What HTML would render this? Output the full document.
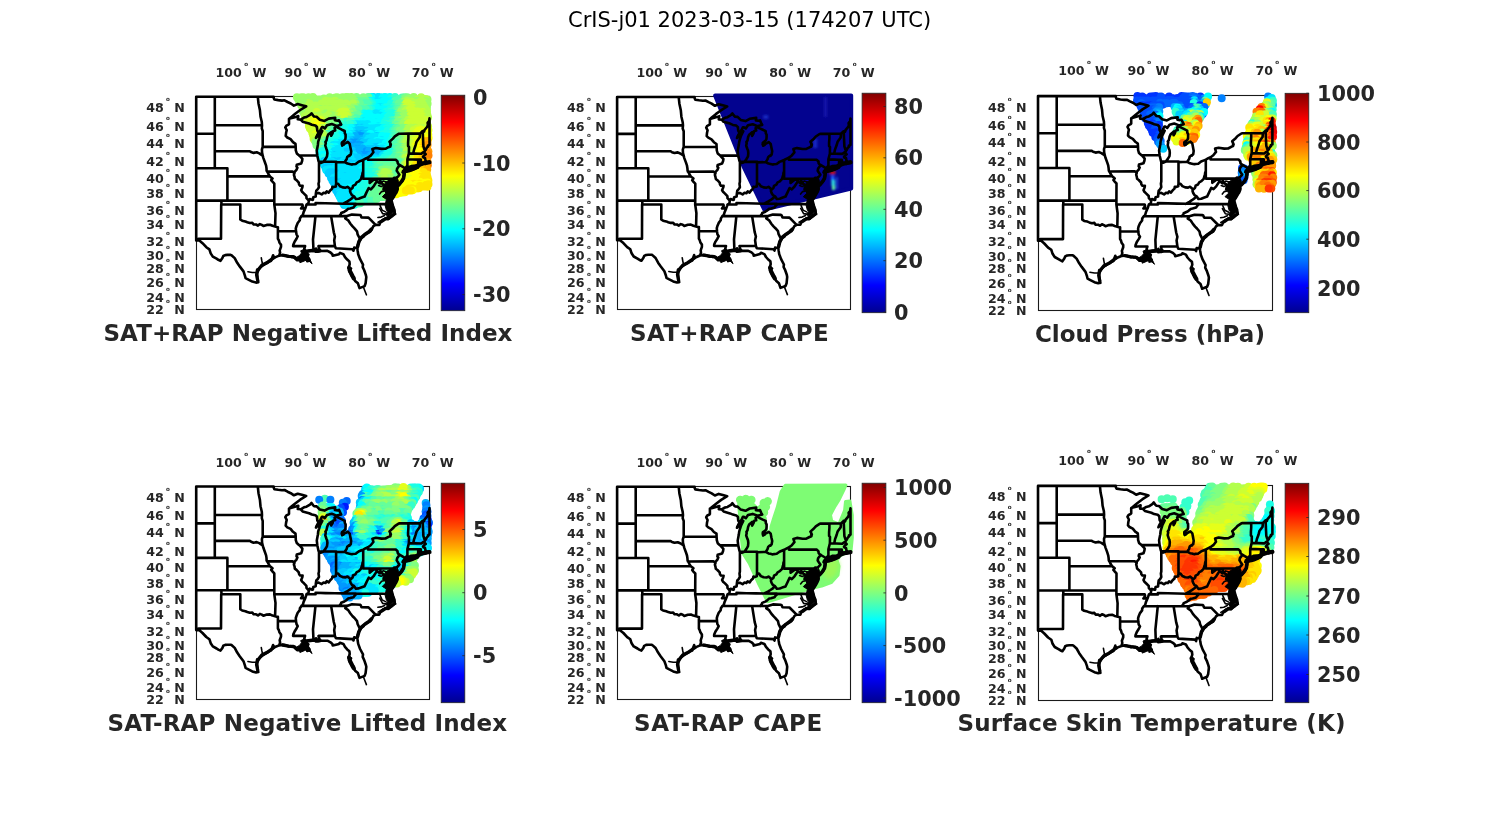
<!DOCTYPE html>
<html><head><meta charset="utf-8"><title>CrIS-j01 2023-03-15 (174207 UTC)</title>
<style>
html,body{margin:0;padding:0;background:#fff;}
svg{display:block;}
text{font-family:"DejaVu Sans","Liberation Sans",sans-serif;}
.b{font-weight:bold;fill:#262626;}
.st{fill:none;stroke:#000;stroke-width:2.6;stroke-linejoin:round;stroke-linecap:round;}
</style></head><body>
<svg width="1500" height="825" viewBox="0 0 1500 825">
<defs>
<linearGradient id="jet" x1="0" y1="1" x2="0" y2="0">
<stop offset="0" stop-color="rgb(0,0,143)"/><stop offset="0.125" stop-color="rgb(0,0,255)"/><stop offset="0.375" stop-color="rgb(0,255,255)"/><stop offset="0.625" stop-color="rgb(255,255,0)"/><stop offset="0.875" stop-color="rgb(255,0,0)"/><stop offset="1" stop-color="rgb(128,0,0)"/></linearGradient>
<filter id="bl2" x="-5%" y="-5%" width="110%" height="110%"><feGaussianBlur stdDeviation="2"/></filter>
<filter id="bl1" x="-5%" y="-5%" width="110%" height="110%"><feGaussianBlur stdDeviation="1"/></filter>
</defs>
<rect width="1500" height="825" fill="#fff"/>
<text x="749.6" y="27.3" text-anchor="middle" font-size="21" fill="#000">CrIS-j01 2023-03-15 (174207 UTC)</text>
<g id="panel1">
<rect x="196.5" y="96.5" width="233.0" height="213.0" fill="none" stroke="#1a1a1a" stroke-width="1.1"/>
<g fill="none" stroke-linecap="round" stroke-width="8.0"><path stroke="#00ccff" d="M373.1 97.0h0M374.9 98.9h0M377.2 99.0h0"/><path stroke="#00e5ff" d="M377.9 97.0h0M380.0 97.3h0M379.1 98.7h0"/><path stroke="#00ffff" d="M389.8 97.0h0M371.2 97.0h0M385.3 97.1h0M383.3 97.2h0M387.3 97.4h0M386.9 98.6h0M388.5 98.7h0M384.1 98.9h0M382.1 99.1h0M371.7 99.4h0"/><path stroke="#1affe5" d="M369.8 98.7h0M393.7 98.7h0M390.9 98.8h0"/><path stroke="#33ffcc" d="M395.0 97.1h0M401.3 98.9h0M395.9 99.3h0"/><path stroke="#4dffb2" d="M402.2 97.4h0M403.3 98.7h0M398.9 99.0h0M367.8 99.5h0"/><path stroke="#66ff99" d="M368.2 97.0h0M404.8 97.3h0M362.9 98.9h0M359.8 99.3h0"/><path stroke="#80ff80" d="M356.5 97.0h0M407.3 97.2h0M363.3 97.2h0M405.3 98.6h0M357.3 98.7h0M355.8 98.8h0M364.7 99.4h0"/><path stroke="#99ff66" d="M312.9 97.0h0M351.4 97.0h0M346.9 97.1h0M413.7 97.1h0M342.5 97.2h0M337.2 97.2h0M308.5 97.2h0M296.9 97.3h0M301.5 97.3h0M349.1 97.3h0M303.3 97.3h0M329.7 97.3h0M335.4 97.4h0M344.6 97.4h0M311.4 97.4h0M323.9 98.6h0M343.7 98.6h0M410.3 98.6h0M422.3 98.7h0M302.0 98.7h0M329.0 98.7h0M348.0 98.8h0M307.4 98.8h0M340.9 98.9h0M333.6 98.9h0M312.3 99.0h0M336.3 99.0h0M298.1 99.1h0M310.0 99.1h0M419.9 99.1h0M407.9 99.2h0M415.0 99.2h0M314.4 99.2h0M338.1 99.2h0M353.3 99.3h0M331.8 99.3h0M304.6 99.3h0M322.2 99.3h0M300.2 99.4h0M326.1 99.4h0M319.1 99.4h0M350.9 99.5h0M427.5 99.5h0M316.7 99.5h0M413.4 99.5h0M345.6 99.6h0"/><path stroke="#b3ff4c" d="M421.1 97.2h0M425.4 99.0h0M417.8 99.3h0"/><path stroke="#00e5ff" d="M380.7 101.4h0M378.3 101.5h0M373.3 101.5h0M376.0 101.5h0"/><path stroke="#00ffff" d="M371.1 100.7h0M385.4 100.8h0M392.4 101.2h0M387.4 101.2h0M389.7 101.3h0M383.3 101.6h0M379.1 102.8h0M384.4 102.9h0M376.6 102.9h0M389.0 103.0h0"/><path stroke="#33ffcc" d="M368.9 101.6h0M393.6 103.0h0"/><path stroke="#4dffb2" d="M395.2 100.7h0M397.6 101.3h0M400.1 101.6h0"/><path stroke="#66ff99" d="M356.6 100.9h0M365.9 101.1h0M363.5 101.2h0M359.0 101.2h0M361.3 101.3h0M402.4 101.5h0M362.6 102.9h0"/><path stroke="#99ff66" d="M419.2 100.7h0M349.4 100.7h0M305.9 100.7h0M308.1 100.7h0M316.0 100.7h0M351.4 100.8h0M313.7 100.8h0M409.3 100.8h0M303.8 100.9h0M337.5 100.9h0M416.1 101.0h0M320.9 101.0h0M344.4 101.0h0M354.5 101.1h0M404.7 101.1h0M425.9 101.2h0M301.2 101.2h0M413.7 101.3h0M346.5 101.3h0M332.8 101.3h0M317.8 101.4h0M310.7 101.4h0M340.2 101.5h0M423.8 101.5h0M342.2 101.5h0M299.3 101.6h0M322.9 101.6h0M312.6 102.9h0"/><path stroke="#b3ff4c" d="M421.3 100.7h0M325.7 100.8h0M334.9 100.8h0M327.3 101.0h0M407.4 101.0h0M330.4 101.6h0M411.4 101.6h0M326.2 102.7h0M424.6 102.8h0M420.1 102.8h0M417.5 102.8h0M307.6 102.9h0M410.6 102.9h0"/><path stroke="#00e5ff" d="M376.0 104.9h0M378.0 105.5h0"/><path stroke="#00ffff" d="M381.8 103.1h0M374.4 103.4h0M386.7 103.6h0M390.2 104.9h0M383.3 105.1h0M372.9 105.3h0M385.1 105.4h0M387.6 105.6h0M380.2 105.6h0M392.5 105.8h0"/><path stroke="#1affe5" d="M391.0 103.5h0M372.1 103.7h0"/><path stroke="#33ffcc" d="M369.6 103.4h0M395.3 105.5h0M370.8 105.5h0"/><path stroke="#4dffb2" d="M364.9 103.2h0M367.3 103.5h0M396.3 103.6h0M368.6 105.3h0M363.3 105.6h0M397.7 105.6h0M361.7 105.7h0M366.0 105.8h0"/><path stroke="#66ff99" d="M358.0 103.3h0M398.9 103.4h0M403.0 103.4h0M359.9 103.4h0M400.9 103.5h0M359.4 105.0h0M401.7 105.2h0M399.4 105.2h0M356.8 105.6h0"/><path stroke="#99ff66" d="M304.8 103.0h0M336.6 103.0h0M314.6 103.0h0M319.3 103.2h0M316.8 103.3h0M300.6 103.3h0M350.7 103.4h0M348.1 103.5h0M302.9 103.5h0M355.6 103.6h0M343.2 103.6h0M427.6 103.7h0M332.3 104.9h0M325.2 104.9h0M303.4 105.0h0M342.3 105.1h0M308.7 105.1h0M348.9 105.2h0M301.2 105.3h0M347.0 105.4h0M306.1 105.4h0M345.0 105.4h0M322.6 105.5h0M354.3 105.5h0M426.6 105.6h0M404.1 105.6h0M329.7 105.7h0M313.6 105.7h0M351.4 105.7h0M328.1 105.7h0M320.2 105.7h0M311.3 105.8h0"/><path stroke="#b3ff4c" d="M413.1 103.1h0M340.4 103.1h0M334.1 103.1h0M338.6 103.3h0M422.1 103.3h0M353.1 103.4h0M324.1 103.4h0M415.1 103.5h0M321.6 103.5h0M329.0 103.6h0M346.0 103.6h0M309.8 103.7h0M331.3 103.7h0M414.0 105.1h0M417.0 105.3h0M423.4 105.3h0M315.6 105.4h0M339.6 105.4h0M334.5 105.5h0M337.5 105.7h0M318.0 105.7h0M421.8 105.7h0M419.4 105.8h0"/><path stroke="#ccff33" d="M406.2 103.2h0M408.4 103.3h0M411.8 105.0h0M406.7 105.1h0M409.2 105.6h0"/><path stroke="#00e5ff" d="M381.6 107.3h0M379.2 107.3h0"/><path stroke="#00ffff" d="M383.8 107.2h0M374.4 107.4h0M376.8 107.6h0"/><path stroke="#1affe5" d="M386.6 107.2h0M391.5 107.3h0M388.7 107.4h0M372.5 107.8h0"/><path stroke="#33ffcc" d="M393.7 107.6h0M370.2 107.8h0"/><path stroke="#4dffb2" d="M367.4 107.3h0M396.6 107.6h0M362.6 107.9h0M363.7 109.0h0"/><path stroke="#66ff99" d="M400.5 107.1h0M359.9 107.4h0M357.6 107.5h0M398.2 107.9h0M365.1 107.9h0"/><path stroke="#99ff66" d="M302.6 107.1h0M403.8 107.3h0M353.0 107.4h0M345.5 107.6h0M355.4 107.7h0M426.9 107.7h0M350.8 107.9h0"/><path stroke="#b3ff4c" d="M309.3 107.0h0M311.9 107.0h0M415.5 107.0h0M334.2 107.1h0M347.7 107.2h0M422.1 107.3h0M338.5 107.3h0M307.0 107.3h0M343.7 107.4h0M417.5 107.4h0M424.7 107.4h0M314.7 107.4h0M329.1 107.4h0M305.1 107.5h0M341.2 107.5h0M331.6 107.6h0M336.4 107.7h0M420.5 107.7h0M321.6 107.7h0M316.5 107.7h0M319.0 107.8h0M323.9 107.8h0M326.9 107.8h0"/><path stroke="#ccff33" d="M406.1 107.0h0M408.6 107.4h0M412.5 107.4h0M410.4 107.8h0"/><path stroke="#00e5ff" d="M380.3 109.5h0"/><path stroke="#00ffff" d="M373.1 109.0h0M378.3 109.2h0M383.4 109.3h0M375.4 109.4h0M388.1 109.4h0M385.5 109.8h0M379.7 111.6h0M376.8 111.7h0M384.5 111.7h0M381.2 111.9h0M374.9 112.0h0"/><path stroke="#1affe5" d="M371.2 109.1h0M392.6 109.4h0M390.3 109.5h0M366.9 111.1h0M371.9 111.2h0M389.4 111.2h0M364.6 111.4h0M370.0 111.7h0M386.3 111.8h0"/><path stroke="#33ffcc" d="M368.7 109.0h0M395.1 109.5h0M391.3 111.5h0M394.2 111.8h0M362.6 112.0h0"/><path stroke="#4dffb2" d="M397.3 109.1h0M365.8 109.2h0M361.8 109.3h0M359.8 111.5h0M396.3 111.7h0"/><path stroke="#66ff99" d="M358.5 109.2h0M356.0 109.3h0M354.5 109.4h0M399.7 109.5h0M355.6 111.5h0M357.7 111.8h0M398.3 111.8h0"/><path stroke="#80ff80" d="M401.9 109.5h0"/><path stroke="#99ff66" d="M346.7 109.1h0M404.4 109.1h0M320.4 109.1h0M351.5 109.2h0M329.9 109.2h0M308.4 109.5h0M349.5 109.5h0M325.4 109.6h0M401.1 111.4h0M403.5 111.5h0M350.2 111.8h0M331.8 111.8h0"/><path stroke="#b3ff4c" d="M337.4 109.0h0M423.7 109.1h0M344.4 109.1h0M306.2 109.2h0M416.9 109.2h0M313.8 109.2h0M317.9 109.2h0M327.6 109.3h0M342.5 109.3h0M419.3 109.3h0M332.5 109.3h0M303.5 109.5h0M407.1 109.5h0M323.0 109.6h0M339.9 109.6h0M311.4 109.6h0M425.9 109.6h0M315.7 109.7h0M421.0 109.8h0M334.6 109.9h0M413.8 109.9h0M405.5 111.1h0M309.7 111.1h0M311.6 111.1h0M427.0 111.3h0M407.9 111.3h0M329.3 111.4h0M324.2 111.4h0M420.4 111.4h0M333.7 111.4h0M348.5 111.4h0M305.0 111.5h0M336.4 111.5h0M302.9 111.5h0M314.2 111.6h0M338.7 111.6h0M307.2 111.7h0M425.1 111.8h0M319.5 111.9h0M321.5 111.9h0M326.8 112.0h0"/><path stroke="#ccff33" d="M411.3 109.3h0M409.7 109.7h0M417.6 111.4h0M415.3 111.5h0M343.5 111.5h0M412.7 111.6h0M422.6 111.9h0M341.1 111.9h0"/><path stroke="#00e5ff" d="M375.9 113.2h0M380.2 113.6h0M373.8 114.0h0M378.1 114.1h0"/><path stroke="#00ffff" d="M382.6 113.5h0M364.0 113.5h0M368.6 113.6h0M385.8 113.9h0M370.6 114.0h0M365.7 114.0h0"/><path stroke="#1affe5" d="M392.3 113.2h0M389.8 113.3h0M388.1 113.6h0M395.4 114.0h0M361.3 114.0h0"/><path stroke="#4dffb2" d="M359.1 113.8h0"/><path stroke="#66ff99" d="M351.5 113.1h0M356.5 113.7h0M353.8 113.9h0M397.8 113.9h0"/><path stroke="#80ff80" d="M352.8 112.0h0"/><path stroke="#99ff66" d="M349.8 113.3h0M303.8 113.3h0M407.0 113.4h0M325.5 113.5h0M399.9 113.5h0M404.9 113.6h0M306.5 113.7h0M332.6 113.7h0M310.5 113.9h0M327.3 114.0h0M322.8 114.0h0M402.1 114.1h0"/><path stroke="#b3ff4c" d="M334.7 113.2h0M315.8 113.3h0M308.4 113.3h0M317.7 113.4h0M330.1 113.4h0M313.6 113.5h0M426.5 113.6h0M423.8 113.6h0M320.3 113.8h0M337.1 113.9h0M347.1 113.9h0M409.4 114.0h0"/><path stroke="#ccff33" d="M345.9 112.0h0M316.7 112.0h0M410.6 112.0h0M339.9 113.2h0M416.6 113.2h0M344.5 113.2h0M342.3 113.4h0M421.2 113.7h0M412.1 113.9h0M418.4 114.0h0M414.0 114.1h0"/><path stroke="#00e5ff" d="M374.1 115.3h0M379.5 115.5h0M372.1 115.7h0M381.7 115.9h0M377.1 116.2h0M371.3 117.4h0M382.6 117.6h0"/><path stroke="#00ffff" d="M367.5 115.4h0M362.6 115.4h0M369.9 115.5h0M364.9 115.6h0M386.6 115.7h0M384.6 116.0h0M377.7 117.5h0M385.3 117.5h0M373.1 117.6h0"/><path stroke="#1affe5" d="M391.3 115.7h0M393.9 115.7h0M389.1 115.8h0M361.2 117.3h0M387.5 117.5h0"/><path stroke="#33ffcc" d="M396.4 115.8h0M359.7 116.0h0M394.9 117.5h0M359.0 117.7h0"/><path stroke="#66ff99" d="M357.8 115.2h0M355.8 115.2h0M398.3 115.8h0M352.6 116.1h0M351.4 117.5h0M354.2 117.5h0"/><path stroke="#80ff80" d="M400.9 116.1h0M350.4 116.2h0M349.2 117.3h0M399.3 117.4h0"/><path stroke="#99ff66" d="M331.7 115.3h0M321.5 115.4h0M307.7 115.8h0M405.9 115.8h0M408.1 115.8h0M403.3 115.9h0M324.1 115.9h0M333.6 116.0h0M335.9 116.0h0M327.5 117.3h0M337.1 117.4h0M335.4 117.5h0M406.9 117.6h0M329.7 117.8h0M402.5 117.8h0"/><path stroke="#b3ff4c" d="M347.8 115.3h0M427.5 115.4h0M425.0 115.4h0M318.9 115.5h0M328.5 115.5h0M338.1 115.8h0M314.6 115.8h0M309.3 115.8h0M304.9 116.0h0M316.6 116.1h0M311.9 116.2h0M326.9 116.2h0M346.5 117.3h0M409.3 117.3h0M339.7 117.4h0M428.1 117.5h0M310.8 117.5h0M325.4 117.6h0M322.9 117.6h0M320.4 117.8h0M308.6 117.9h0M318.1 118.0h0"/><path stroke="#ccff33" d="M410.8 115.2h0M343.0 115.3h0M345.8 115.3h0M418.1 115.4h0M413.2 115.5h0M341.3 115.6h0M415.2 115.8h0M422.2 115.9h0M419.7 116.2h0M342.6 117.4h0M416.7 117.4h0M414.3 117.4h0M419.0 117.5h0M423.7 117.8h0M411.4 117.9h0M315.2 118.0h0"/><path stroke="#00e5ff" d="M374.9 119.6h0M376.9 120.3h0"/><path stroke="#00ffff" d="M363.9 118.0h0M375.7 118.1h0M368.8 118.2h0M365.8 118.2h0M380.1 118.2h0M379.5 119.4h0M367.2 119.4h0M382.2 119.6h0M371.8 119.7h0M384.3 119.9h0M365.3 119.9h0M369.9 120.2h0M362.6 120.4h0"/><path stroke="#1affe5" d="M392.6 118.1h0M390.1 118.2h0M359.7 119.7h0M388.8 119.8h0M357.6 119.9h0M386.6 120.0h0"/><path stroke="#33ffcc" d="M391.4 120.2h0"/><path stroke="#4dffb2" d="M356.2 118.2h0M355.3 119.4h0M395.9 120.1h0M393.7 120.2h0"/><path stroke="#66ff99" d="M397.7 118.2h0M353.4 119.4h0M350.6 120.2h0M345.9 120.2h0"/><path stroke="#80ff80" d="M398.8 119.4h0M348.3 119.6h0M336.0 119.8h0M338.2 120.1h0"/><path stroke="#99ff66" d="M332.9 118.0h0M405.0 118.0h0M340.6 119.5h0M342.9 119.7h0M331.4 119.8h0M333.8 119.8h0M329.3 119.9h0M405.2 119.9h0M403.6 119.9h0M401.0 120.1h0"/><path stroke="#b3ff4c" d="M426.5 118.1h0M305.8 118.2h0M408.4 119.5h0M326.3 119.7h0M324.0 120.3h0"/><path stroke="#ccff33" d="M344.1 118.0h0M313.8 118.0h0M421.0 118.1h0M415.1 119.5h0M321.2 119.5h0M417.6 119.5h0M423.0 119.5h0M424.4 119.6h0M426.9 120.0h0M307.5 120.0h0M412.9 120.1h0M410.1 120.1h0M309.4 120.3h0M420.5 120.3h0"/><path stroke="#e5ff1a" d="M314.2 119.6h0M316.8 119.8h0M311.9 120.0h0M318.9 120.3h0"/><path stroke="#00e5ff" d="M363.3 121.5h0M375.4 121.9h0M370.9 122.2h0M372.1 123.7h0M370.1 123.8h0M374.2 123.8h0M364.5 124.0h0"/><path stroke="#00ffff" d="M368.3 121.5h0M359.0 121.7h0M373.4 121.8h0M365.8 121.8h0M361.0 121.9h0M378.1 122.0h0M383.0 122.1h0M380.3 122.3h0M376.5 123.6h0M381.8 123.6h0M379.8 124.0h0"/><path stroke="#1affe5" d="M356.2 121.6h0M389.8 121.7h0M387.7 121.8h0M385.1 122.0h0M354.5 122.2h0M347.8 123.6h0M391.3 123.6h0M345.6 123.9h0M389.0 124.0h0"/><path stroke="#33ffcc" d="M346.5 121.5h0M392.6 121.7h0M344.9 121.9h0M341.7 122.4h0M343.2 123.9h0M394.1 123.9h0M386.6 123.9h0"/><path stroke="#4dffb2" d="M349.8 121.9h0M351.4 122.0h0M395.3 122.2h0"/><path stroke="#66ff99" d="M340.0 122.0h0M337.0 122.0h0M335.7 123.9h0"/><path stroke="#80ff80" d="M397.8 121.8h0M327.6 121.9h0M399.8 122.1h0M330.1 122.3h0M402.4 122.3h0M334.8 122.4h0M332.2 122.4h0M329.3 123.5h0M398.7 123.6h0M401.3 123.8h0"/><path stroke="#99ff66" d="M404.3 121.8h0M324.9 122.2h0"/><path stroke="#b3ff4c" d="M407.1 121.6h0M405.6 123.6h0M427.1 123.6h0M323.7 124.0h0"/><path stroke="#ccff33" d="M419.2 121.5h0M416.7 121.7h0M323.2 121.9h0M308.5 121.9h0M421.0 122.0h0M426.1 122.0h0M413.7 122.1h0M424.2 122.2h0M412.0 122.3h0M409.7 122.4h0M415.1 123.7h0M311.8 123.9h0M422.7 123.9h0M425.0 124.0h0M413.4 124.0h0"/><path stroke="#e5ff1a" d="M310.6 122.1h0M320.8 122.1h0M313.4 122.2h0"/><path stroke="#ffff00" d="M315.4 121.4h0M317.7 121.8h0M317.4 123.6h0M319.4 123.7h0"/><path stroke="#00e5ff" d="M367.4 124.1h0M360.5 124.2h0M362.9 124.3h0M357.7 124.3h0M355.6 124.3h0M361.6 125.8h0M365.8 125.9h0M369.0 126.1h0M378.4 126.3h0M356.5 126.4h0M363.6 126.5h0M358.8 126.5h0"/><path stroke="#00ffff" d="M372.8 125.9h0M353.7 126.2h0M380.1 126.4h0M371.1 126.5h0M375.9 126.6h0"/><path stroke="#1affe5" d="M353.0 124.1h0M384.3 124.5h0M347.4 125.6h0M383.3 125.7h0M352.0 125.8h0M349.1 126.1h0M387.7 126.1h0M389.9 126.2h0M344.3 126.5h0M385.5 126.5h0"/><path stroke="#33ffcc" d="M341.1 124.2h0M350.1 124.2h0M341.9 125.7h0M392.4 126.2h0M339.6 126.3h0"/><path stroke="#4dffb2" d="M338.7 124.5h0M337.0 126.5h0"/><path stroke="#66ff99" d="M395.7 124.4h0M395.3 126.0h0M334.7 126.4h0"/><path stroke="#80ff80" d="M326.9 124.2h0M334.0 124.3h0M330.9 124.3h0M332.1 125.6h0M400.2 125.7h0M330.3 125.8h0M327.8 126.1h0M401.9 126.2h0M397.3 126.4h0"/><path stroke="#99ff66" d="M403.4 124.1h0M404.2 125.9h0M325.5 126.5h0"/><path stroke="#b3ff4c" d="M406.7 126.4h0"/><path stroke="#ccff33" d="M417.7 124.1h0M407.9 124.1h0M420.1 124.2h0M310.0 124.2h0M410.3 124.5h0M421.8 125.6h0M409.6 125.8h0M308.9 126.0h0M416.8 126.1h0M311.3 126.1h0M323.1 126.2h0M413.7 126.3h0M423.4 126.4h0M418.7 126.4h0M428.1 126.4h0M426.1 126.4h0M412.0 126.5h0"/><path stroke="#e5ff1a" d="M314.3 124.0h0M321.4 124.4h0M313.8 126.1h0M320.7 126.2h0"/><path stroke="#ffff00" d="M315.9 125.7h0M317.6 125.9h0"/><path stroke="#00ccff" d="M362.1 127.8h0M357.6 128.0h0M355.4 128.6h0M371.7 128.7h0M363.9 129.8h0M368.4 129.9h0"/><path stroke="#00e5ff" d="M377.4 127.7h0M378.8 127.8h0M367.0 127.9h0M352.6 127.9h0M364.7 127.9h0M374.3 128.2h0M381.3 128.2h0M369.9 128.4h0M359.6 128.5h0M353.6 129.8h0M373.7 130.0h0"/><path stroke="#00ffff" d="M383.6 128.0h0M343.6 128.1h0M351.0 128.1h0M348.3 128.2h0"/><path stroke="#1affe5" d="M393.4 127.7h0M345.3 127.9h0M389.0 128.0h0M391.3 128.1h0M340.6 128.3h0M338.8 128.4h0M386.6 128.5h0"/><path stroke="#4dffb2" d="M335.8 127.7h0M395.9 127.9h0M330.5 129.9h0"/><path stroke="#66ff99" d="M328.7 127.9h0M333.9 128.0h0M398.9 128.4h0M401.3 128.6h0M331.4 128.6h0"/><path stroke="#80ff80" d="M403.5 127.8h0M326.2 127.9h0M405.6 127.9h0M401.9 129.8h0"/><path stroke="#99ff66" d="M324.1 128.5h0"/><path stroke="#b3ff4c" d="M410.9 127.7h0M415.0 127.8h0M321.6 128.0h0M412.6 128.2h0M422.1 128.3h0M407.8 128.4h0M424.6 128.5h0"/><path stroke="#ccff33" d="M312.5 127.8h0M309.8 128.3h0M419.6 128.5h0M417.3 128.5h0M427.6 128.6h0M416.8 129.8h0M313.5 129.9h0"/><path stroke="#e5ff1a" d="M314.9 127.9h0M317.4 128.3h0M319.1 128.7h0M421.4 129.9h0"/><path stroke="#00b2ff" d="M358.4 130.6h0M358.1 132.5h0M360.2 132.6h0M362.9 132.6h0"/><path stroke="#00ccff" d="M361.8 130.1h0M356.6 130.4h0M366.0 130.7h0M365.2 131.9h0M355.1 132.6h0"/><path stroke="#00e5ff" d="M371.0 130.4h0M351.8 130.7h0M375.9 130.7h0M372.6 131.9h0M350.8 132.1h0M347.7 132.2h0M376.8 132.2h0M374.8 132.4h0M367.3 132.5h0M352.5 132.5h0M369.7 132.6h0"/><path stroke="#00ffff" d="M380.4 130.3h0M378.5 130.4h0M341.8 130.5h0M385.7 130.5h0M346.9 130.6h0M349.5 130.6h0M382.8 130.7h0M346.2 132.1h0M343.4 132.1h0M340.7 132.6h0M384.2 132.6h0M379.8 132.6h0M381.8 132.7h0"/><path stroke="#1affe5" d="M390.1 130.3h0M339.3 130.4h0M344.4 130.4h0M387.7 130.6h0M338.2 131.8h0M391.2 132.0h0M387.0 132.1h0M389.2 132.2h0"/><path stroke="#33ffcc" d="M337.1 130.0h0M393.0 130.5h0M336.5 132.4h0M328.9 132.4h0M333.3 132.4h0M331.7 132.8h0M393.6 132.8h0"/><path stroke="#4dffb2" d="M334.9 130.1h0M394.8 130.5h0M332.7 130.5h0"/><path stroke="#66ff99" d="M397.4 130.0h0M327.5 130.3h0M326.4 132.0h0M396.5 132.5h0"/><path stroke="#80ff80" d="M404.3 130.6h0M399.8 130.6h0M325.3 130.6h0M400.8 132.2h0M398.7 132.4h0M403.6 132.6h0"/><path stroke="#99ff66" d="M324.3 131.9h0M405.9 132.1h0"/><path stroke="#b3ff4c" d="M411.4 130.1h0M407.4 130.6h0M408.8 130.6h0M320.8 130.7h0M323.2 130.7h0M407.9 131.8h0M321.4 132.2h0M410.7 132.6h0"/><path stroke="#ccff33" d="M413.7 130.3h0M311.4 130.3h0M318.0 130.3h0M315.8 130.6h0M414.9 131.9h0M319.6 132.1h0M413.4 132.3h0M312.3 132.7h0M317.0 132.7h0M314.2 132.8h0"/><path stroke="#e5ff1a" d="M428.4 130.2h0M418.9 130.5h0M425.7 130.6h0M424.1 130.7h0M417.3 131.9h0M419.7 132.2h0M422.1 132.7h0"/><path stroke="#ffff00" d="M427.0 132.4h0M425.4 132.4h0"/><path stroke="#00b2ff" d="M361.6 134.1h0M356.2 134.3h0M359.1 134.7h0M364.8 136.0h0"/><path stroke="#00ccff" d="M366.2 134.1h0M364.1 134.2h0M353.7 134.7h0"/><path stroke="#00e5ff" d="M376.1 134.0h0M342.3 134.0h0M352.0 134.1h0M344.3 134.4h0M373.6 134.6h0M346.6 134.7h0M369.0 134.8h0"/><path stroke="#00ffff" d="M370.4 133.9h0M378.3 134.3h0M339.4 134.6h0M388.2 134.7h0M349.2 134.8h0M380.2 134.9h0"/><path stroke="#1affe5" d="M390.0 134.0h0M330.3 134.2h0M382.8 134.2h0M385.2 134.5h0M337.1 134.8h0"/><path stroke="#33ffcc" d="M327.9 134.0h0M332.8 134.1h0M334.6 134.1h0M392.9 134.1h0"/><path stroke="#4dffb2" d="M394.8 134.2h0"/><path stroke="#66ff99" d="M400.0 134.7h0M397.4 134.9h0"/><path stroke="#80ff80" d="M404.1 134.1h0M402.5 134.3h0M325.7 134.9h0"/><path stroke="#b3ff4c" d="M409.3 134.3h0M407.3 134.4h0M323.1 134.7h0M318.6 134.7h0M412.2 134.8h0M320.1 134.9h0M316.6 136.0h0"/><path stroke="#ccff33" d="M413.8 134.2h0M312.9 134.8h0"/><path stroke="#e5ff1a" d="M416.1 134.2h0M315.5 134.2h0M421.0 134.2h0M418.7 134.6h0"/><path stroke="#ffff00" d="M423.5 134.2h0M426.2 134.4h0M428.3 134.7h0"/><path stroke="#0099ff" d="M359.9 136.0h0M362.3 136.2h0M358.0 136.7h0M361.6 138.6h0M353.8 138.8h0"/><path stroke="#00b2ff" d="M355.1 136.1h0M352.6 136.8h0M363.3 138.6h0M356.2 138.7h0"/><path stroke="#00ccff" d="M376.8 136.0h0M366.8 136.4h0M369.4 136.7h0M351.4 138.1h0M366.2 138.5h0"/><path stroke="#00e5ff" d="M340.9 136.2h0M379.2 136.6h0M350.1 136.6h0M372.4 136.7h0M374.6 136.7h0M345.9 136.8h0M342.9 136.8h0M348.6 137.0h0M378.6 138.1h0M371.0 138.2h0M339.3 138.4h0M373.6 138.4h0M375.8 138.5h0M349.0 138.5h0M383.1 138.5h0M368.6 138.6h0M341.8 138.8h0M346.6 138.8h0M344.3 138.9h0M381.0 138.9h0"/><path stroke="#00ffff" d="M382.1 136.0h0M339.0 136.3h0M384.0 136.4h0M386.1 136.4h0M389.3 136.7h0M391.4 136.8h0M385.0 138.3h0M387.5 138.3h0M336.8 138.4h0M389.9 138.9h0"/><path stroke="#1affe5" d="M331.0 136.0h0M336.0 136.4h0M334.2 136.7h0M328.6 136.8h0M392.3 138.5h0M330.6 138.6h0M332.5 138.7h0"/><path stroke="#33ffcc" d="M393.5 136.2h0M395.3 138.6h0M328.0 138.9h0"/><path stroke="#4dffb2" d="M395.8 136.6h0M326.8 136.8h0M399.5 138.3h0M397.0 138.8h0"/><path stroke="#66ff99" d="M403.0 136.2h0M398.8 136.5h0M401.3 136.5h0M402.4 138.4h0M324.9 138.4h0"/><path stroke="#80ff80" d="M404.1 138.6h0M322.8 138.8h0"/><path stroke="#99ff66" d="M321.8 136.0h0M405.4 136.6h0M318.5 138.1h0M320.1 138.3h0M315.8 138.8h0M407.4 139.0h0"/><path stroke="#b3ff4c" d="M324.1 136.2h0M408.0 136.2h0M319.2 136.4h0M410.4 136.8h0M413.1 136.9h0M409.3 138.6h0M411.7 139.0h0"/><path stroke="#ccff33" d="M415.7 136.4h0M314.1 136.6h0M313.6 138.8h0"/><path stroke="#e5ff1a" d="M427.7 136.0h0M422.6 136.1h0M417.8 136.3h0M420.5 136.5h0M424.7 136.8h0M424.1 138.2h0M419.1 138.3h0M416.0 138.7h0M420.9 138.9h0"/><path stroke="#ffff00" d="M428.5 138.1h0M425.9 138.6h0"/><path stroke="#00b2ff" d="M359.0 139.0h0M353.4 140.2h0M357.9 140.4h0M355.4 141.0h0M359.6 141.1h0"/><path stroke="#00ccff" d="M350.0 140.3h0M364.8 140.5h0M362.3 141.0h0M348.0 141.1h0"/><path stroke="#00e5ff" d="M369.5 140.2h0M381.4 140.3h0M346.2 140.4h0M367.1 140.7h0M372.4 140.9h0M338.4 141.0h0M374.2 141.1h0"/><path stroke="#00ffff" d="M336.0 140.2h0M388.6 140.2h0M343.1 140.3h0M379.7 140.7h0M340.5 140.9h0M333.6 141.0h0M386.2 141.0h0M376.8 141.1h0M384.3 141.1h0"/><path stroke="#1affe5" d="M334.5 139.0h0M391.1 140.2h0M331.2 141.1h0"/><path stroke="#33ffcc" d="M326.6 140.9h0M328.6 141.1h0"/><path stroke="#4dffb2" d="M394.1 140.2h0M324.2 140.6h0M396.3 140.9h0"/><path stroke="#66ff99" d="M400.9 140.4h0M398.2 140.6h0"/><path stroke="#80ff80" d="M403.8 140.2h0M321.3 140.7h0M319.8 140.9h0"/><path stroke="#99ff66" d="M316.6 140.3h0"/><path stroke="#b3ff4c" d="M314.8 140.4h0M406.1 140.6h0M407.7 141.1h0"/><path stroke="#ccff33" d="M414.1 139.0h0M410.8 140.4h0M413.2 140.9h0"/><path stroke="#e5ff1a" d="M417.4 140.4h0M415.1 141.0h0"/><path stroke="#ffff00" d="M420.5 140.5h0M422.2 140.9h0"/><path stroke="#ffcc00" d="M424.6 140.9h0"/><path stroke="#ffb300" d="M427.6 140.9h0"/><path stroke="#0099ff" d="M356.3 142.4h0M351.6 142.5h0M354.3 142.8h0M352.9 144.6h0"/><path stroke="#00b2ff" d="M360.9 142.2h0M359.4 142.9h0M349.0 142.9h0M347.7 144.4h0"/><path stroke="#00ccff" d="M368.6 142.3h0M363.5 142.6h0M344.5 142.7h0M347.2 143.1h0M365.7 143.1h0M377.0 144.3h0M367.8 144.3h0M372.4 144.3h0M365.2 144.5h0M363.0 144.7h0M374.9 144.7h0M346.0 144.8h0M343.5 145.0h0"/><path stroke="#00e5ff" d="M371.1 142.3h0M377.9 142.3h0M342.2 142.4h0M373.1 142.5h0M376.1 142.5h0M336.9 142.7h0M382.6 142.9h0M380.7 142.9h0M339.7 143.0h0M383.8 144.3h0M379.3 144.5h0M336.2 144.6h0M369.8 144.7h0M382.1 144.8h0M386.3 144.9h0M341.1 145.0h0"/><path stroke="#00ffff" d="M335.0 142.5h0M387.4 142.5h0M333.0 142.9h0M385.7 143.2h0M388.9 144.8h0"/><path stroke="#1affe5" d="M330.3 142.5h0M390.1 142.8h0M327.4 142.8h0M325.0 142.9h0M330.9 144.5h0M324.5 144.6h0M328.5 144.7h0"/><path stroke="#33ffcc" d="M392.2 142.7h0"/><path stroke="#4dffb2" d="M397.5 142.4h0M322.7 142.9h0M394.5 143.2h0M396.6 144.4h0M401.3 144.5h0M398.6 144.6h0"/><path stroke="#66ff99" d="M320.1 142.6h0M400.1 143.2h0M403.7 144.6h0"/><path stroke="#80ff80" d="M315.8 142.3h0M402.6 142.6h0M318.0 143.0h0"/><path stroke="#99ff66" d="M404.8 142.4h0M406.0 144.6h0"/><path stroke="#b3ff4c" d="M406.4 142.5h0M409.8 142.6h0M412.0 142.9h0M410.5 144.7h0M413.0 144.8h0M407.7 144.9h0"/><path stroke="#ccff33" d="M414.3 142.6h0"/><path stroke="#e5ff1a" d="M420.5 144.4h0M417.5 145.0h0"/><path stroke="#ffff00" d="M421.0 142.3h0M419.1 142.6h0M417.0 143.1h0"/><path stroke="#ffe500" d="M423.4 142.8h0M422.5 144.4h0"/><path stroke="#ffb300" d="M426.1 143.1h0M424.9 144.7h0"/><path stroke="#ff9900" d="M427.6 144.8h0"/><path stroke="#0099ff" d="M360.4 145.2h0M355.0 145.3h0M358.1 145.3h0M350.3 145.3h0M354.3 147.2h0"/><path stroke="#00b2ff" d="M359.1 146.4h0M356.1 146.5h0M360.9 146.6h0M351.6 147.2h0M349.0 147.4h0"/><path stroke="#00ccff" d="M346.6 146.4h0M377.7 146.7h0M364.2 147.0h0M375.6 147.0h0M372.9 147.3h0"/><path stroke="#00e5ff" d="M338.2 145.0h0M333.6 145.1h0M341.7 146.4h0M366.6 146.5h0M368.7 146.6h0M385.8 146.7h0M337.8 146.8h0M370.6 147.0h0M344.2 147.1h0M339.7 147.2h0"/><path stroke="#00ffff" d="M335.1 146.7h0M333.0 146.8h0M388.0 146.8h0M380.8 146.9h0M382.6 147.2h0M389.7 147.3h0"/><path stroke="#1affe5" d="M326.7 145.1h0M390.9 145.2h0M325.5 146.5h0M327.3 146.5h0M330.5 146.9h0"/><path stroke="#33ffcc" d="M393.0 146.4h0M322.5 147.2h0"/><path stroke="#4dffb2" d="M394.1 145.1h0M322.1 145.1h0M394.9 146.8h0"/><path stroke="#66ff99" d="M397.8 146.9h0M320.8 147.0h0M401.8 147.1h0M399.7 147.2h0"/><path stroke="#80ff80" d="M319.5 145.2h0M316.5 145.2h0M318.5 146.9h0"/><path stroke="#99ff66" d="M404.7 146.9h0"/><path stroke="#b3ff4c" d="M408.9 146.8h0M407.3 147.4h0"/><path stroke="#ccff33" d="M411.7 147.2h0"/><path stroke="#e5ff1a" d="M415.5 145.1h0M414.2 147.0h0"/><path stroke="#ffff00" d="M416.4 146.6h0M418.7 147.2h0"/><path stroke="#ffe500" d="M421.6 147.2h0"/><path stroke="#ffb300" d="M424.1 146.7h0"/><path stroke="#ff9900" d="M426.5 147.0h0"/><path stroke="#0099ff" d="M355.1 149.2h0M359.8 149.3h0M361.0 150.7h0M363.4 150.8h0M356.5 150.9h0"/><path stroke="#00b2ff" d="M362.3 148.6h0M352.5 148.6h0M350.4 148.7h0M364.9 149.4h0M367.7 149.4h0M357.5 149.4h0M375.6 150.6h0M353.8 150.6h0M371.1 151.0h0"/><path stroke="#00ccff" d="M374.9 148.5h0M348.5 148.7h0M376.5 148.7h0M378.9 149.0h0M372.1 149.1h0M369.3 149.3h0M373.3 150.6h0M342.4 150.7h0M344.9 150.7h0M352.1 150.8h0"/><path stroke="#00e5ff" d="M382.0 148.6h0M338.9 148.8h0M345.7 148.9h0M343.1 149.0h0M333.9 149.2h0M340.5 149.3h0M336.6 149.3h0M384.1 149.4h0M332.5 150.6h0M337.1 150.8h0"/><path stroke="#00ffff" d="M331.6 149.3h0M386.6 149.4h0M385.3 150.6h0M327.7 150.7h0M330.3 150.9h0"/><path stroke="#1affe5" d="M323.9 148.7h0M391.6 148.9h0M326.4 149.0h0M388.9 149.4h0M328.5 149.4h0"/><path stroke="#33ffcc" d="M322.2 149.1h0M393.5 149.4h0M320.4 150.6h0M392.1 150.7h0"/><path stroke="#4dffb2" d="M395.8 149.1h0M397.0 150.7h0M394.8 151.0h0"/><path stroke="#66ff99" d="M400.8 149.0h0M399.0 149.1h0M319.3 149.3h0M402.3 150.7h0"/><path stroke="#80ff80" d="M403.0 149.2h0M404.7 151.0h0"/><path stroke="#99ff66" d="M405.3 148.8h0"/><path stroke="#b3ff4c" d="M410.4 148.8h0M408.4 149.1h0"/><path stroke="#ccff33" d="M412.9 148.8h0"/><path stroke="#e5ff1a" d="M415.5 148.6h0"/><path stroke="#ffff00" d="M420.1 149.0h0M417.7 149.1h0M419.4 150.6h0"/><path stroke="#ffe500" d="M422.3 149.3h0M423.6 150.6h0"/><path stroke="#ffb300" d="M424.6 148.6h0M426.2 150.6h0"/><path stroke="#ff9900" d="M427.3 149.3h0"/><path stroke="#0080ff" d="M367.3 152.8h0M365.0 153.4h0"/><path stroke="#0099ff" d="M366.4 151.2h0M360.6 152.8h0M379.8 153.0h0M362.7 153.2h0M369.3 153.6h0"/><path stroke="#00b2ff" d="M369.0 151.1h0M378.0 151.3h0M359.3 151.4h0M380.4 151.4h0M377.4 153.3h0M355.3 153.4h0M357.9 153.4h0M374.3 153.4h0M372.4 153.4h0M381.2 153.4h0"/><path stroke="#00ccff" d="M346.5 151.4h0M382.7 151.4h0M349.1 151.5h0M350.3 152.6h0M341.4 152.7h0M345.7 153.0h0M343.3 153.0h0M352.6 153.1h0M347.7 153.1h0M333.4 153.1h0M338.9 153.4h0M331.6 153.4h0"/><path stroke="#00e5ff" d="M334.5 151.1h0M340.1 151.4h0M336.4 153.0h0M383.8 153.2h0"/><path stroke="#00ffff" d="M388.0 151.4h0M325.3 151.5h0M388.7 152.6h0M321.2 153.0h0M319.6 153.1h0M328.5 153.1h0M391.1 153.2h0M327.0 153.4h0M324.0 153.5h0M387.0 153.6h0"/><path stroke="#1affe5" d="M322.8 151.0h0M390.2 151.4h0"/><path stroke="#33ffcc" d="M394.2 153.3h0"/><path stroke="#4dffb2" d="M398.1 152.7h0M395.9 153.1h0"/><path stroke="#66ff99" d="M399.8 151.5h0M400.6 152.8h0M403.0 153.1h0"/><path stroke="#99ff66" d="M405.7 153.1h0"/><path stroke="#b3ff4c" d="M411.7 151.2h0M409.3 151.3h0M406.8 151.4h0M412.9 153.1h0M410.9 153.1h0M408.2 153.6h0"/><path stroke="#ccff33" d="M414.1 151.0h0"/><path stroke="#e5ff1a" d="M416.4 151.2h0M415.8 153.3h0"/><path stroke="#ffff00" d="M421.0 151.2h0M419.6 152.6h0M422.2 152.9h0M417.4 153.3h0"/><path stroke="#ffcc00" d="M424.5 152.9h0"/><path stroke="#ff9900" d="M428.4 151.4h0"/><path stroke="#ff8000" d="M427.3 153.3h0"/><path stroke="#0099ff" d="M366.5 154.8h0M361.2 154.9h0M368.4 155.1h0M363.6 155.1h0"/><path stroke="#00b2ff" d="M358.6 154.8h0M376.0 154.9h0M378.4 155.0h0M380.9 155.2h0M370.9 155.3h0M356.8 155.6h0M372.9 155.7h0M369.4 156.8h0"/><path stroke="#00ccff" d="M346.8 155.0h0M334.9 155.1h0M379.8 156.8h0M372.0 156.9h0"/><path stroke="#00e5ff" d="M351.6 154.7h0M339.6 154.9h0M329.8 154.9h0M341.8 155.0h0M337.5 155.1h0M353.8 155.2h0M344.2 155.3h0M383.1 155.6h0M349.0 155.6h0M332.6 155.7h0"/><path stroke="#00ffff" d="M327.4 154.8h0M323.2 154.8h0M325.2 155.2h0M320.3 155.6h0M328.9 156.8h0"/><path stroke="#1affe5" d="M387.4 155.0h0M390.3 155.1h0M385.8 155.4h0M392.1 155.6h0"/><path stroke="#4dffb2" d="M395.3 155.6h0"/><path stroke="#66ff99" d="M401.9 155.1h0M397.5 155.5h0"/><path stroke="#80ff80" d="M399.9 155.4h0"/><path stroke="#99ff66" d="M406.5 154.9h0M404.7 155.1h0"/><path stroke="#b3ff4c" d="M412.0 155.1h0M409.2 155.6h0"/><path stroke="#ccff33" d="M414.0 155.2h0"/><path stroke="#e5ff1a" d="M415.0 157.0h0"/><path stroke="#ffff00" d="M416.4 155.4h0M418.8 155.5h0"/><path stroke="#ffe500" d="M421.7 155.2h0M419.7 156.8h0"/><path stroke="#ffcc00" d="M424.2 154.8h0"/><path stroke="#ff9900" d="M426.6 155.1h0"/><path stroke="#ff8000" d="M428.5 155.4h0"/><path stroke="#0099ff" d="M365.0 157.7h0"/><path stroke="#00b2ff" d="M376.9 157.1h0M359.9 157.4h0M362.1 157.7h0M366.9 157.7h0M363.4 159.2h0M361.3 159.5h0"/><path stroke="#00ccff" d="M353.3 157.2h0M357.7 157.5h0M355.3 157.6h0M374.6 157.6h0M351.7 159.3h0M365.8 159.4h0M354.1 159.4h0M356.3 159.4h0M347.4 159.6h0M359.0 159.6h0"/><path stroke="#00e5ff" d="M382.0 157.0h0M338.9 157.1h0M345.7 157.1h0M335.9 157.2h0M348.4 157.3h0M343.2 157.5h0M333.8 157.6h0M350.4 157.6h0M331.6 157.7h0M341.4 157.7h0M380.3 159.0h0M340.0 159.1h0M337.2 159.1h0M349.7 159.2h0M376.0 159.2h0M378.5 159.3h0M371.2 159.5h0M332.5 159.5h0M373.5 159.5h0M344.8 159.6h0M328.2 159.6h0M342.6 159.7h0M368.7 159.7h0M330.5 159.8h0M334.6 159.8h0"/><path stroke="#00ffff" d="M327.0 157.2h0M321.3 157.4h0M323.2 159.1h0M325.0 159.2h0"/><path stroke="#1affe5" d="M384.3 157.4h0M324.0 157.4h0M386.3 157.6h0M391.4 157.6h0M388.8 157.7h0M385.3 159.1h0M382.5 159.5h0"/><path stroke="#33ffcc" d="M389.8 159.1h0M387.6 159.3h0"/><path stroke="#4dffb2" d="M394.1 157.3h0M395.9 157.5h0M392.2 159.2h0M395.3 159.4h0"/><path stroke="#66ff99" d="M398.5 157.1h0M400.6 157.3h0M399.9 159.2h0M397.4 159.4h0"/><path stroke="#80ff80" d="M403.5 157.4h0M401.9 159.2h0"/><path stroke="#99ff66" d="M404.1 159.6h0"/><path stroke="#b3ff4c" d="M405.5 157.2h0M407.1 159.5h0"/><path stroke="#ccff33" d="M408.6 157.4h0M413.4 157.4h0M410.4 157.7h0M409.2 159.0h0M411.7 159.3h0"/><path stroke="#e5ff1a" d="M414.0 159.7h0"/><path stroke="#ffff00" d="M416.2 159.2h0"/><path stroke="#ffe500" d="M417.6 157.2h0M418.9 158.9h0"/><path stroke="#ffcc00" d="M422.7 157.0h0M423.6 159.0h0M421.8 159.0h0"/><path stroke="#ffb300" d="M425.0 157.3h0"/><path stroke="#ff9900" d="M426.6 159.6h0"/><path stroke="#ff8000" d="M426.9 157.4h0"/><path stroke="#00ccff" d="M360.1 161.1h0M340.8 161.1h0M324.3 161.1h0M333.7 161.1h0M350.6 161.2h0M338.4 161.3h0M355.4 161.4h0M362.2 161.5h0M335.7 161.5h0M348.1 161.9h0M358.2 161.9h0"/><path stroke="#00e5ff" d="M343.7 161.1h0M352.5 161.2h0M367.5 161.2h0M328.6 161.2h0M345.7 161.3h0M369.6 161.4h0M331.6 161.6h0M365.3 161.6h0M326.3 161.8h0"/><path stroke="#00ffff" d="M374.2 161.0h0M372.5 161.9h0"/><path stroke="#1affe5" d="M377.3 161.5h0"/><path stroke="#33ffcc" d="M378.9 161.0h0M386.3 161.2h0M384.1 161.3h0M381.7 161.4h0"/><path stroke="#4dffb2" d="M393.9 161.1h0M391.6 161.7h0"/><path stroke="#66ff99" d="M398.1 161.1h0M395.9 161.5h0M388.9 161.6h0M401.2 161.8h0M402.8 161.9h0"/><path stroke="#99ff66" d="M405.7 161.2h0"/><path stroke="#ccff33" d="M408.3 161.4h0"/><path stroke="#e5ff1a" d="M412.5 161.8h0M410.4 161.8h0"/><path stroke="#ffff00" d="M415.1 161.4h0"/><path stroke="#ffe500" d="M417.8 161.0h0"/><path stroke="#ffcc00" d="M423.0 161.5h0M420.4 161.5h0"/><path stroke="#ffb300" d="M425.1 161.7h0"/><path stroke="#ff9900" d="M427.5 161.4h0"/><path stroke="#00ccff" d="M349.7 163.0h0M344.8 163.1h0M356.9 163.5h0M332.3 163.6h0M329.8 163.6h0M358.7 163.6h0M354.0 163.9h0M347.2 163.9h0M351.5 163.9h0M337.5 164.0h0M353.0 165.6h0M357.7 165.9h0M347.8 166.0h0"/><path stroke="#00e5ff" d="M335.1 163.2h0M323.2 163.3h0M363.8 163.4h0M327.9 163.5h0M361.8 163.6h0M339.9 163.6h0M325.5 163.9h0M342.3 164.0h0M324.2 165.1h0M335.7 165.3h0M338.6 165.3h0M360.2 165.4h0M333.2 165.4h0M355.4 165.5h0M341.4 165.6h0M331.3 165.7h0M329.3 165.7h0M345.3 166.0h0M350.3 166.0h0M343.7 166.0h0"/><path stroke="#00ffff" d="M373.2 163.1h0M365.9 163.4h0M368.4 163.9h0M370.9 163.9h0M362.9 165.9h0M364.5 166.0h0"/><path stroke="#1affe5" d="M374.3 165.6h0M372.6 165.7h0M370.0 165.8h0"/><path stroke="#33ffcc" d="M378.0 163.4h0M375.5 163.8h0"/><path stroke="#4dffb2" d="M385.1 163.0h0M380.8 163.1h0M396.9 163.1h0M382.5 163.2h0M389.8 163.2h0M399.7 163.2h0M402.2 163.5h0M392.3 163.6h0M395.0 163.7h0M387.5 164.0h0M377.1 165.3h0M384.0 165.5h0"/><path stroke="#66ff99" d="M396.3 165.1h0M381.6 165.2h0M379.6 165.4h0M388.8 165.7h0M403.6 165.7h0M401.2 165.8h0M391.4 165.8h0M398.4 165.9h0"/><path stroke="#99ff66" d="M404.9 163.7h0"/><path stroke="#b3ff4c" d="M405.4 165.5h0"/><path stroke="#ccff33" d="M407.1 163.6h0"/><path stroke="#e5ff1a" d="M413.9 163.2h0M411.3 163.3h0M409.4 163.9h0M408.3 165.4h0M412.5 165.7h0M410.7 165.9h0"/><path stroke="#ffe500" d="M421.5 163.5h0M416.8 163.8h0M419.1 163.8h0M422.4 165.3h0M415.4 165.3h0M417.7 165.6h0"/><path stroke="#ffcc00" d="M424.1 163.2h0M420.6 165.4h0"/><path stroke="#ffb300" d="M426.3 163.1h0M424.9 165.2h0"/><path stroke="#ff8000" d="M427.8 165.3h0"/><path stroke="#00ccff" d="M326.6 166.0h0M354.2 167.2h0M344.2 167.4h0M352.2 167.5h0M332.1 167.6h0M337.3 167.6h0M349.4 167.6h0M356.3 167.7h0M325.5 167.8h0M327.5 167.8h0M329.6 167.8h0"/><path stroke="#00e5ff" d="M339.3 167.4h0M342.1 167.6h0M361.2 167.9h0M359.2 167.9h0M335.2 168.1h0M346.7 168.1h0"/><path stroke="#00ffff" d="M371.3 167.3h0M368.4 167.4h0M364.0 167.9h0M365.9 168.0h0"/><path stroke="#1affe5" d="M367.3 166.0h0M373.1 167.8h0"/><path stroke="#33ffcc" d="M375.7 167.6h0"/><path stroke="#4dffb2" d="M383.4 167.2h0M380.9 167.6h0M377.9 167.7h0M400.1 167.8h0"/><path stroke="#66ff99" d="M386.6 166.1h0M394.1 166.1h0M390.3 167.4h0M397.6 167.7h0M385.4 167.7h0M392.2 167.7h0M401.7 168.0h0M388.0 168.0h0M394.7 168.1h0"/><path stroke="#99ff66" d="M404.7 167.8h0"/><path stroke="#e5ff1a" d="M407.2 167.3h0M411.8 167.5h0M408.9 167.5h0"/><path stroke="#ffff00" d="M414.1 168.1h0"/><path stroke="#ffe500" d="M421.1 167.3h0M419.1 167.7h0M416.2 167.7h0"/><path stroke="#ffcc00" d="M423.8 167.9h0"/><path stroke="#ffb300" d="M426.4 167.6h0"/><path stroke="#00ccff" d="M334.1 170.1h0M328.0 171.5h0M334.4 171.6h0M337.4 171.9h0M339.4 172.0h0"/><path stroke="#00e5ff" d="M336.2 169.3h0M329.1 169.3h0M360.2 169.4h0M352.5 169.5h0M331.0 169.5h0M355.0 169.5h0M358.1 169.6h0M340.6 169.6h0M350.5 169.7h0M346.0 169.9h0M343.2 169.9h0M326.2 169.9h0M348.1 170.0h0M338.0 170.2h0M351.5 171.3h0M344.6 171.5h0M356.6 171.7h0M363.3 171.8h0M361.0 171.8h0M348.9 171.9h0"/><path stroke="#00ffff" d="M362.1 169.7h0M365.2 169.7h0"/><path stroke="#1affe5" d="M366.9 169.4h0M369.9 169.7h0"/><path stroke="#33ffcc" d="M374.8 169.8h0M371.9 170.0h0"/><path stroke="#4dffb2" d="M376.7 169.8h0M379.4 170.0h0M394.6 171.5h0M377.9 171.9h0M397.6 172.0h0"/><path stroke="#66ff99" d="M396.4 169.9h0M393.7 169.9h0M398.6 170.1h0M392.1 171.7h0"/><path stroke="#80ff80" d="M386.5 169.4h0M384.4 169.8h0M391.3 169.8h0M381.8 169.8h0M388.9 169.9h0M401.2 169.9h0M390.3 171.4h0M380.7 171.6h0M399.8 171.9h0"/><path stroke="#99ff66" d="M383.2 172.0h0"/><path stroke="#b3ff4c" d="M403.6 169.7h0M402.5 172.0h0"/><path stroke="#ccff33" d="M405.8 170.0h0M407.4 171.6h0M404.7 171.9h0"/><path stroke="#e5ff1a" d="M410.1 169.3h0M408.1 169.6h0M409.2 171.5h0M411.7 171.7h0"/><path stroke="#ffff00" d="M413.2 169.7h0M414.9 170.2h0M414.5 171.7h0"/><path stroke="#ffe500" d="M420.6 170.0h0M417.6 170.2h0M421.4 171.4h0M426.1 171.5h0"/><path stroke="#ffcc00" d="M422.7 169.4h0M425.0 169.9h0"/><path stroke="#ffb300" d="M427.2 169.4h0"/><path stroke="#00ccff" d="M332.1 172.2h0M329.8 172.3h0M336.6 173.5h0M348.6 173.5h0M328.6 173.6h0M333.8 173.8h0M338.6 173.9h0M331.4 174.1h0M345.9 174.3h0"/><path stroke="#00e5ff" d="M342.3 172.1h0M354.3 172.2h0M358.6 172.2h0M346.6 172.3h0M363.0 173.5h0M353.3 173.5h0M360.2 173.5h0M343.4 173.6h0M354.9 173.7h0M358.1 173.9h0M350.1 174.0h0M341.2 174.1h0"/><path stroke="#00ffff" d="M365.8 172.3h0M364.9 173.5h0"/><path stroke="#1affe5" d="M370.8 172.0h0M368.8 172.1h0M373.7 172.1h0M367.8 173.6h0M374.8 173.9h0M369.7 174.0h0M372.1 174.2h0"/><path stroke="#33ffcc" d="M375.9 172.1h0M377.2 173.6h0"/><path stroke="#4dffb2" d="M393.4 174.0h0M396.0 174.2h0"/><path stroke="#66ff99" d="M379.1 173.4h0M391.3 173.7h0M398.8 174.2h0"/><path stroke="#99ff66" d="M388.1 172.0h0M381.7 174.1h0"/><path stroke="#b3ff4c" d="M384.9 172.1h0M401.1 173.5h0M388.6 173.6h0M384.5 173.7h0M386.9 173.9h0"/><path stroke="#ccff33" d="M403.5 173.8h0M408.4 173.8h0M405.3 174.1h0"/><path stroke="#e5ff1a" d="M411.0 173.5h0"/><path stroke="#ffff00" d="M418.5 172.0h0M416.5 172.0h0M422.1 173.8h0M417.5 173.9h0M419.9 173.9h0M413.3 174.2h0M415.7 174.4h0"/><path stroke="#ffe500" d="M423.4 172.1h0M424.9 173.7h0M426.9 174.4h0"/><path stroke="#00ccff" d="M330.6 175.5h0M335.1 175.6h0M332.5 175.7h0M344.3 176.2h0M331.0 177.8h0"/><path stroke="#00e5ff" d="M360.9 175.7h0M349.7 175.7h0M363.8 175.7h0M351.5 175.9h0M337.1 175.9h0M356.9 176.1h0M342.0 176.1h0M353.8 176.2h0M359.4 176.3h0M340.2 176.3h0M347.1 176.4h0M336.3 177.6h0M343.7 177.9h0M333.7 177.9h0"/><path stroke="#00ffff" d="M366.0 175.7h0M367.2 177.6h0"/><path stroke="#1affe5" d="M373.8 175.8h0M368.3 176.4h0M375.8 176.4h0M370.5 176.4h0M372.4 177.8h0"/><path stroke="#4dffb2" d="M397.3 175.5h0M377.7 175.9h0M395.3 176.1h0M377.3 177.9h0"/><path stroke="#66ff99" d="M392.3 176.1h0M393.3 178.0h0"/><path stroke="#80ff80" d="M399.2 176.4h0M398.5 177.6h0M390.9 177.7h0M379.6 178.0h0"/><path stroke="#99ff66" d="M389.9 175.9h0M380.6 176.0h0"/><path stroke="#b3ff4c" d="M385.2 175.6h0M387.9 175.6h0M382.9 175.8h0M402.1 176.1h0M386.7 177.7h0M400.5 178.0h0"/><path stroke="#ccff33" d="M404.4 175.8h0M406.6 176.3h0M403.3 177.7h0"/><path stroke="#e5ff1a" d="M416.7 175.6h0M409.6 176.3h0M410.6 177.6h0"/><path stroke="#ffff00" d="M419.2 175.6h0M413.7 175.6h0M412.2 176.0h0M412.8 177.6h0M415.3 177.9h0"/><path stroke="#ffe500" d="M424.2 175.7h0M426.2 175.9h0M421.4 176.5h0M427.6 177.6h0M420.4 177.7h0M424.8 178.0h0"/><path stroke="#00ccff" d="M336.9 179.8h0M340.2 179.8h0M342.0 179.8h0M344.4 180.2h0M332.4 180.5h0M346.8 180.6h0M334.5 180.6h0"/><path stroke="#00e5ff" d="M352.9 178.0h0M340.4 178.1h0M338.8 178.1h0M348.5 178.1h0M360.3 178.2h0M355.2 178.2h0M350.9 178.2h0M358.1 178.4h0M345.9 178.5h0M362.1 178.6h0M361.5 179.7h0M357.0 179.8h0M349.6 180.0h0M353.9 180.4h0M358.5 180.4h0M351.2 180.4h0"/><path stroke="#00ffff" d="M365.3 178.5h0M363.7 180.1h0M365.9 180.3h0"/><path stroke="#1affe5" d="M374.6 178.3h0M370.0 178.4h0M370.5 180.1h0M373.0 180.3h0M368.1 180.6h0"/><path stroke="#4dffb2" d="M375.4 179.7h0"/><path stroke="#66ff99" d="M396.1 178.5h0M380.4 179.8h0M378.6 180.0h0"/><path stroke="#80ff80" d="M392.7 180.0h0M394.5 180.2h0M383.1 180.3h0M390.6 180.5h0M385.3 180.5h0"/><path stroke="#99ff66" d="M389.0 178.3h0M382.1 178.5h0M397.6 179.9h0M388.1 180.4h0"/><path stroke="#b3ff4c" d="M384.4 178.5h0"/><path stroke="#ccff33" d="M405.3 178.3h0M399.9 180.5h0M402.0 180.5h0"/><path stroke="#e5ff1a" d="M408.6 178.2h0M409.3 179.7h0M406.7 180.5h0M404.4 180.5h0"/><path stroke="#ffff00" d="M418.1 178.0h0M413.7 179.8h0M416.7 180.1h0M421.4 180.1h0M412.0 180.3h0M419.0 180.5h0"/><path stroke="#ffe500" d="M422.8 178.4h0M426.3 180.3h0M428.4 180.4h0M423.8 180.5h0"/><path stroke="#00ccff" d="M336.3 182.0h0M340.9 182.2h0M333.7 182.5h0M338.3 182.5h0"/><path stroke="#00e5ff" d="M342.9 181.8h0M348.0 182.3h0M357.6 182.4h0M353.4 182.5h0M351.0 182.6h0M355.1 182.6h0M345.5 182.7h0M341.7 183.8h0M351.8 183.8h0M348.9 183.9h0"/><path stroke="#00ffff" d="M364.8 181.8h0M367.8 181.9h0M359.7 182.4h0M362.8 182.5h0"/><path stroke="#1affe5" d="M369.7 182.5h0M368.1 183.9h0"/><path stroke="#33ffcc" d="M372.1 182.3h0"/><path stroke="#4dffb2" d="M374.1 181.8h0M376.7 182.7h0"/><path stroke="#66ff99" d="M379.7 181.8h0M381.9 182.0h0M384.4 182.5h0M380.6 183.9h0"/><path stroke="#80ff80" d="M393.7 182.4h0M387.0 182.5h0M391.0 182.5h0M388.5 182.7h0"/><path stroke="#b3ff4c" d="M395.8 182.1h0"/><path stroke="#ccff33" d="M398.2 182.0h0"/><path stroke="#e5ff1a" d="M403.1 182.0h0M401.0 182.6h0M406.2 182.6h0"/><path stroke="#ffff00" d="M419.8 181.8h0M410.9 182.0h0M412.5 182.2h0M427.5 182.5h0M407.9 182.6h0M415.5 182.6h0M424.6 182.7h0M422.4 182.7h0M418.2 182.7h0M404.6 183.9h0"/><path stroke="#ffe500" d="M419.4 183.8h0M414.1 183.8h0M411.2 184.0h0"/><path stroke="#00ccff" d="M335.4 184.5h0M340.1 184.8h0M335.8 186.0h0M338.7 186.4h0"/><path stroke="#00e5ff" d="M347.2 184.1h0M356.6 184.1h0M337.8 184.5h0M344.0 184.5h0M354.0 184.8h0M345.8 186.0h0M350.2 186.2h0M347.9 186.3h0M343.8 186.5h0M353.3 186.6h0M341.0 186.7h0"/><path stroke="#00ffff" d="M361.5 184.1h0M358.5 184.3h0M366.1 184.5h0M362.9 186.0h0M365.1 186.4h0M367.5 186.4h0M355.2 186.7h0M357.9 186.8h0M360.4 186.8h0"/><path stroke="#1affe5" d="M364.2 184.0h0M370.0 186.4h0"/><path stroke="#33ffcc" d="M371.1 184.4h0"/><path stroke="#4dffb2" d="M372.4 186.7h0"/><path stroke="#66ff99" d="M378.3 184.0h0M373.7 184.2h0M375.7 184.4h0M383.4 184.5h0M379.5 186.0h0M376.7 186.0h0M384.1 186.3h0M382.1 186.4h0M374.9 186.6h0"/><path stroke="#80ff80" d="M388.0 184.1h0M389.8 184.1h0M392.3 184.5h0M386.5 186.2h0M388.9 186.7h0"/><path stroke="#99ff66" d="M385.3 184.2h0M394.7 184.6h0M391.5 186.7h0M393.5 186.9h0"/><path stroke="#ccff33" d="M396.6 186.6h0"/><path stroke="#e5ff1a" d="M397.8 184.0h0M402.2 184.2h0M399.6 184.2h0M398.8 186.0h0M400.6 186.2h0M403.6 186.8h0"/><path stroke="#ffff00" d="M408.9 184.1h0M406.7 184.3h0M416.7 184.4h0M423.7 184.5h0M421.3 184.6h0M418.0 185.9h0M408.3 185.9h0M406.2 186.1h0M410.9 186.2h0M415.3 186.6h0M413.0 186.6h0"/><path stroke="#ffe500" d="M428.5 184.2h0M426.4 184.7h0M419.8 185.9h0M425.1 186.6h0M422.3 186.6h0M427.5 186.8h0"/><path stroke="#00ccff" d="M335.1 188.0h0M339.4 188.2h0"/><path stroke="#00e5ff" d="M353.7 188.1h0M341.9 188.3h0M344.2 188.5h0M347.1 188.7h0M336.9 188.9h0"/><path stroke="#00ffff" d="M349.4 188.0h0M357.0 188.2h0M351.6 188.5h0"/><path stroke="#1affe5" d="M361.1 188.1h0M368.7 188.3h0M365.9 188.4h0M358.9 188.5h0M364.1 188.8h0"/><path stroke="#33ffcc" d="M370.6 188.3h0"/><path stroke="#4dffb2" d="M372.9 188.4h0"/><path stroke="#66ff99" d="M378.1 188.2h0M375.9 188.3h0M380.9 188.5h0"/><path stroke="#80ff80" d="M389.8 188.1h0M387.8 188.2h0M384.8 188.7h0M382.7 188.9h0"/><path stroke="#99ff66" d="M392.6 188.0h0"/><path stroke="#ccff33" d="M395.3 188.8h0"/><path stroke="#e5ff1a" d="M397.6 188.2h0"/><path stroke="#ffff00" d="M404.0 188.4h0M400.0 188.4h0M416.8 188.5h0M407.0 188.5h0M401.8 188.9h0"/><path stroke="#ffe500" d="M411.9 188.2h0M418.9 188.3h0M408.9 188.5h0M413.6 188.8h0"/><path stroke="#00ccff" d="M341.4 190.1h0M338.1 190.2h0M336.2 190.4h0M345.8 190.9h0M344.3 192.3h0M342.6 192.4h0M347.4 192.6h0M337.8 193.0h0"/><path stroke="#00e5ff" d="M348.6 190.1h0M343.4 190.2h0M353.2 190.6h0M350.0 190.8h0M349.0 192.3h0M353.7 192.4h0M339.8 192.7h0M351.3 192.9h0"/><path stroke="#00ffff" d="M355.1 190.4h0M358.1 190.6h0M362.6 190.9h0M358.5 192.7h0M363.7 192.7h0M361.2 193.0h0"/><path stroke="#1affe5" d="M364.5 191.0h0M360.2 191.0h0M367.3 191.0h0M366.6 192.6h0"/><path stroke="#33ffcc" d="M369.6 190.4h0M368.5 192.7h0"/><path stroke="#4dffb2" d="M379.3 190.3h0M374.2 190.7h0M372.5 190.9h0M373.7 192.2h0M371.1 192.6h0"/><path stroke="#66ff99" d="M381.3 190.4h0M376.6 190.5h0M377.8 192.1h0M375.8 192.6h0M380.6 192.7h0"/><path stroke="#80ff80" d="M384.1 190.4h0M388.5 190.8h0M391.2 190.8h0M386.5 190.9h0M389.9 192.3h0M388.0 192.6h0M382.8 193.0h0"/><path stroke="#b3ff4c" d="M393.9 190.2h0M392.8 192.5h0"/><path stroke="#ccff33" d="M395.3 192.3h0"/><path stroke="#e5ff1a" d="M400.8 190.2h0M398.6 190.4h0M396.0 190.7h0M402.4 192.5h0M396.9 192.6h0"/><path stroke="#ffff00" d="M412.6 190.2h0M403.0 190.6h0M404.9 192.3h0M399.5 193.0h0"/><path stroke="#ffe500" d="M410.9 190.4h0M407.9 190.6h0M405.8 190.6h0"/><path stroke="#00ccff" d="M338.9 194.8h0"/><path stroke="#00e5ff" d="M347.9 194.3h0M340.5 194.4h0M346.1 194.6h0M355.2 194.8h0M343.4 195.1h0M350.9 195.2h0M353.4 195.2h0"/><path stroke="#00ffff" d="M356.4 193.1h0"/><path stroke="#1affe5" d="M365.1 194.6h0M360.5 194.8h0M358.0 194.8h0M362.2 195.1h0"/><path stroke="#33ffcc" d="M367.8 194.5h0"/><path stroke="#4dffb2" d="M378.9 194.7h0M370.1 195.1h0"/><path stroke="#66ff99" d="M385.5 193.1h0M377.3 194.5h0M374.2 194.5h0M371.8 194.6h0"/><path stroke="#80ff80" d="M384.3 194.3h0M381.6 194.6h0M386.3 194.9h0M389.0 194.9h0M391.3 195.0h0"/><path stroke="#e5ff1a" d="M394.2 194.3h0"/><path stroke="#ffff00" d="M396.4 194.2h0"/><path stroke="#00e5ff" d="M346.8 196.4h0M354.5 196.4h0M349.6 196.6h0M342.1 196.6h0M339.7 196.7h0M344.1 197.1h0M351.7 197.2h0M350.9 198.7h0"/><path stroke="#00ffff" d="M355.5 198.3h0M357.4 198.9h0"/><path stroke="#1affe5" d="M356.8 196.3h0M363.4 197.0h0M366.2 197.1h0M361.2 197.1h0M359.1 197.2h0M360.4 198.5h0M362.1 198.7h0M365.2 198.9h0"/><path stroke="#33ffcc" d="M368.7 196.4h0M367.3 198.6h0"/><path stroke="#4dffb2" d="M370.0 198.7h0M372.3 198.9h0"/><path stroke="#66ff99" d="M378.4 196.4h0M373.4 196.4h0M375.5 196.6h0M371.4 196.7h0M380.4 197.0h0M383.4 197.1h0M374.8 199.0h0"/><path stroke="#80ff80" d="M385.5 196.3h0M387.6 196.3h0"/><path stroke="#00e5ff" d="M352.6 199.1h0M348.0 199.1h0M342.9 199.2h0M346.1 199.3h0M341.0 199.3h0M342.2 200.7h0M344.1 200.9h0M349.4 201.0h0M347.4 201.2h0M351.8 201.4h0"/><path stroke="#00ffff" d="M354.6 200.7h0"/><path stroke="#1affe5" d="M356.5 200.6h0"/><path stroke="#33ffcc" d="M365.8 200.5h0M361.3 200.6h0M359.3 200.8h0M368.2 200.9h0M363.9 201.2h0"/><path stroke="#4dffb2" d="M371.3 200.7h0"/><path stroke="#66ff99" d="M376.6 199.1h0"/><path stroke="#00ccff" d="M344.2 205.0h0"/><path stroke="#00e5ff" d="M345.4 202.7h0M343.0 203.0h0M353.3 203.4h0M351.5 204.8h0"/><path stroke="#00ffff" d="M350.8 202.7h0M355.5 202.7h0M348.0 203.0h0M354.4 204.8h0"/><path stroke="#33ffcc" d="M357.8 203.4h0"/><path stroke="#4dffb2" d="M360.1 203.3h0"/><path stroke="#00e5ff" d="M349.8 205.3h0M346.9 205.4h0"/></g>
<path class="st" d="M196.2 96.8L196.2 240.4M196.2 96.8L270.9 96.8L273.6 96.8M214.8 96.8L214.8 168.2M196.2 133.7L214.8 133.7M196.2 168.2L227.4 168.2M227.4 168.2L227.4 200.6M227.4 176.4L269.9 176.4M196.2 200.6L274.3 200.6M221.4 200.6L221.4 204.5L221.2 204.5L221.0 238.8L198.6 238.8L199.2 240.4L196.2 240.4M221.4 204.5L240.3 204.5L240.3 219.5M214.8 125.3L262.0 125.3M214.8 151.2L249.8 151.2L251.1 152.1L253.6 152.9L256.7 152.3L259.3 153.4L261.1 154.7L262.7 155.6M262.7 146.9L295.7 146.9M267.0 171.6L292.5 171.5L293.9 172.7L294.4 173.3M274.3 204.5L302.4 204.5L302.8 206.0L301.1 208.4L305.3 208.4M269.9 176.4L271.5 177.7L272.5 178.5L271.2 180.1L272.5 181.7L274.3 183.6L274.3 204.5L275.5 213.1L275.1 226.5M277.9 227.2L277.9 231.1L296.0 231.3M277.9 231.1L277.9 238.8L278.8 240.2L279.4 242.4L281.0 244.7L281.0 246.9L279.7 250.5L280.1 252.7L279.2 255.6M240.3 219.5L242.2 220.7L245.4 221.5L247.3 222.2L249.8 223.0L252.3 222.8L253.6 224.5L256.1 224.5L258.0 225.6L259.9 224.1L261.8 224.9L263.4 226.0L266.8 224.9L270.0 224.7L272.5 225.8L275.1 226.5L276.9 227.0L277.9 227.2M257.8 96.8L258.5 103.5L259.9 110.0L260.5 116.5L261.8 122.0L262.0 125.3L261.8 128.4L262.7 131.0L262.7 146.9L261.9 149.5L262.1 152.9L262.7 155.6M262.7 155.6L263.4 158.1L264.9 162.3L266.1 165.6L266.5 168.2L266.6 170.7L267.5 171.9L268.4 174.0L269.9 176.4M273.6 96.8L273.8 98.2L274.4 99.5L278.2 100.1L282.0 100.6L284.5 100.3L287.6 102.0L290.8 103.5L293.9 105.6L297.7 104.0L302.8 105.4L306.2 106.3L300.2 110.0L295.2 113.8L290.2 117.9M290.7 118.3L289.0 118.7L289.0 124.0L288.6 124.6L286.4 125.7L285.3 127.5L286.7 130.2L286.1 132.8L285.7 135.9L287.3 137.5L290.6 139.2L293.0 142.1L295.5 143.9L295.7 146.9L295.8 150.4L296.8 153.4L299.2 155.5L300.9 157.2L302.4 158.9L302.1 161.0L301.2 163.6L296.8 164.8L296.5 166.5L297.4 167.7L296.5 169.8L294.6 171.9L294.4 173.3L293.9 174.8L294.6 177.0L294.8 178.9L296.5 180.1L298.8 182.6L299.0 184.2L299.9 185.6L302.6 185.8L302.3 187.6L301.2 190.2L302.1 191.8L304.0 193.6L306.4 196.0L306.5 198.2L308.9 200.7L308.4 203.3L306.5 204.5L306.2 205.7L305.3 208.4L303.7 211.9L302.8 215.1L301.5 216.1L299.9 218.4L299.8 220.3L297.7 223.0L296.5 226.0L295.8 228.3L296.0 231.3L296.5 234.3L297.7 236.3L296.5 238.8L294.6 241.7L293.3 244.7L293.1 246.1L305.1 246.1L304.3 248.7L305.6 251.2L306.4 252.1M299.4 155.5L317.3 155.5M319.0 161.8L336.2 161.8L336.2 162.3L344.7 162.0M319.0 161.8L319.0 181.7L318.5 183.8L319.0 187.2L317.6 189.4L316.3 190.6L316.0 192.6L315.8 194.2M336.1 162.3L336.1 183.8M363.2 171.1L362.5 173.1L362.3 175.2L361.9 175.9L361.1 178.9L358.9 181.3L356.7 182.4L355.4 184.6L353.0 185.8L352.6 187.8L351.0 189.3L350.1 189.3L349.9 188.8L347.5 186.8L345.6 187.7L342.7 187.4L340.0 186.2L338.1 183.8L336.1 183.8L335.9 185.0L335.9 186.4L333.7 187.0L332.4 186.8L332.1 188.6L330.2 190.5L328.6 192.6L326.7 191.4L325.5 193.3L323.6 192.8L321.7 194.4L318.7 192.9L316.3 193.4L315.8 194.2L315.7 196.6L313.2 197.2L312.9 199.8L312.2 199.9L309.7 199.0L308.9 200.7M307.0 204.5L315.6 204.5L315.6 203.1L325.5 203.3L334.9 203.5L343.2 203.7L355.9 203.8M355.9 203.8L355.9 204.1L392.5 204.1M343.2 203.7L346.9 201.7L349.4 200.2L351.9 198.4L354.0 196.3L351.9 195.2L350.7 193.0L350.1 191.4L350.1 189.3M354.0 196.3L355.9 199.0L358.7 198.7L361.1 197.8L364.6 196.6L366.4 192.6L368.7 188.0L370.9 189.3L373.6 186.4L376.8 181.3L380.1 183.5L380.8 182.0M301.5 216.1L331.1 216.1L339.2 216.1L346.9 216.1M314.7 216.1L315.4 216.9L313.0 239.5L313.5 250.7M331.1 216.1L333.8 232.3L334.9 236.5L334.2 240.2L334.9 246.1M319.2 251.4L319.5 250.2L318.5 246.1L334.9 246.1L335.8 248.3L352.6 249.3L353.5 250.7L354.2 247.6L357.3 248.3M346.9 216.1L345.3 218.4L348.2 220.3L350.4 223.7L352.6 226.4L354.5 228.3L357.0 231.3L357.6 234.3L359.5 238.0L360.9 238.5M346.9 216.1L351.9 214.6L359.9 215.0L360.6 215.3L361.5 217.5L368.5 217.6L375.6 224.8M339.2 216.1L340.9 214.0L341.2 213.0L344.4 211.7L346.0 210.7L348.2 208.8L350.1 208.4L353.5 207.4L354.5 206.0L355.7 204.9L355.9 203.8M363.2 178.7L393.0 178.7M363.2 159.9L363.2 178.7M368.0 157.5L368.0 159.8L395.8 159.8L397.5 161.4L397.7 163.1L398.6 164.4L399.9 165.1M399.9 165.1L398.6 166.5L397.2 168.4L396.7 170.7L397.5 171.9L398.3 173.1L399.4 174.8L398.6 175.8L397.2 177.3L395.3 178.1L394.5 179.3L394.5 180.5M399.9 165.1L404.9 168.2M395.3 178.1L394.2 177.7L393.0 178.7L393.0 188.9L397.7 189.0M389.6 192.3L386.3 190.6L385.4 190.2L385.0 189.0L383.5 189.4L383.8 187.8L385.2 185.8L383.8 184.6L382.2 183.8L380.8 182.0L380.0 179.7L377.9 178.9L376.2 180.1L374.2 179.3L372.4 180.8L369.7 182.9L369.7 178.7M290.2 117.9L290.7 118.3L295.8 116.9L298.3 116.1L297.8 119.3L300.7 119.6L304.0 117.6L306.5 117.0L310.0 114.9L311.5 113.3L313.2 115.6L314.1 116.5L316.6 116.7L319.8 119.7L324.5 120.9L328.7 118.6L335.2 117.7L334.9 120.2L337.4 120.7L339.0 120.2L340.3 122.9L341.2 124.7L336.7 125.9L331.8 124.0L327.0 125.2L324.8 128.4L322.9 127.0L322.0 127.0L320.4 130.2L318.5 132.8M300.7 119.6L302.6 121.7L309.1 123.5L311.9 124.7L315.4 125.5L316.9 127.0L317.3 130.6L318.5 132.8L316.3 136.8L316.0 137.9L322.3 131.0L320.1 135.5L319.2 138.6L318.2 141.7L317.9 144.7L316.8 150.8L317.3 155.5L318.5 161.0L319.0 162.3L320.7 163.0L322.9 162.1L323.4 161.8L325.6 158.9L327.0 156.4L327.4 153.1L327.0 150.4L326.5 149.2L325.3 145.6L325.8 143.0L325.4 142.0L326.5 140.4L327.2 137.0L328.2 134.6L331.5 131.9L331.1 135.8L332.5 133.3L333.3 130.9L335.2 130.4L334.6 127.9L336.6 126.7L338.3 127.9L341.9 129.7L344.7 131.0L344.8 133.2L345.6 134.6L345.6 136.8L345.4 139.0L344.7 140.4L341.9 142.5L342.2 145.6L345.0 143.4L345.8 143.1L347.8 141.9L349.7 143.9L350.4 147.5L351.2 151.2L350.7 154.7L348.5 155.9L347.2 157.0L346.6 159.3L344.7 162.0L347.5 163.6L349.4 164.0L351.9 164.6L352.7 164.2L355.7 164.0L358.6 161.8L361.4 160.6L363.2 159.9L365.8 158.5L368.0 157.5L370.7 155.6L373.4 152.3L372.4 149.0L375.9 148.0L381.6 148.9L385.4 148.8L388.5 147.2L390.4 146.5L390.4 143.4L389.5 141.7L392.9 138.6L394.8 136.4L398.6 133.9L399.7 133.7L408.4 133.6L420.0 133.6L422.7 131.0L424.1 131.5L424.5 130.0L427.0 127.0L427.9 125.2L427.6 122.9L429.2 120.9L429.5 118.4L429.5 144.7M420.0 133.6L419.7 137.3L416.6 141.7L415.6 145.2L414.1 149.5L413.4 152.5L414.0 153.5M408.4 133.6L408.4 138.2L408.1 142.5L408.1 146.0L409.0 146.9L408.9 153.4L407.4 159.3L407.4 165.6L406.0 167.3L406.4 168.2M408.9 153.4L421.3 153.8L423.2 152.3L424.3 152.3M407.4 159.3L418.2 159.6L420.8 159.6L420.8 160.6L421.1 161.6L421.9 162.5L422.4 164.0M418.2 159.6L418.2 165.5M422.7 131.0L423.0 138.2L423.4 146.3L424.3 149.1L424.9 150.6M429.5 144.7L427.9 145.6L428.2 146.4L427.1 147.3L426.5 148.2L425.7 149.9L424.9 150.6L424.5 152.1L424.3 152.8L425.7 154.2L424.0 155.5L423.0 156.8L423.5 157.6L425.0 158.1L425.4 160.2L426.2 161.6L427.6 162.1L429.5 161.6L429.5 162.5L427.6 162.9L425.7 163.6L425.3 163.8L425.6 162.0L425.0 161.9L423.7 163.1L422.4 164.0L421.9 164.2L421.1 164.2L420.7 161.4L420.2 165.1L417.8 165.5L416.3 165.6L411.2 166.1L409.3 166.9L407.1 167.9L406.4 168.2L405.7 169.2L404.9 168.2L404.0 170.7L402.6 172.3L404.3 172.6L404.3 174.8L403.8 176.8L403.6 178.5L402.7 180.5L401.6 181.7L399.9 183.8L398.4 185.2L398.3 183.1L396.7 182.3L395.5 181.3L394.5 180.5M404.1 171.5L405.9 171.6L408.7 171.2L411.2 170.5L414.1 169.4L417.8 167.6L415.0 168.2L415.4 166.8L413.1 168.3L410.1 168.4L407.4 168.7L405.9 169.4L405.5 169.9L404.1 171.5M394.5 179.7L394.8 181.7L395.5 183.8L396.1 185.4L397.3 186.2L397.5 187.0L397.7 189.0L397.5 190.0L396.5 192.4L395.8 193.4L394.2 196.2L392.9 198.2L391.9 199.6L391.5 198.2L392.0 196.2L393.2 194.2L394.0 192.7L392.6 192.8L392.3 191.0L391.0 190.2L389.8 187.8L389.5 185.4L390.4 183.0L392.0 180.5L391.2 180.1L389.5 181.7L388.5 182.6L388.7 184.8L388.3 187.0L389.1 189.4L389.6 192.3M389.6 192.3L390.2 193.5L389.8 195.8L389.5 197.6L389.1 198.8L389.8 200.6L389.8 200.9L391.7 201.1L392.5 204.1L393.2 206.8L394.5 209.9L394.6 214.2L391.7 215.6L388.3 219.2L385.4 218.6L382.8 219.9L380.6 221.8L379.3 224.9L375.6 224.8L373.4 226.2L371.5 229.8L370.5 231.3L367.1 233.2L363.9 235.0L363.6 236.5L362.0 237.6L360.9 238.5L359.5 241.0L358.2 243.9L357.6 245.4L357.3 248.3L357.6 250.5L358.2 254.2L360.1 259.2L363.0 264.6L362.7 267.1L364.2 270.3L365.8 274.9L366.3 277.0L365.6 283.3L364.6 286.1L359.5 288.1L357.9 283.3L355.1 280.9L353.8 278.4L352.3 276.7L350.4 272.8L349.1 270.7L351.0 268.5L348.6 267.8L349.7 264.2L349.4 261.4L347.2 259.6L345.0 257.1L343.4 254.2L340.0 252.9L339.0 254.2L332.7 255.8L332.4 254.2L330.5 252.5L327.4 250.9L321.0 251.0L319.2 251.4L317.9 251.6L315.8 251.8L316.0 248.5L315.2 250.9L313.5 250.7L312.5 250.9L310.3 250.5L309.1 250.7L307.5 251.2L306.4 252.1L305.3 253.1L307.2 253.8L308.4 254.5L307.2 257.1L308.1 258.1L309.4 259.2L308.9 260.7L307.2 261.2L306.9 258.9L305.0 258.5L303.4 258.9L302.1 260.1L299.3 260.3L297.1 260.3L295.2 258.5L294.9 257.1L291.7 257.1L290.2 256.3L288.9 256.8L284.5 255.2L282.3 255.2L279.2 255.6L275.6 257.1L273.4 258.5L273.1 255.2L271.2 260.7L270.0 261.2L265.9 263.5L263.0 265.3L260.2 267.5L258.9 269.2L257.0 273.1L257.4 277.7L258.0 281.2L258.3 282.2M258.3 282.2L256.1 282.6L252.3 281.6L247.9 279.3L245.6 278.1L244.9 275.6L243.5 271.4L239.7 266.4L237.2 262.8L234.7 258.1L231.5 255.2L230.6 254.9L227.4 254.9L225.2 255.1L223.3 256.0L222.4 258.1L220.5 260.8L218.3 259.8L216.6 258.7L212.8 256.6L210.7 253.4L209.4 249.4L206.3 247.2L202.5 243.2L199.4 240.5"/>
<path class="st" style="stroke-width:3.3" d="M394.5 213.8L391.7 216.1L388.5 218.4L385.4 218.8L381.6 221.5"/>
<path class="st" style="stroke-width:1.6" d="M363.6 287.5L365.2 291.7L366.4 294.8"/>
<path class="st" style="stroke-width:1.6" d="M262.4 263.5L261.8 260.7L261.3 257.8"/>
<path class="st" style="stroke-width:1.5" d="M256.1 272.4L252.3 272.4L247.9 271.7"/>
<path class="st" style="stroke-width:3.3" d="M257.4 270.0L256.6 274.9L257.7 280.5"/>
<path class="st" style="stroke-width:4.6" d="M404.0 171.3L409.3 169.4L414.4 167.7L417.5 166.5"/>
<path class="st" style="stroke-width:4.2" d="M417.5 165.6L421.3 164.0L424.5 163.1L429.5 162.3"/>
<path class="st" style="stroke-width:3.6" d="M404.3 172.7L403.6 178.1L401.4 181.7L398.6 185.0"/>
<path class="st" style="stroke-width:3.3" d="M258.0 270.0L261.8 265.3L266.8 262.8L271.9 259.2L273.8 257.1"/>
<path class="st" style="stroke-width:3.3" d="M282.6 255.2L288.9 256.3L293.3 256.7L297.1 258.9L301.5 259.2"/>
<path class="st" style="stroke-width:4.2" d="M349.1 267.8L350.1 271.4L352.6 276.3L353.8 278.4"/>
<path class="st" style="stroke-width:3.5" d="M357.6 246.9L358.9 241.7L361.4 237.3L365.2 234.3L369.0 231.7L371.5 229.0"/>
<path class="st" style="stroke-width:3.6" d="M306.5 251.2L312.2 250.5L316.0 250.2L319.8 250.5"/>
<circle cx="342.8" cy="144.1" r="2.2" fill="#000"/><circle cx="331.5" cy="133.9" r="1.7" fill="#000"/><circle cx="317.6" cy="135.1" r="1.3" fill="#000"/><circle cx="390.7" cy="144.7" r="1.4" fill="#000"/><circle cx="349.4" cy="155.9" r="1.3" fill="#000"/><polyline points="385.1,185.1 381.1,186.6 378.6,185.6" fill="none" stroke="#000" stroke-width="1.6" stroke-linejoin="round" stroke-linecap="round"/>
<polyline points="385.6,190.6 381.6,191.6 379.6,194.1" fill="none" stroke="#000" stroke-width="1.6" stroke-linejoin="round" stroke-linecap="round"/>
<polyline points="386.1,182.1 383.1,181.1 381.6,182.6" fill="none" stroke="#000" stroke-width="1.6" stroke-linejoin="round" stroke-linecap="round"/>
<polyline points="388.6,216.1 383.1,219.4 378.1,222.3" fill="none" stroke="#000" stroke-width="1.6" stroke-linejoin="round" stroke-linecap="round"/>
<polyline points="385.6,214.1 382.6,213.6 379.7,208.4" fill="none" stroke="#000" stroke-width="1.6" stroke-linejoin="round" stroke-linecap="round"/>
<polyline points="384.6,215.6 381.1,217.1 377.9,217.5" fill="none" stroke="#000" stroke-width="1.6" stroke-linejoin="round" stroke-linecap="round"/>
<polyline points="386.1,212.1 382.1,210.1 380.1,205.6" fill="none" stroke="#000" stroke-width="1.6" stroke-linejoin="round" stroke-linecap="round"/>
<polygon points="384.3,187.6 385.6,182.3 389.1,180.1 392.7,178.9 395.8,179.8 397.4,178.3 398.4,181.1 397.7,185.1 398.1,188.9 397.1,191.3 393.6,198.1 391.8,201.1 393.6,206.6 396.1,214.5 393.3,211.9 391.2,214.5 388.3,216.6 385.6,214.6 387.6,211.6 386.4,210.3 385.1,205.4 386.4,199.3 382.3,196.7 385.7,193.3" fill="#000" stroke="#000" stroke-width="1" stroke-linejoin="round"/>
<polygon points="300.7,250.8 304.3,249.2 307.3,251.4 308.7,256.8 312.1,263.8 307.3,259.7 304.3,261.0 299.9,262.7 299.5,259.2 297.1,257.0 299.5,255.6 301.5,253.0" fill="#000" stroke="#000" stroke-width="1" stroke-linejoin="round"/>
<text class="b" x="215.6" y="76.9" font-size="12.6" text-anchor="start">100<tspan dy="-11.1" dx="2.3" font-size="5.6">o</tspan><tspan dy="11.1" dx="4.35">W</tspan></text>
<text class="b" x="284.4" y="76.9" font-size="12.6" text-anchor="start">90<tspan dy="-11.1" dx="2.3" font-size="5.6">o</tspan><tspan dy="11.1" dx="4.35">W</tspan></text>
<text class="b" x="348.3" y="76.9" font-size="12.6" text-anchor="start">80<tspan dy="-11.1" dx="2.3" font-size="5.6">o</tspan><tspan dy="11.1" dx="4.35">W</tspan></text>
<text class="b" x="411.8" y="76.9" font-size="12.6" text-anchor="start">70<tspan dy="-11.1" dx="2.3" font-size="5.6">o</tspan><tspan dy="11.1" dx="4.35">W</tspan></text>
<text class="b" x="146.2" y="112.2" font-size="12.6" text-anchor="start">48<tspan dy="-11.1" dx="2.3" font-size="5.6">o</tspan><tspan dy="11.1" dx="4.35">N</tspan></text>
<text class="b" x="146.2" y="130.6" font-size="12.6" text-anchor="start">46<tspan dy="-11.1" dx="2.3" font-size="5.6">o</tspan><tspan dy="11.1" dx="4.35">N</tspan></text>
<text class="b" x="146.2" y="147.6" font-size="12.6" text-anchor="start">44<tspan dy="-11.1" dx="2.3" font-size="5.6">o</tspan><tspan dy="11.1" dx="4.35">N</tspan></text>
<text class="b" x="146.2" y="166.2" font-size="12.6" text-anchor="start">42<tspan dy="-11.1" dx="2.3" font-size="5.6">o</tspan><tspan dy="11.1" dx="4.35">N</tspan></text>
<text class="b" x="146.2" y="182.6" font-size="12.6" text-anchor="start">40<tspan dy="-11.1" dx="2.3" font-size="5.6">o</tspan><tspan dy="11.1" dx="4.35">N</tspan></text>
<text class="b" x="146.2" y="198.0" font-size="12.6" text-anchor="start">38<tspan dy="-11.1" dx="2.3" font-size="5.6">o</tspan><tspan dy="11.1" dx="4.35">N</tspan></text>
<text class="b" x="146.2" y="214.6" font-size="12.6" text-anchor="start">36<tspan dy="-11.1" dx="2.3" font-size="5.6">o</tspan><tspan dy="11.1" dx="4.35">N</tspan></text>
<text class="b" x="146.2" y="228.8" font-size="12.6" text-anchor="start">34<tspan dy="-11.1" dx="2.3" font-size="5.6">o</tspan><tspan dy="11.1" dx="4.35">N</tspan></text>
<text class="b" x="146.2" y="245.8" font-size="12.6" text-anchor="start">32<tspan dy="-11.1" dx="2.3" font-size="5.6">o</tspan><tspan dy="11.1" dx="4.35">N</tspan></text>
<text class="b" x="146.2" y="260.0" font-size="12.6" text-anchor="start">30<tspan dy="-11.1" dx="2.3" font-size="5.6">o</tspan><tspan dy="11.1" dx="4.35">N</tspan></text>
<text class="b" x="146.2" y="272.6" font-size="12.6" text-anchor="start">28<tspan dy="-11.1" dx="2.3" font-size="5.6">o</tspan><tspan dy="11.1" dx="4.35">N</tspan></text>
<text class="b" x="146.2" y="287.3" font-size="12.6" text-anchor="start">26<tspan dy="-11.1" dx="2.3" font-size="5.6">o</tspan><tspan dy="11.1" dx="4.35">N</tspan></text>
<text class="b" x="146.2" y="301.9" font-size="12.6" text-anchor="start">24<tspan dy="-11.1" dx="2.3" font-size="5.6">o</tspan><tspan dy="11.1" dx="4.35">N</tspan></text>
<text class="b" x="146.2" y="314.0" font-size="12.6" text-anchor="start">22<tspan dy="-11.1" dx="2.3" font-size="5.6">o</tspan><tspan dy="11.1" dx="4.35">N</tspan></text>
<text class="b" x="103.5" y="341.2" font-size="23" textLength="408.9" lengthAdjust="spacing">SAT+RAP Negative Lifted Index</text>
<rect x="441.2" y="95.2" width="23.6" height="215.5" fill="url(#jet)" stroke="#262626" stroke-width="0.8"/>
<line x1="462.3" x2="464.8" y1="97.0" y2="97.0" stroke="#262626" stroke-width="0.8"/><text class="b" x="473.0" y="104.6" font-size="20.8">0</text>
<line x1="462.3" x2="464.8" y1="163.0" y2="163.0" stroke="#262626" stroke-width="0.8"/><text class="b" x="473.0" y="170.6" font-size="20.8">-10</text>
<line x1="462.3" x2="464.8" y1="228.8" y2="228.8" stroke="#262626" stroke-width="0.8"/><text class="b" x="473.0" y="236.4" font-size="20.8">-20</text>
<line x1="462.3" x2="464.8" y1="294.6" y2="294.6" stroke="#262626" stroke-width="0.8"/><text class="b" x="473.0" y="302.2" font-size="20.8">-30</text>
</g>
<g id="panel2">
<rect x="617.5" y="96.5" width="233.0" height="213.0" fill="none" stroke="#1a1a1a" stroke-width="1.1"/>
<polygon points="715.1,95.6 726.6,124.2 726.6,124.2 743.9,167.4 764.3,209.6 851.2,188.5 851.2,95.6 715.1,95.6" fill="#03038f" stroke="#03038f" stroke-width="4" stroke-linejoin="round"/>
<g filter="url(#bl1)"><rect x="829.5" y="171.0" width="6" height="3.2" fill="#d01010"/><rect x="831.0" y="175.5" width="3.4" height="5" fill="#2060ff"/><rect x="831.5" y="180.0" width="3.4" height="6" fill="#30e0e0"/><rect x="832.0" y="185.5" width="3" height="4.5" fill="#60f0a0"/><rect x="836.0" y="177.0" width="1.6" height="12" fill="#2050e0"/><rect x="824.2" y="97.0" width="2.5" height="20" fill="#1818b0"/><rect x="813.2" y="139.0" width="4" height="9" fill="#1828c0"/><rect x="763.2" y="115.0" width="5" height="4" fill="#1828c0"/></g>
<path class="st" d="M617.1 97.0L617.1 240.3M617.1 97.0L691.9 97.0L694.6 97.0M635.7 97.0L635.7 168.2M617.1 133.9L635.7 133.9M617.1 168.2L648.3 168.2M648.3 168.2L648.3 200.6M648.3 176.5L690.8 176.5M617.1 200.6L695.2 200.6M642.3 200.6L642.3 204.5L642.1 204.5L642.0 238.7L619.5 238.7L620.1 240.3L617.1 240.3M642.3 204.5L661.3 204.5L661.3 219.5M635.7 125.4L683.0 125.4M635.7 151.3L670.7 151.3L672.0 152.2L674.5 153.0L677.7 152.4L680.2 153.5L682.1 154.7L683.7 155.7M683.7 147.0L716.6 147.0M687.9 171.7L713.4 171.5L714.9 172.8L715.4 173.4M695.2 204.5L723.4 204.5L723.7 206.0L722.0 208.4L726.2 208.4M690.8 176.5L692.5 177.7L693.4 178.5L692.2 180.2L693.4 181.8L695.3 183.6L695.2 204.5L696.4 213.1L696.1 226.4M698.9 227.1L698.9 231.1L717.0 231.2M698.9 231.1L698.9 238.7L699.7 240.2L700.4 242.4L701.9 244.6L701.9 246.8L700.7 250.4L701.0 252.6L700.1 255.5M661.3 219.5L663.1 220.7L666.3 221.4L668.2 222.2L670.7 222.9L673.2 222.7L674.5 224.5L677.0 224.5L678.9 225.6L680.8 224.1L682.7 224.8L684.3 226.0L687.8 224.8L690.9 224.6L693.4 225.7L696.1 226.4L697.8 227.0L698.9 227.1M678.7 97.0L679.4 103.7L680.8 110.2L681.4 116.7L682.7 122.2L683.0 125.4L682.7 128.5L683.7 131.2L683.7 147.0L682.8 149.6L683.0 153.0L683.7 155.7M683.7 155.7L684.3 158.1L685.9 162.4L687.0 165.7L687.4 168.2L687.6 170.7L688.4 172.0L689.3 174.0L690.8 176.5M694.6 97.0L694.7 98.4L695.3 99.7L699.1 100.3L702.9 100.8L705.4 100.5L708.6 102.2L711.7 103.7L714.9 105.8L718.7 104.2L723.7 105.5L727.2 106.5L721.2 110.2L716.1 113.9L711.1 118.1M711.6 118.4L709.9 118.9L709.9 124.2L709.5 124.7L707.3 125.8L706.2 127.6L707.6 130.3L707.0 133.0L706.7 136.1L708.3 137.7L711.5 139.3L713.9 142.2L716.5 144.0L716.6 147.0L716.8 150.5L717.7 153.5L720.2 155.6L721.8 157.3L723.4 159.0L723.1 161.1L722.1 163.6L717.7 164.9L717.4 166.6L718.3 167.8L717.4 169.9L715.5 172.0L715.4 173.4L714.9 174.8L715.5 177.1L715.8 178.9L717.4 180.2L719.7 182.6L719.9 184.2L720.9 185.7L723.6 185.8L723.2 187.6L722.1 190.2L723.1 191.8L725.0 193.6L727.4 196.1L727.5 198.2L729.8 200.7L729.4 203.3L727.5 204.5L727.2 205.6L726.2 208.4L724.7 211.9L723.7 215.1L722.4 216.1L720.9 218.4L720.7 220.3L718.7 222.9L717.4 226.0L716.8 228.2L717.0 231.2L717.4 234.2L718.7 236.2L717.4 238.7L715.5 241.6L714.2 244.6L714.1 246.0L726.0 246.0L725.3 248.6L726.5 251.2L727.4 252.0M720.3 155.6L738.2 155.6M740.0 161.9L757.1 161.9L757.1 162.4L765.7 162.1M739.9 161.9L739.9 181.8L739.5 183.8L739.9 187.2L738.5 189.4L737.3 190.6L737.0 192.6L736.8 194.2M757.0 162.4L757.0 183.8M784.1 171.2L783.4 173.2L783.3 175.2L782.9 175.9L782.1 178.9L779.8 181.4L777.6 182.4L776.4 184.6L774.0 185.8L773.5 187.8L772.0 189.3L771.0 189.3L770.8 188.8L768.5 186.8L766.6 187.7L763.6 187.4L760.9 186.2L759.0 183.8L757.0 183.8L756.8 185.0L756.8 186.4L754.6 187.0L753.4 186.8L753.0 188.6L751.1 190.5L749.6 192.6L747.7 191.4L746.4 193.3L744.5 192.8L742.6 194.4L739.7 192.9L737.3 193.4L736.8 194.2L736.6 196.6L734.1 197.2L733.8 199.8L733.2 199.9L730.6 199.0L729.8 200.7M728.0 204.5L736.5 204.5L736.5 203.1L746.4 203.3L755.9 203.5L764.2 203.7L776.8 203.8M776.8 203.8L776.8 204.1L813.5 204.1M764.2 203.7L767.9 201.7L770.4 200.2L772.9 198.4L775.0 196.3L772.9 195.2L771.6 193.0L771.0 191.4L771.0 189.3M775.0 196.3L776.8 199.0L779.7 198.7L782.1 197.8L785.5 196.6L787.4 192.6L789.6 188.0L791.8 189.3L794.5 186.5L797.8 181.4L801.1 183.6L801.8 182.0M722.4 216.1L752.1 216.1L760.2 216.1L767.9 216.1M735.7 216.1L736.3 216.9L734.0 239.4L734.4 250.6M752.1 216.1L754.7 232.2L755.9 236.5L755.1 240.2L755.9 246.0M740.1 251.3L740.4 250.1L739.5 246.0L755.9 246.0L756.8 248.2L773.5 249.2L774.5 250.6L775.1 247.5L778.3 248.2M767.9 216.1L766.3 218.4L769.1 220.3L771.3 223.7L773.5 226.4L775.4 228.2L778.0 231.2L778.6 234.2L780.5 237.9L781.9 238.5M767.9 216.1L772.9 214.6L780.9 214.9L781.6 215.3L782.5 217.5L789.5 217.6L796.6 224.8M760.2 216.1L761.9 214.0L762.2 213.0L765.3 211.7L766.9 210.7L769.1 208.8L771.0 208.4L774.5 207.4L775.4 206.0L776.7 204.9L776.8 203.8M784.1 178.8L814.0 178.8M784.1 160.0L784.1 178.8M788.9 157.6L788.9 159.8L816.8 159.8L818.5 161.5L818.6 163.2L819.6 164.5L820.9 165.2M820.9 165.2L819.6 166.6L818.1 168.5L817.7 170.7L818.5 172.0L819.3 173.2L820.4 174.8L819.6 175.8L818.1 177.3L816.3 178.1L815.5 179.3L815.5 180.6M820.9 165.2L825.9 168.2M816.3 178.1L815.2 177.8L814.0 178.8L814.0 189.0L818.6 189.0M810.6 192.3L807.3 190.6L806.3 190.2L806.0 189.0L804.5 189.4L804.8 187.8L806.2 185.8L804.8 184.6L803.2 183.8L801.7 182.0L801.0 179.8L798.9 178.9L797.2 180.2L795.2 179.3L793.4 180.8L790.6 182.9L790.6 178.8M711.1 118.1L711.6 118.4L716.8 117.1L719.3 116.2L718.8 119.4L721.7 119.7L725.0 117.8L727.5 117.2L731.0 115.0L732.4 113.5L734.1 115.8L735.1 116.7L737.6 116.9L740.7 119.9L745.5 121.1L749.7 118.8L756.2 117.9L755.9 120.4L758.4 120.8L760.0 120.4L761.2 123.1L762.2 124.9L757.6 126.1L752.7 124.2L748.0 125.3L745.8 128.5L743.9 127.2L742.9 127.2L741.4 130.3L739.5 133.0M721.7 119.7L723.6 121.8L730.0 123.6L732.9 124.9L736.3 125.6L737.9 127.2L738.2 130.7L739.5 133.0L737.3 137.0L737.0 138.0L743.3 131.2L741.1 135.6L740.1 138.7L739.2 141.8L738.8 144.8L737.7 150.9L738.2 155.6L739.5 161.1L740.0 162.4L741.7 163.0L743.9 162.2L744.4 161.9L746.5 159.0L748.0 156.4L748.3 153.2L748.0 150.5L747.5 149.3L746.2 145.7L746.7 143.1L746.4 142.1L747.5 140.5L748.1 137.1L749.1 134.7L752.4 132.1L752.1 135.9L753.5 133.4L754.3 131.0L756.2 130.6L755.6 128.1L757.6 126.9L759.2 128.1L762.8 129.8L765.7 131.2L765.8 133.3L766.6 134.7L766.6 137.0L766.4 139.2L765.7 140.5L762.8 142.7L763.1 145.7L766.0 143.5L766.8 143.2L768.8 142.1L770.7 144.0L771.4 147.6L772.2 151.3L771.6 154.7L769.4 156.0L768.2 157.1L767.5 159.4L765.7 162.1L768.5 163.6L770.4 164.0L772.9 164.6L773.7 164.3L776.7 164.0L779.5 161.9L782.4 160.7L784.1 160.0L786.8 158.6L788.9 157.6L791.6 155.7L794.4 152.3L793.4 149.1L796.9 148.1L802.6 149.0L806.3 148.9L809.5 147.3L811.4 146.6L811.4 143.5L810.4 141.8L813.9 138.7L815.8 136.5L819.6 134.0L820.7 133.9L829.4 133.8L841.0 133.8L843.7 131.2L845.1 131.6L845.5 130.1L848.0 127.2L848.9 125.3L848.6 123.1L850.2 121.1L850.5 118.5L850.5 144.8M841.0 133.8L840.7 137.4L837.6 141.8L836.6 145.3L835.0 149.6L834.4 152.6L835.0 153.6M829.4 133.8L829.4 138.3L829.1 142.7L829.1 146.1L830.0 147.0L829.9 153.5L828.4 159.4L828.4 165.7L827.0 167.4L827.4 168.3M829.9 153.5L842.3 153.9L844.2 152.4L845.3 152.4M828.4 159.4L839.1 159.7L841.8 159.7L841.8 160.7L842.1 161.7L842.9 162.6L843.4 164.0M839.1 159.7L839.1 165.6M843.7 131.2L844.0 138.3L844.4 146.4L845.3 149.2L845.9 150.7M850.5 144.8L848.9 145.7L849.2 146.5L848.1 147.4L847.5 148.3L846.7 150.0L845.9 150.7L845.5 152.2L845.3 152.9L846.7 154.3L844.9 155.6L844.0 156.9L844.5 157.7L846.0 158.1L846.4 160.3L847.2 161.7L848.6 162.2L850.5 161.7L850.5 162.6L848.6 163.0L846.7 163.6L846.3 163.9L846.6 162.0L846.0 161.9L844.7 163.2L843.4 164.0L842.9 164.3L842.1 164.3L841.7 161.5L841.2 165.2L838.8 165.6L837.3 165.7L832.2 166.1L830.3 167.0L828.1 168.0L827.4 168.3L826.7 169.2L825.9 168.2L825.0 170.7L823.6 172.4L825.3 172.6L825.3 174.8L824.8 176.9L824.6 178.5L823.7 180.6L822.6 181.7L820.9 183.8L819.4 185.2L819.3 183.2L817.7 182.4L816.4 181.4L815.5 180.6M825.1 171.5L826.8 171.6L829.7 171.3L832.2 170.5L835.0 169.5L838.8 167.6L836.0 168.2L836.4 166.9L834.1 168.4L831.1 168.5L828.4 168.8L826.8 169.5L826.5 170.0L825.1 171.5M815.5 179.8L815.8 181.8L816.4 183.8L817.1 185.4L818.3 186.2L818.5 187.0L818.6 189.0L818.5 190.0L817.4 192.4L816.8 193.4L815.2 196.2L813.9 198.2L812.8 199.6L812.5 198.2L813.0 196.2L814.2 194.2L815.0 192.7L813.6 192.8L813.3 191.0L812.0 190.2L810.8 187.8L810.4 185.4L811.4 183.0L813.0 180.6L812.1 180.2L810.4 181.8L809.5 182.6L809.7 184.9L809.3 187.0L810.1 189.4L810.6 192.3M810.6 192.3L811.1 193.5L810.8 195.8L810.4 197.6L810.1 198.8L810.8 200.6L810.8 201.0L812.7 201.1L813.5 204.1L814.2 206.8L815.5 209.9L815.6 214.2L812.7 215.5L809.3 219.1L806.3 218.6L803.8 219.9L801.6 221.8L800.3 224.8L796.6 224.8L794.4 226.1L792.5 229.7L791.5 231.2L788.0 233.1L784.9 235.0L784.6 236.5L783.0 237.6L781.9 238.5L780.5 240.9L779.2 243.8L778.6 245.3L778.3 248.2L778.6 250.4L779.2 254.1L781.1 259.1L783.9 264.5L783.6 267.0L785.2 270.2L786.8 274.8L787.2 276.9L786.6 283.2L785.5 286.0L780.5 287.9L778.9 283.2L776.1 280.7L774.8 278.3L773.2 276.5L771.3 272.7L770.1 270.5L772.0 268.4L769.6 267.7L770.7 264.1L770.4 261.3L768.2 259.5L766.0 257.0L764.4 254.1L760.9 252.8L760.0 254.1L753.7 255.7L753.4 254.1L751.5 252.4L748.3 250.8L742.0 250.9L740.1 251.3L738.8 251.5L736.8 251.7L737.0 248.4L736.1 250.8L734.4 250.6L733.5 250.8L731.3 250.4L730.0 250.6L728.4 251.2L727.4 252.0L726.2 253.0L728.1 253.7L729.4 254.4L728.1 257.0L729.1 258.0L730.3 259.1L729.8 260.6L728.1 261.1L727.8 258.8L725.9 258.4L724.3 258.8L723.1 260.0L720.2 260.2L718.0 260.2L716.1 258.4L715.8 257.0L712.7 257.0L711.1 256.2L709.8 256.7L705.4 255.1L703.2 255.1L700.1 255.5L696.6 257.0L694.4 258.4L694.1 255.1L692.2 260.6L690.9 261.1L686.8 263.4L684.0 265.2L681.1 267.3L679.9 269.1L678.0 273.0L678.3 277.6L678.9 281.1L679.2 282.1M679.2 282.1L677.0 282.5L673.2 281.4L668.8 279.2L666.5 277.9L665.9 275.5L664.4 271.2L660.6 266.3L658.1 262.7L655.6 258.0L652.4 255.1L651.5 254.8L648.3 254.8L646.1 255.0L644.2 255.9L643.3 258.0L641.4 260.7L639.2 259.7L637.5 258.6L633.7 256.5L631.6 253.3L630.3 249.3L627.2 247.1L623.4 243.1L620.3 240.5"/>
<path class="st" style="stroke-width:3.3" d="M815.5 213.8L812.7 216.1L809.5 218.4L806.3 218.8L802.6 221.4"/>
<path class="st" style="stroke-width:1.6" d="M784.6 287.4L786.2 291.5L787.4 294.6"/>
<path class="st" style="stroke-width:1.6" d="M683.3 263.4L682.7 260.6L682.2 257.7"/>
<path class="st" style="stroke-width:1.5" d="M677.0 272.3L673.2 272.3L668.8 271.6"/>
<path class="st" style="stroke-width:3.3" d="M678.3 269.8L677.5 274.8L678.6 280.4"/>
<path class="st" style="stroke-width:4.6" d="M825.0 171.4L830.3 169.5L835.4 167.8L838.5 166.6"/>
<path class="st" style="stroke-width:4.2" d="M838.5 165.7L842.3 164.0L845.5 163.2L850.5 162.4"/>
<path class="st" style="stroke-width:3.6" d="M825.3 172.8L824.6 178.1L822.4 181.8L819.6 185.0"/>
<path class="st" style="stroke-width:3.3" d="M678.9 269.8L682.7 265.2L687.8 262.7L692.8 259.1L694.7 257.0"/>
<path class="st" style="stroke-width:3.3" d="M703.5 255.1L709.8 256.2L714.2 256.6L718.0 258.8L722.4 259.1"/>
<path class="st" style="stroke-width:4.2" d="M770.1 267.7L771.0 271.2L773.5 276.2L774.8 278.3"/>
<path class="st" style="stroke-width:3.5" d="M778.6 246.8L779.8 241.6L782.4 237.2L786.2 234.2L789.9 231.6L792.5 229.0"/>
<path class="st" style="stroke-width:3.6" d="M727.5 251.2L733.2 250.4L737.0 250.1L740.7 250.4"/>
<circle cx="763.8" cy="144.2" r="2.2" fill="#000"/><circle cx="752.4" cy="134.0" r="1.7" fill="#000"/><circle cx="738.5" cy="135.2" r="1.3" fill="#000"/><circle cx="811.7" cy="144.8" r="1.4" fill="#000"/><circle cx="770.4" cy="156.0" r="1.3" fill="#000"/><polyline points="806.1,185.1 802.1,186.6 799.6,185.6" fill="none" stroke="#000" stroke-width="1.6" stroke-linejoin="round" stroke-linecap="round"/>
<polyline points="806.6,190.6 802.6,191.6 800.6,194.1" fill="none" stroke="#000" stroke-width="1.6" stroke-linejoin="round" stroke-linecap="round"/>
<polyline points="807.1,182.1 804.1,181.1 802.6,182.6" fill="none" stroke="#000" stroke-width="1.6" stroke-linejoin="round" stroke-linecap="round"/>
<polyline points="809.6,216.1 804.1,219.4 799.1,222.3" fill="none" stroke="#000" stroke-width="1.6" stroke-linejoin="round" stroke-linecap="round"/>
<polyline points="806.6,214.1 803.6,213.6 800.7,208.4" fill="none" stroke="#000" stroke-width="1.6" stroke-linejoin="round" stroke-linecap="round"/>
<polyline points="805.6,215.6 802.1,217.1 798.9,217.5" fill="none" stroke="#000" stroke-width="1.6" stroke-linejoin="round" stroke-linecap="round"/>
<polyline points="807.1,212.1 803.1,210.1 801.1,205.6" fill="none" stroke="#000" stroke-width="1.6" stroke-linejoin="round" stroke-linecap="round"/>
<polygon points="805.3,187.6 806.6,182.3 810.1,180.1 813.7,178.9 816.8,179.8 818.4,178.3 819.4,181.1 818.7,185.1 819.1,188.9 818.1,191.3 814.6,198.1 812.8,201.1 814.6,206.6 817.1,214.5 814.3,211.9 812.2,214.5 809.3,216.6 806.6,214.6 808.6,211.6 807.4,210.3 806.1,205.4 807.4,199.3 803.3,196.7 806.7,193.3" fill="#000" stroke="#000" stroke-width="1" stroke-linejoin="round"/>
<polygon points="721.6,250.7 725.2,249.1 728.3,251.3 729.6,256.7 733.1,263.7 728.3,259.6 725.2,260.9 720.8,262.6 720.4,259.1 718.0,256.9 720.4,255.5 722.4,252.9" fill="#000" stroke="#000" stroke-width="1" stroke-linejoin="round"/>
<text class="b" x="636.5" y="77.1" font-size="12.6" text-anchor="start">100<tspan dy="-11.1" dx="2.3" font-size="5.6">o</tspan><tspan dy="11.1" dx="4.35">W</tspan></text>
<text class="b" x="705.3" y="77.1" font-size="12.6" text-anchor="start">90<tspan dy="-11.1" dx="2.3" font-size="5.6">o</tspan><tspan dy="11.1" dx="4.35">W</tspan></text>
<text class="b" x="769.3" y="77.1" font-size="12.6" text-anchor="start">80<tspan dy="-11.1" dx="2.3" font-size="5.6">o</tspan><tspan dy="11.1" dx="4.35">W</tspan></text>
<text class="b" x="832.8" y="77.1" font-size="12.6" text-anchor="start">70<tspan dy="-11.1" dx="2.3" font-size="5.6">o</tspan><tspan dy="11.1" dx="4.35">W</tspan></text>
<text class="b" x="567.1" y="112.4" font-size="12.6" text-anchor="start">48<tspan dy="-11.1" dx="2.3" font-size="5.6">o</tspan><tspan dy="11.1" dx="4.35">N</tspan></text>
<text class="b" x="567.1" y="130.7" font-size="12.6" text-anchor="start">46<tspan dy="-11.1" dx="2.3" font-size="5.6">o</tspan><tspan dy="11.1" dx="4.35">N</tspan></text>
<text class="b" x="567.1" y="147.7" font-size="12.6" text-anchor="start">44<tspan dy="-11.1" dx="2.3" font-size="5.6">o</tspan><tspan dy="11.1" dx="4.35">N</tspan></text>
<text class="b" x="567.1" y="166.3" font-size="12.6" text-anchor="start">42<tspan dy="-11.1" dx="2.3" font-size="5.6">o</tspan><tspan dy="11.1" dx="4.35">N</tspan></text>
<text class="b" x="567.1" y="182.6" font-size="12.6" text-anchor="start">40<tspan dy="-11.1" dx="2.3" font-size="5.6">o</tspan><tspan dy="11.1" dx="4.35">N</tspan></text>
<text class="b" x="567.1" y="198.0" font-size="12.6" text-anchor="start">38<tspan dy="-11.1" dx="2.3" font-size="5.6">o</tspan><tspan dy="11.1" dx="4.35">N</tspan></text>
<text class="b" x="567.1" y="214.6" font-size="12.6" text-anchor="start">36<tspan dy="-11.1" dx="2.3" font-size="5.6">o</tspan><tspan dy="11.1" dx="4.35">N</tspan></text>
<text class="b" x="567.1" y="228.8" font-size="12.6" text-anchor="start">34<tspan dy="-11.1" dx="2.3" font-size="5.6">o</tspan><tspan dy="11.1" dx="4.35">N</tspan></text>
<text class="b" x="567.1" y="245.7" font-size="12.6" text-anchor="start">32<tspan dy="-11.1" dx="2.3" font-size="5.6">o</tspan><tspan dy="11.1" dx="4.35">N</tspan></text>
<text class="b" x="567.1" y="259.9" font-size="12.6" text-anchor="start">30<tspan dy="-11.1" dx="2.3" font-size="5.6">o</tspan><tspan dy="11.1" dx="4.35">N</tspan></text>
<text class="b" x="567.1" y="272.5" font-size="12.6" text-anchor="start">28<tspan dy="-11.1" dx="2.3" font-size="5.6">o</tspan><tspan dy="11.1" dx="4.35">N</tspan></text>
<text class="b" x="567.1" y="287.1" font-size="12.6" text-anchor="start">26<tspan dy="-11.1" dx="2.3" font-size="5.6">o</tspan><tspan dy="11.1" dx="4.35">N</tspan></text>
<text class="b" x="567.1" y="301.7" font-size="12.6" text-anchor="start">24<tspan dy="-11.1" dx="2.3" font-size="5.6">o</tspan><tspan dy="11.1" dx="4.35">N</tspan></text>
<text class="b" x="567.1" y="313.8" font-size="12.6" text-anchor="start">22<tspan dy="-11.1" dx="2.3" font-size="5.6">o</tspan><tspan dy="11.1" dx="4.35">N</tspan></text>
<text class="b" x="630.0" y="341.0" font-size="23" textLength="198.6" lengthAdjust="spacing">SAT+RAP CAPE</text>
<rect x="862.1" y="93.2" width="23.8" height="219.5" fill="url(#jet)" stroke="#262626" stroke-width="0.8"/>
<line x1="883.4" x2="885.9" y1="106.5" y2="106.5" stroke="#262626" stroke-width="0.8"/><text class="b" x="894.1" y="114.1" font-size="20.8">80</text>
<line x1="883.4" x2="885.9" y1="157.8" y2="157.8" stroke="#262626" stroke-width="0.8"/><text class="b" x="894.1" y="165.4" font-size="20.8">60</text>
<line x1="883.4" x2="885.9" y1="209.3" y2="209.3" stroke="#262626" stroke-width="0.8"/><text class="b" x="894.1" y="216.9" font-size="20.8">40</text>
<line x1="883.4" x2="885.9" y1="260.7" y2="260.7" stroke="#262626" stroke-width="0.8"/><text class="b" x="894.1" y="268.3" font-size="20.8">20</text>
<line x1="883.4" x2="885.9" y1="312.0" y2="312.0" stroke="#262626" stroke-width="0.8"/><text class="b" x="894.1" y="319.6" font-size="20.8">0</text>
</g>
<g id="panel3">
<rect x="1038.5" y="95.5" width="234.0" height="215.0" fill="none" stroke="#1a1a1a" stroke-width="1.1"/>
<g fill="none" stroke-linecap="round" stroke-width="8.0"><path stroke="#0033ff" d="M1181.6 96.1h0M1155.8 96.1h0M1137.4 96.1h0M1153.2 96.2h0M1139.4 96.4h0M1157.7 96.4h0M1150.5 96.4h0M1169.1 96.4h0M1200.3 96.5h0M1142.2 96.5h0M1157.1 97.9h0M1167.1 97.9h0M1162.5 97.9h0M1154.0 98.0h0M1151.5 98.0h0M1139.1 98.0h0M1172.2 98.1h0M1177.4 98.1h0M1141.3 98.1h0M1180.2 98.1h0M1143.6 98.1h0M1146.2 98.2h0M1148.6 98.3h0M1175.3 98.6h0M1169.6 98.6h0M1201.1 98.6h0M1159.3 98.6h0M1164.9 98.7h0M1188.6 98.8h0"/><path stroke="#004dff" d="M1184.7 96.2h0M1189.2 96.4h0M1161.0 96.4h0M1187.3 96.5h0M1185.3 97.8h0M1198.4 97.8h0M1182.9 98.2h0M1191.3 98.7h0"/><path stroke="#0066ff" d="M1192.6 96.1h0M1194.5 96.4h0M1196.1 98.1h0"/><path stroke="#0080ff" d="M1268.1 96.4h0M1269.3 98.1h0M1221.7 98.3h0M1193.7 98.6h0"/><path stroke="#0099ff" d="M1204.3 98.5h0"/><path stroke="#00e5ff" d="M1271.7 97.9h0"/><path stroke="#00ffff" d="M1208.1 96.4h0M1206.9 98.7h0"/><path stroke="#0033ff" d="M1150.4 100.7h0"/><path stroke="#004dff" d="M1168.7 100.0h0M1171.5 100.1h0M1190.0 100.1h0M1187.1 100.1h0M1158.5 100.3h0M1199.9 100.4h0M1137.0 100.4h0M1156.0 100.4h0M1140.2 100.4h0M1197.6 100.4h0M1152.9 100.5h0M1142.6 100.5h0M1147.9 100.5h0M1166.3 100.6h0M1182.2 100.6h0M1179.4 100.7h0M1145.1 100.7h0M1183.8 100.8h0M1163.8 100.8h0M1160.4 100.9h0M1176.0 100.9h0M1173.5 100.9h0"/><path stroke="#0066ff" d="M1202.2 100.5h0M1192.2 100.9h0"/><path stroke="#00e5ff" d="M1194.4 100.3h0"/><path stroke="#00ffff" d="M1268.3 100.4h0M1271.0 100.5h0"/><path stroke="#33ffcc" d="M1272.9 100.8h0"/><path stroke="#66ff99" d="M1205.1 100.8h0"/><path stroke="#0033ff" d="M1184.0 104.6h0M1187.2 104.7h0M1192.1 104.7h0M1189.2 104.8h0M1145.0 104.8h0M1202.5 105.0h0M1176.7 105.0h0"/><path stroke="#004dff" d="M1198.4 102.4h0M1191.3 102.4h0M1156.9 102.5h0M1138.3 102.6h0M1161.7 102.6h0M1153.8 102.6h0M1180.4 102.7h0M1178.0 102.8h0M1183.2 102.9h0M1151.5 102.9h0M1185.8 102.9h0M1188.6 103.0h0M1146.4 103.0h0M1170.2 103.1h0M1148.6 103.1h0M1143.6 103.2h0M1163.0 104.6h0M1174.0 104.9h0M1181.6 105.1h0"/><path stroke="#0066ff" d="M1160.0 102.7h0M1201.5 102.8h0M1172.7 103.0h0M1174.9 103.1h0M1141.4 103.2h0M1164.3 103.2h0M1166.9 103.2h0"/><path stroke="#0080ff" d="M1196.9 104.6h0"/><path stroke="#0099ff" d="M1196.2 102.8h0M1194.4 104.7h0"/><path stroke="#00b2ff" d="M1203.8 102.6h0"/><path stroke="#00ccff" d="M1205.7 104.8h0M1273.0 105.0h0"/><path stroke="#1affe5" d="M1193.7 102.9h0M1270.9 105.1h0"/><path stroke="#4dffb2" d="M1271.8 102.5h0"/><path stroke="#66ff99" d="M1269.4 102.8h0"/><path stroke="#e5ff1a" d="M1266.8 102.3h0"/><path stroke="#ffcc00" d="M1206.9 102.3h0"/><path stroke="#0033ff" d="M1142.8 105.2h0M1150.7 105.3h0M1199.9 105.3h0M1140.4 105.5h0M1147.8 105.5h0"/><path stroke="#004dff" d="M1153.3 105.2h0M1155.8 105.3h0M1160.7 105.3h0M1158.5 105.5h0M1191.2 106.9h0M1149.2 106.9h0M1143.8 107.0h0M1183.0 107.0h0M1146.0 107.3h0M1141.3 107.5h0M1185.2 107.7h0M1187.8 107.8h0"/><path stroke="#0066ff" d="M1179.5 105.3h0M1204.2 107.0h0M1157.1 107.2h0M1154.6 107.3h0M1152.0 107.5h0M1193.2 107.7h0M1200.9 107.7h0"/><path stroke="#0080ff" d="M1159.1 107.2h0"/><path stroke="#0099ff" d="M1180.7 107.4h0"/><path stroke="#00b2ff" d="M1174.7 107.1h0"/><path stroke="#00ffff" d="M1177.5 107.4h0"/><path stroke="#1affe5" d="M1198.5 107.4h0"/><path stroke="#4dffb2" d="M1196.2 107.6h0"/><path stroke="#66ff99" d="M1271.4 107.0h0"/><path stroke="#80ff80" d="M1267.6 105.3h0M1268.8 107.1h0"/><path stroke="#99ff66" d="M1266.8 107.6h0"/><path stroke="#b3ff4c" d="M1265.1 105.2h0"/><path stroke="#ffff00" d="M1263.8 107.3h0"/><path stroke="#ff8000" d="M1261.5 106.9h0"/><path stroke="#004dff" d="M1152.5 109.2h0M1150.1 109.3h0M1184.6 109.3h0M1142.5 109.6h0M1189.9 109.6h0M1187.2 109.9h0M1145.0 109.9h0M1147.7 110.0h0"/><path stroke="#0066ff" d="M1191.8 109.1h0M1155.6 109.3h0M1202.3 109.3h0"/><path stroke="#0080ff" d="M1181.8 109.8h0M1157.9 109.9h0"/><path stroke="#00ccff" d="M1200.1 109.5h0"/><path stroke="#00e5ff" d="M1178.8 109.1h0M1195.2 110.0h0"/><path stroke="#00ffff" d="M1176.2 109.9h0"/><path stroke="#33ffcc" d="M1272.7 109.4h0"/><path stroke="#4dffb2" d="M1197.5 110.0h0"/><path stroke="#99ff66" d="M1270.0 109.4h0"/><path stroke="#b3ff4c" d="M1268.2 109.7h0"/><path stroke="#e5ff1a" d="M1264.9 109.6h0"/><path stroke="#ff6600" d="M1262.3 109.3h0"/><path stroke="#ff0000" d="M1259.7 109.3h0"/><path stroke="#0033ff" d="M1146.6 111.5h0"/><path stroke="#004dff" d="M1149.3 111.5h0M1152.0 112.2h0M1143.5 112.3h0M1148.2 114.1h0"/><path stroke="#0066ff" d="M1154.7 111.9h0M1202.8 114.1h0"/><path stroke="#0099ff" d="M1159.3 111.5h0M1156.5 111.7h0M1183.0 111.9h0M1185.7 112.2h0"/><path stroke="#00b2ff" d="M1188.3 112.3h0"/><path stroke="#00ccff" d="M1177.6 111.4h0M1180.6 112.1h0M1157.8 113.6h0"/><path stroke="#00e5ff" d="M1199.1 111.5h0M1201.7 112.1h0M1189.2 114.0h0M1181.2 114.1h0"/><path stroke="#00ffff" d="M1271.5 111.6h0M1193.1 111.6h0M1204.1 111.9h0"/><path stroke="#1affe5" d="M1190.5 112.3h0M1195.6 112.3h0M1176.7 113.7h0"/><path stroke="#33ffcc" d="M1175.6 111.8h0"/><path stroke="#4dffb2" d="M1269.4 112.2h0"/><path stroke="#66ff99" d="M1266.6 111.8h0M1270.9 114.1h0"/><path stroke="#99ff66" d="M1267.8 113.7h0"/><path stroke="#b3ff4c" d="M1264.2 111.7h0M1200.0 113.9h0M1197.1 114.1h0"/><path stroke="#ccff33" d="M1192.3 113.6h0"/><path stroke="#ffcc00" d="M1257.5 113.9h0"/><path stroke="#ff9900" d="M1258.6 111.6h0"/><path stroke="#ff8000" d="M1256.5 111.7h0"/><path stroke="#ff6600" d="M1261.8 111.8h0"/><path stroke="#0033ff" d="M1146.7 116.5h0"/><path stroke="#004dff" d="M1145.4 114.4h0M1149.1 116.7h0M1151.7 116.7h0"/><path stroke="#0066ff" d="M1155.3 114.4h0M1150.0 114.5h0M1152.9 114.5h0M1154.3 116.5h0"/><path stroke="#0080ff" d="M1156.6 116.0h0"/><path stroke="#00b2ff" d="M1184.7 114.4h0M1185.8 116.0h0"/><path stroke="#00ccff" d="M1179.3 114.6h0M1182.6 116.4h0"/><path stroke="#00e5ff" d="M1186.8 114.2h0M1200.9 116.2h0"/><path stroke="#00ffff" d="M1159.5 116.2h0M1187.9 116.3h0"/><path stroke="#1affe5" d="M1272.1 116.0h0M1267.0 116.1h0"/><path stroke="#33ffcc" d="M1269.7 116.6h0"/><path stroke="#4dffb2" d="M1272.9 114.5h0M1190.4 115.9h0M1199.0 116.4h0"/><path stroke="#66ff99" d="M1194.8 114.2h0M1193.2 116.4h0"/><path stroke="#80ff80" d="M1261.7 116.6h0"/><path stroke="#b3ff4c" d="M1195.7 116.4h0M1263.5 116.4h0M1255.8 116.5h0"/><path stroke="#ccff33" d="M1265.3 114.2h0M1262.4 114.4h0"/><path stroke="#ffff00" d="M1259.0 116.4h0"/><path stroke="#ffe500" d="M1259.8 114.3h0"/><path stroke="#004dff" d="M1150.6 118.1h0M1153.2 118.3h0M1145.4 118.5h0M1148.2 118.8h0"/><path stroke="#0066ff" d="M1155.6 118.5h0"/><path stroke="#0080ff" d="M1157.8 118.9h0"/><path stroke="#66ff99" d="M1199.9 118.3h0M1184.2 118.3h0"/><path stroke="#99ff66" d="M1270.5 118.3h0M1192.1 118.4h0"/><path stroke="#b3ff4c" d="M1195.1 118.6h0M1189.7 118.9h0M1255.0 119.1h0"/><path stroke="#ccff33" d="M1272.7 118.4h0M1265.3 118.4h0M1260.0 118.7h0M1262.5 118.9h0M1186.7 118.9h0"/><path stroke="#e5ff1a" d="M1257.7 118.7h0"/><path stroke="#ffff00" d="M1268.1 118.9h0"/><path stroke="#ff9900" d="M1197.8 118.7h0"/><path stroke="#0033ff" d="M1150.3 123.1h0M1147.8 123.1h0"/><path stroke="#004dff" d="M1154.0 120.6h0M1151.5 121.1h0M1148.6 121.1h0M1157.9 122.7h0M1155.9 122.8h0"/><path stroke="#0066ff" d="M1157.0 121.0h0"/><path stroke="#0080ff" d="M1159.1 121.2h0"/><path stroke="#80ff80" d="M1255.0 123.2h0"/><path stroke="#99ff66" d="M1253.9 120.8h0M1188.6 120.8h0M1256.3 121.0h0M1187.1 122.7h0M1192.6 122.9h0"/><path stroke="#b3ff4c" d="M1258.4 121.0h0M1197.6 122.7h0M1189.8 122.7h0M1262.3 123.1h0"/><path stroke="#ccff33" d="M1261.7 120.7h0M1190.6 121.2h0"/><path stroke="#e5ff1a" d="M1263.8 120.5h0M1186.1 120.7h0M1193.3 120.8h0M1265.5 122.9h0M1260.4 123.0h0"/><path stroke="#ffe500" d="M1266.6 120.8h0"/><path stroke="#ffcc00" d="M1270.0 122.8h0"/><path stroke="#ffb300" d="M1195.8 120.4h0M1269.0 120.9h0"/><path stroke="#ff6600" d="M1198.5 120.8h0"/><path stroke="#ff1a00" d="M1271.8 121.2h0"/><path stroke="#0033ff" d="M1152.6 123.6h0M1159.0 125.0h0M1156.7 125.5h0M1148.8 125.6h0M1151.7 125.8h0"/><path stroke="#004dff" d="M1154.1 125.0h0"/><path stroke="#33ffcc" d="M1252.2 123.3h0M1183.9 123.5h0M1193.3 125.0h0"/><path stroke="#80ff80" d="M1257.4 123.5h0M1191.0 125.9h0"/><path stroke="#99ff66" d="M1251.1 125.1h0M1253.6 125.8h0"/><path stroke="#b3ff4c" d="M1195.0 123.3h0"/><path stroke="#ccff33" d="M1261.5 125.4h0M1264.5 125.8h0"/><path stroke="#e5ff1a" d="M1258.6 125.5h0M1256.0 125.8h0"/><path stroke="#ffff00" d="M1267.5 123.2h0M1196.4 125.0h0"/><path stroke="#ffe500" d="M1266.4 125.1h0"/><path stroke="#ffb300" d="M1185.8 125.0h0M1198.6 125.8h0"/><path stroke="#ff6600" d="M1269.5 125.6h0M1188.6 125.9h0"/><path stroke="#ff1a00" d="M1272.0 125.5h0"/><path stroke="#0033ff" d="M1153.1 127.3h0M1150.5 127.8h0M1158.2 127.9h0"/><path stroke="#004dff" d="M1155.3 128.1h0"/><path stroke="#99ff66" d="M1192.2 127.5h0M1264.9 128.2h0"/><path stroke="#b3ff4c" d="M1184.2 127.3h0M1262.3 127.4h0"/><path stroke="#ccff33" d="M1260.1 127.6h0"/><path stroke="#e5ff1a" d="M1251.8 127.3h0M1195.1 127.8h0"/><path stroke="#ffff00" d="M1255.2 128.0h0"/><path stroke="#ffe500" d="M1249.2 127.4h0M1257.5 128.1h0"/><path stroke="#ffcc00" d="M1197.2 127.6h0"/><path stroke="#ffb300" d="M1268.1 128.1h0"/><path stroke="#ff9900" d="M1186.5 127.4h0M1189.2 127.7h0"/><path stroke="#ff0000" d="M1270.9 128.1h0"/><path stroke="#cc0000" d="M1272.8 128.0h0"/><path stroke="#0033ff" d="M1159.1 130.4h0M1152.0 130.4h0"/><path stroke="#004dff" d="M1154.5 129.7h0M1156.5 130.3h0M1158.3 131.7h0"/><path stroke="#33ffcc" d="M1177.4 130.0h0"/><path stroke="#4dffb2" d="M1176.3 132.2h0"/><path stroke="#80ff80" d="M1264.3 129.6h0M1183.1 130.1h0"/><path stroke="#99ff66" d="M1180.6 129.8h0M1185.4 130.1h0"/><path stroke="#ccff33" d="M1260.2 132.1h0M1192.1 132.1h0"/><path stroke="#e5ff1a" d="M1255.7 130.0h0M1188.4 130.4h0"/><path stroke="#ffff00" d="M1253.6 129.7h0M1267.1 129.9h0"/><path stroke="#ffe500" d="M1251.1 129.7h0M1258.3 129.9h0M1189.4 131.8h0"/><path stroke="#ffcc00" d="M1261.5 129.8h0M1191.3 130.1h0M1193.5 130.2h0"/><path stroke="#ffb300" d="M1265.7 132.0h0"/><path stroke="#ff9900" d="M1195.8 130.0h0"/><path stroke="#ff8000" d="M1267.6 132.2h0"/><path stroke="#ff4c00" d="M1268.9 130.2h0M1270.2 132.2h0"/><path stroke="#ff0000" d="M1271.7 130.1h0"/><path stroke="#e50000" d="M1273.2 131.9h0"/><path stroke="#0033ff" d="M1155.9 132.3h0M1152.7 132.7h0M1154.6 134.1h0M1157.0 134.1h0"/><path stroke="#004dff" d="M1159.1 134.6h0"/><path stroke="#1affe5" d="M1177.5 134.1h0"/><path stroke="#33ffcc" d="M1179.0 132.7h0"/><path stroke="#66ff99" d="M1181.7 132.6h0"/><path stroke="#80ff80" d="M1184.0 132.6h0M1185.9 134.2h0M1263.6 134.6h0M1180.1 134.9h0M1174.9 134.9h0"/><path stroke="#b3ff4c" d="M1187.3 132.5h0M1262.5 132.5h0M1250.9 134.5h0M1261.1 134.5h0M1248.3 134.6h0"/><path stroke="#ccff33" d="M1188.2 134.2h0"/><path stroke="#e5ff1a" d="M1252.2 132.3h0M1253.3 134.8h0M1182.9 134.9h0"/><path stroke="#ffff00" d="M1249.3 132.4h0M1190.6 134.2h0M1196.2 134.7h0"/><path stroke="#ffe500" d="M1193.6 134.4h0"/><path stroke="#ffcc00" d="M1194.5 132.6h0M1254.5 132.6h0M1258.7 134.3h0"/><path stroke="#ffb300" d="M1255.8 134.3h0M1267.1 134.9h0"/><path stroke="#ff9900" d="M1257.1 132.7h0"/><path stroke="#ff8000" d="M1269.4 134.3h0"/><path stroke="#e50000" d="M1272.2 134.9h0"/><path stroke="#0033ff" d="M1155.3 137.0h0"/><path stroke="#004dff" d="M1158.6 136.9h0"/><path stroke="#99ff66" d="M1179.4 136.4h0"/><path stroke="#ccff33" d="M1176.4 136.3h0M1249.7 136.5h0"/><path stroke="#e5ff1a" d="M1184.4 137.0h0M1262.2 137.1h0"/><path stroke="#ffff00" d="M1246.8 136.2h0M1251.8 136.6h0M1182.0 136.6h0M1189.3 136.9h0"/><path stroke="#ffe500" d="M1254.9 137.2h0"/><path stroke="#ffcc00" d="M1187.2 136.2h0M1260.2 136.9h0"/><path stroke="#ff9900" d="M1265.4 136.6h0"/><path stroke="#ff8000" d="M1257.2 136.3h0M1267.7 136.5h0M1192.4 136.6h0"/><path stroke="#ff6600" d="M1194.6 137.1h0"/><path stroke="#ff4c00" d="M1270.7 136.7h0"/><path stroke="#ff0000" d="M1273.0 136.8h0"/><path stroke="#004dff" d="M1157.4 138.7h0M1159.8 139.2h0"/><path stroke="#0066ff" d="M1160.7 140.9h0"/><path stroke="#80ff80" d="M1248.0 139.2h0"/><path stroke="#b3ff4c" d="M1178.0 138.5h0M1178.9 140.9h0"/><path stroke="#ccff33" d="M1251.1 139.3h0M1260.3 141.0h0"/><path stroke="#ffff00" d="M1174.9 138.5h0M1180.2 138.7h0M1182.7 139.1h0M1188.2 139.2h0M1185.5 139.4h0M1258.9 139.4h0M1186.6 141.2h0M1262.9 141.2h0"/><path stroke="#ffe500" d="M1261.0 138.8h0M1184.0 141.3h0"/><path stroke="#ffcc00" d="M1190.5 139.5h0M1181.8 141.2h0"/><path stroke="#ffb300" d="M1263.8 139.0h0M1268.0 140.9h0"/><path stroke="#ff9900" d="M1253.1 139.2h0M1270.1 141.3h0"/><path stroke="#ff8000" d="M1269.2 138.6h0M1193.5 139.0h0M1266.8 139.3h0M1256.4 139.4h0"/><path stroke="#ff1a00" d="M1271.5 139.0h0"/><path stroke="#0066ff" d="M1158.1 141.7h0"/><path stroke="#0099ff" d="M1159.7 143.8h0"/><path stroke="#33ffcc" d="M1246.8 141.4h0"/><path stroke="#4dffb2" d="M1249.6 141.3h0"/><path stroke="#b3ff4c" d="M1252.5 141.6h0"/><path stroke="#ccff33" d="M1250.8 143.4h0M1248.6 143.4h0"/><path stroke="#e5ff1a" d="M1176.5 141.4h0M1246.1 143.8h0"/><path stroke="#ffe500" d="M1257.5 141.3h0M1255.1 141.5h0M1261.6 143.1h0"/><path stroke="#ffcc00" d="M1265.1 141.3h0M1253.7 143.3h0"/><path stroke="#ffb300" d="M1269.5 143.3h0M1258.7 143.6h0M1256.2 143.8h0"/><path stroke="#ff9900" d="M1271.9 143.3h0"/><path stroke="#ff6600" d="M1182.7 143.1h0M1263.5 143.4h0"/><path stroke="#ff4c00" d="M1266.7 143.7h0"/><path stroke="#0099ff" d="M1161.0 145.5h0"/><path stroke="#00ffff" d="M1246.9 145.3h0"/><path stroke="#33ffcc" d="M1249.5 146.2h0"/><path stroke="#80ff80" d="M1270.9 145.9h0"/><path stroke="#99ff66" d="M1272.8 145.8h0"/><path stroke="#b3ff4c" d="M1252.6 145.5h0"/><path stroke="#e5ff1a" d="M1254.6 145.6h0M1268.0 145.8h0"/><path stroke="#ffff00" d="M1257.3 145.6h0M1263.0 145.7h0M1260.0 146.2h0"/><path stroke="#ffb300" d="M1265.2 146.3h0"/><path stroke="#0080ff" d="M1162.3 148.1h0"/><path stroke="#00ccff" d="M1163.2 148.8h0"/><path stroke="#33ffcc" d="M1245.6 148.0h0"/><path stroke="#66ff99" d="M1248.6 147.8h0"/><path stroke="#80ff80" d="M1270.6 149.9h0M1244.8 150.2h0"/><path stroke="#99ff66" d="M1251.1 147.8h0M1249.7 150.1h0M1252.0 150.2h0"/><path stroke="#b3ff4c" d="M1253.5 147.7h0M1269.2 147.9h0M1271.3 148.4h0"/><path stroke="#e5ff1a" d="M1256.1 147.8h0M1268.3 150.1h0"/><path stroke="#ffff00" d="M1259.0 148.3h0M1260.9 148.3h0M1265.1 149.9h0"/><path stroke="#ffb300" d="M1266.4 148.1h0M1263.6 148.3h0M1262.6 150.2h0"/><path stroke="#1affe5" d="M1271.7 152.9h0"/><path stroke="#99ff66" d="M1248.1 152.9h0"/><path stroke="#b3ff4c" d="M1246.9 150.6h0"/><path stroke="#ccff33" d="M1250.9 152.6h0"/><path stroke="#e5ff1a" d="M1257.2 150.4h0"/><path stroke="#ffe500" d="M1253.8 152.7h0"/><path stroke="#ffcc00" d="M1269.3 152.7h0M1266.6 152.7h0"/><path stroke="#ffb300" d="M1260.4 150.4h0M1254.4 150.7h0"/><path stroke="#ff9900" d="M1256.2 152.2h0M1258.4 152.4h0M1263.8 152.5h0"/><path stroke="#ff8000" d="M1261.2 153.0h0"/><path stroke="#99ff66" d="M1273.3 155.2h0"/><path stroke="#b3ff4c" d="M1247.1 154.7h0"/><path stroke="#e5ff1a" d="M1270.0 154.9h0"/><path stroke="#ffff00" d="M1267.7 154.7h0"/><path stroke="#ffe500" d="M1257.1 154.5h0M1260.4 154.7h0M1249.3 155.0h0"/><path stroke="#ffcc00" d="M1251.9 155.1h0"/><path stroke="#ffb300" d="M1254.6 154.5h0M1262.5 154.9h0M1264.9 155.2h0"/><path stroke="#e5ff1a" d="M1248.1 156.8h0"/><path stroke="#ffe500" d="M1271.5 157.1h0M1269.4 157.2h0M1267.0 157.4h0"/><path stroke="#ffb300" d="M1261.7 156.6h0M1255.7 156.6h0M1259.2 156.7h0M1253.9 157.0h0M1251.9 158.9h0M1268.0 159.2h0"/><path stroke="#ff9900" d="M1250.7 156.8h0M1263.7 157.4h0"/><path stroke="#ff8000" d="M1255.3 159.0h0M1265.6 159.3h0"/><path stroke="#ff6600" d="M1259.6 159.2h0"/><path stroke="#ffe500" d="M1262.8 159.7h0M1269.3 161.1h0"/><path stroke="#ffcc00" d="M1273.3 159.5h0"/><path stroke="#ffb300" d="M1253.8 161.5h0M1256.2 161.9h0M1272.2 161.9h0"/><path stroke="#ff9900" d="M1270.0 159.8h0M1261.4 161.8h0M1259.1 162.0h0M1264.5 162.1h0"/><path stroke="#ff8000" d="M1257.6 159.7h0M1266.8 161.2h0"/><path stroke="#ffcc00" d="M1254.6 163.4h0M1259.8 164.1h0M1257.2 164.2h0"/><path stroke="#ffb300" d="M1271.0 163.4h0M1263.0 163.9h0M1265.5 164.4h0"/><path stroke="#ff8000" d="M1268.0 163.9h0"/><path stroke="#004dff" d="M1242.0 168.0h0"/><path stroke="#ffe500" d="M1255.3 168.0h0M1257.2 168.1h0M1262.9 168.2h0"/><path stroke="#ffcc00" d="M1256.0 166.3h0M1267.6 168.2h0M1265.2 168.2h0"/><path stroke="#ffb300" d="M1264.5 165.8h0"/><path stroke="#ff9900" d="M1272.2 165.7h0M1269.2 166.1h0M1266.6 166.4h0M1270.1 168.2h0"/><path stroke="#ff8000" d="M1259.1 165.7h0M1261.8 166.2h0"/><path stroke="#004dff" d="M1244.3 168.6h0"/><path stroke="#0080ff" d="M1242.7 170.3h0"/><path stroke="#ffcc00" d="M1256.5 170.2h0"/><path stroke="#ffb300" d="M1260.0 168.9h0"/><path stroke="#ff9900" d="M1263.6 170.6h0"/><path stroke="#ff8000" d="M1258.3 170.9h0"/><path stroke="#ff6600" d="M1266.9 170.5h0M1261.6 171.0h0M1269.6 171.2h0"/><path stroke="#ff4c00" d="M1271.7 171.0h0"/><path stroke="#0080ff" d="M1241.7 172.7h0"/><path stroke="#0099ff" d="M1244.8 173.4h0"/><path stroke="#80ff80" d="M1255.1 173.2h0"/><path stroke="#ccff33" d="M1259.8 172.6h0"/><path stroke="#ffff00" d="M1257.3 173.2h0"/><path stroke="#ffe500" d="M1272.9 172.4h0M1268.4 172.5h0M1262.4 172.6h0"/><path stroke="#ffcc00" d="M1265.0 172.7h0"/><path stroke="#ff9900" d="M1270.9 172.8h0"/><path stroke="#0080ff" d="M1241.6 177.2h0M1244.4 177.2h0"/><path stroke="#00b2ff" d="M1243.0 174.8h0"/><path stroke="#b3ff4c" d="M1256.3 175.6h0"/><path stroke="#e5ff1a" d="M1257.6 177.4h0"/><path stroke="#ffe500" d="M1258.3 175.0h0M1261.0 175.6h0M1260.5 177.2h0"/><path stroke="#ff6600" d="M1269.0 174.8h0M1266.9 174.8h0M1263.8 174.9h0M1270.3 177.0h0"/><path stroke="#ff4c00" d="M1267.8 177.4h0"/><path stroke="#ff1a00" d="M1272.0 175.3h0"/><path stroke="#0066ff" d="M1243.6 180.2h0"/><path stroke="#b3ff4c" d="M1256.4 179.3h0"/><path stroke="#ccff33" d="M1258.6 179.4h0"/><path stroke="#ffe500" d="M1261.5 179.5h0"/><path stroke="#ffb300" d="M1264.0 180.1h0"/><path stroke="#ff8000" d="M1262.2 177.5h0M1273.2 177.6h0M1265.2 177.7h0M1271.4 179.7h0"/><path stroke="#ff6600" d="M1269.6 179.4h0M1266.7 179.9h0"/><path stroke="#ffff00" d="M1257.3 181.8h0"/><path stroke="#ff9900" d="M1262.6 181.5h0"/><path stroke="#ff8000" d="M1259.8 181.8h0"/><path stroke="#ff4c00" d="M1270.8 182.0h0M1272.8 182.2h0"/><path stroke="#ff3300" d="M1268.3 181.9h0M1264.8 182.0h0"/><path stroke="#b3ff4c" d="M1256.5 184.3h0"/><path stroke="#e5ff1a" d="M1258.0 186.1h0"/><path stroke="#ffcc00" d="M1258.5 183.9h0"/><path stroke="#ffb300" d="M1261.7 183.9h0"/><path stroke="#ff9900" d="M1272.3 183.8h0M1269.2 184.1h0M1259.8 186.0h0M1262.3 186.0h0"/><path stroke="#ff8000" d="M1263.6 183.8h0M1266.7 184.2h0M1265.1 186.1h0M1270.3 186.4h0"/><path stroke="#ff6600" d="M1267.6 186.1h0"/><path stroke="#ffb300" d="M1259.0 188.5h0M1264.0 188.8h0"/><path stroke="#ff4c00" d="M1271.3 188.4h0"/><path stroke="#ff3300" d="M1268.7 188.5h0"/></g>
<path class="st" d="M1038.0 96.1L1038.0 240.7M1038.0 96.1L1113.1 96.1L1115.8 96.1M1056.7 96.1L1056.7 168.0M1038.0 133.3L1056.7 133.3M1038.0 168.0L1069.4 168.0M1069.4 168.0L1069.4 200.6M1069.4 176.3L1112.1 176.3M1038.0 200.6L1116.4 200.6M1063.3 200.6L1063.3 204.5L1063.1 204.5L1063.0 239.1L1040.4 239.1L1041.0 240.7L1038.0 240.7M1063.3 204.5L1082.3 204.5L1082.3 219.6M1056.7 124.8L1104.1 124.8M1056.7 150.9L1091.8 150.9L1093.1 151.8L1095.6 152.6L1098.8 152.0L1101.4 153.1L1103.3 154.4L1104.8 155.3M1104.8 146.6L1138.0 146.6M1109.1 171.5L1134.7 171.3L1136.2 172.6L1136.7 173.1M1116.4 204.5L1144.7 204.5L1145.1 206.1L1143.4 208.5L1147.6 208.5M1112.1 176.3L1113.7 177.5L1114.7 178.4L1113.4 180.0L1114.7 181.6L1116.5 183.5L1116.4 204.5L1117.6 213.2L1117.3 226.7M1120.1 227.4L1120.1 231.4L1138.3 231.5M1120.1 231.4L1120.1 239.1L1121.0 240.5L1121.6 242.8L1123.2 245.0L1123.2 247.2L1121.9 250.9L1122.3 253.1L1121.4 256.0M1082.3 219.6L1084.2 220.9L1087.4 221.6L1089.3 222.4L1091.8 223.2L1094.4 222.9L1095.6 224.7L1098.2 224.7L1100.1 225.8L1102.0 224.3L1103.9 225.1L1105.5 226.2L1109.0 225.1L1112.1 224.9L1114.7 226.0L1117.3 226.7L1119.1 227.2L1120.1 227.4M1099.9 96.1L1100.6 102.8L1102.0 109.4L1102.6 116.0L1103.9 121.5L1104.1 124.8L1103.9 127.9L1104.8 130.6L1104.8 146.6L1104.0 149.2L1104.2 152.6L1104.8 155.3M1104.8 155.3L1105.5 157.8L1107.1 162.1L1108.2 165.4L1108.6 168.0L1108.8 170.5L1109.6 171.7L1110.5 173.8L1112.1 176.3M1115.8 96.1L1115.9 97.5L1116.6 98.8L1120.4 99.5L1124.2 99.9L1126.7 99.7L1129.9 101.4L1133.0 102.8L1136.2 105.0L1140.0 103.4L1145.1 104.7L1148.5 105.7L1142.5 109.4L1137.5 113.2L1132.4 117.4M1132.9 117.7L1131.2 118.2L1131.2 123.5L1130.8 124.1L1128.6 125.2L1127.5 127.0L1128.9 129.7L1128.3 132.4L1128.0 135.5L1129.5 137.1L1132.8 138.8L1135.2 141.7L1137.8 143.5L1138.0 146.6L1138.1 150.0L1139.0 153.1L1141.5 155.2L1143.2 156.9L1144.7 158.6L1144.4 160.8L1143.5 163.3L1139.0 164.6L1138.7 166.3L1139.7 167.5L1138.7 169.6L1136.8 171.7L1136.7 173.1L1136.2 174.6L1136.8 176.9L1137.1 178.8L1138.7 180.0L1141.1 182.5L1141.3 184.1L1142.2 185.6L1144.9 185.7L1144.6 187.5L1143.5 190.2L1144.4 191.8L1146.3 193.6L1148.7 196.0L1148.9 198.2L1151.2 200.7L1150.8 203.4L1148.9 204.5L1148.5 205.7L1147.6 208.5L1146.0 212.0L1145.1 215.2L1143.8 216.3L1142.2 218.6L1142.1 220.5L1140.0 223.2L1138.7 226.2L1138.1 228.5L1138.3 231.5L1138.7 234.6L1140.0 236.6L1138.7 239.1L1136.8 242.0L1135.6 245.0L1135.4 246.5L1147.4 246.5L1146.6 249.1L1147.9 251.6L1148.7 252.5M1141.6 155.2L1159.6 155.2M1161.4 161.5L1178.6 161.5L1178.6 162.1L1187.2 161.8M1161.3 161.5L1161.3 181.6L1160.9 183.7L1161.3 187.1L1160.0 189.4L1158.7 190.6L1158.4 192.6L1158.2 194.2M1178.5 162.1L1178.5 183.7M1205.8 171.0L1205.1 173.0L1204.9 175.1L1204.5 175.7L1203.7 178.8L1201.4 181.2L1199.2 182.3L1198.0 184.5L1195.6 185.7L1195.1 187.8L1193.5 189.2L1192.6 189.2L1192.4 188.7L1190.0 186.7L1188.1 187.6L1185.2 187.4L1182.4 186.1L1180.5 183.7L1178.5 183.7L1178.3 184.9L1178.3 186.3L1176.1 186.9L1174.8 186.7L1174.5 188.6L1172.6 190.4L1171.0 192.6L1169.1 191.4L1167.9 193.2L1166.0 192.8L1164.1 194.4L1161.1 192.8L1158.7 193.4L1158.2 194.2L1158.1 196.6L1155.5 197.2L1155.2 199.8L1154.6 200.0L1152.0 199.0L1151.2 200.7M1149.4 204.5L1157.9 204.5L1157.9 203.1L1167.9 203.4L1177.4 203.6L1185.7 203.8L1198.4 203.8M1198.4 203.8L1198.4 204.1L1235.2 204.1M1185.7 203.8L1189.4 201.8L1191.9 200.2L1194.5 198.4L1196.6 196.3L1194.5 195.2L1193.2 193.0L1192.6 191.4L1192.6 189.2M1196.6 196.3L1198.4 199.0L1201.3 198.7L1203.7 197.8L1207.1 196.6L1209.0 192.6L1211.3 187.9L1213.5 189.2L1216.2 186.4L1219.5 181.2L1222.8 183.4L1223.5 181.9M1143.8 216.3L1173.6 216.3L1181.7 216.3L1189.4 216.3M1157.1 216.3L1157.7 217.0L1155.4 239.8L1155.8 251.1M1173.6 216.3L1176.2 232.5L1177.4 236.8L1176.6 240.5L1177.4 246.5M1161.5 251.8L1161.9 250.5L1160.9 246.5L1177.4 246.5L1178.3 248.7L1195.1 249.7L1196.1 251.1L1196.7 248.0L1199.9 248.6M1189.4 216.3L1187.8 218.6L1190.7 220.5L1192.9 223.9L1195.1 226.6L1197.0 228.5L1199.5 231.5L1200.2 234.6L1202.1 238.3L1203.5 238.8M1189.4 216.3L1194.5 214.7L1202.5 215.1L1203.2 215.5L1204.1 217.6L1211.1 217.8L1218.2 225.0M1181.7 216.3L1183.4 214.2L1183.7 213.2L1186.9 211.8L1188.5 210.8L1190.7 208.9L1192.6 208.5L1196.1 207.5L1197.0 206.1L1198.3 204.9L1198.4 203.8M1205.8 178.6L1235.7 178.6M1205.8 159.7L1205.8 178.6M1210.6 157.2L1210.6 159.5L1238.5 159.5L1240.3 161.2L1240.4 162.9L1241.4 164.2L1242.6 164.9M1242.6 164.9L1241.4 166.3L1239.9 168.2L1239.5 170.5L1240.3 171.7L1241.0 173.0L1242.2 174.6L1241.4 175.6L1239.9 177.1L1238.1 177.9L1237.2 179.2L1237.2 180.4M1242.6 164.9L1247.7 168.0M1238.1 177.9L1236.9 177.6L1235.7 178.6L1235.7 188.9L1240.4 189.0M1232.4 192.3L1229.0 190.6L1228.1 190.2L1227.7 189.0L1226.2 189.4L1226.5 187.8L1227.9 185.7L1226.5 184.5L1224.9 183.7L1223.4 181.9L1222.7 179.6L1220.6 178.8L1218.9 180.0L1216.8 179.2L1215.1 180.7L1212.3 182.8L1212.3 178.6M1132.4 117.4L1132.9 117.7L1138.1 116.3L1140.6 115.5L1140.1 118.7L1143.0 119.0L1146.3 117.1L1148.9 116.4L1152.3 114.3L1153.8 112.7L1155.5 115.0L1156.5 116.0L1159.0 116.2L1162.2 119.2L1166.9 120.4L1171.2 118.1L1177.7 117.2L1177.4 119.7L1179.9 120.1L1181.5 119.7L1182.8 122.4L1183.7 124.2L1179.1 125.4L1174.2 123.5L1169.5 124.7L1167.2 127.9L1165.3 126.5L1164.4 126.5L1162.8 129.7L1160.9 132.4M1143.0 119.0L1144.9 121.1L1151.4 123.0L1154.2 124.2L1157.7 125.0L1159.3 126.5L1159.6 130.1L1160.9 132.4L1158.7 136.4L1158.4 137.5L1164.7 130.6L1162.5 135.1L1161.5 138.2L1160.6 141.3L1160.3 144.4L1159.1 150.5L1159.6 155.2L1160.9 160.8L1161.4 162.1L1163.1 162.7L1165.3 161.9L1165.8 161.5L1168.0 158.6L1169.5 156.1L1169.8 152.8L1169.5 150.0L1168.9 148.9L1167.7 145.2L1168.2 142.6L1167.8 141.6L1168.9 140.0L1169.6 136.6L1170.6 134.2L1173.9 131.5L1173.6 135.3L1175.0 132.8L1175.8 130.4L1177.7 130.0L1177.1 127.4L1179.1 126.2L1180.7 127.4L1184.3 129.2L1187.2 130.6L1187.3 132.7L1188.1 134.2L1188.1 136.4L1188.0 138.6L1187.2 140.0L1184.3 142.2L1184.7 145.2L1187.5 143.1L1188.3 142.7L1190.4 141.6L1192.3 143.5L1193.0 147.2L1193.7 150.9L1193.2 154.4L1191.0 155.6L1189.7 156.8L1189.1 159.1L1187.2 161.8L1190.0 163.3L1191.9 163.7L1194.5 164.3L1195.2 164.0L1198.3 163.7L1201.1 161.5L1204.0 160.4L1205.8 159.7L1208.4 158.2L1210.6 157.2L1213.3 155.3L1216.0 151.9L1215.1 148.6L1218.6 147.7L1224.3 148.6L1228.1 148.5L1231.2 146.8L1233.1 146.1L1233.1 143.1L1232.2 141.3L1235.7 138.2L1237.6 136.0L1241.4 133.5L1242.5 133.3L1251.2 133.2L1262.9 133.2L1265.6 130.6L1267.0 131.0L1267.3 129.5L1269.9 126.5L1270.8 124.7L1270.5 122.4L1272.1 120.4L1272.4 117.8L1272.4 144.4M1262.9 133.2L1262.6 136.9L1259.4 141.3L1258.5 144.8L1256.9 149.2L1256.2 152.2L1256.8 153.2M1251.2 133.2L1251.2 137.7L1250.9 142.2L1250.9 145.7L1251.8 146.6L1251.7 153.1L1250.2 159.1L1250.2 165.4L1248.8 167.1L1249.2 168.0M1251.7 153.1L1264.2 153.5L1266.1 152.0L1267.2 152.0M1250.2 159.1L1261.0 159.3L1263.7 159.3L1263.7 160.4L1264.0 161.4L1264.8 162.3L1265.3 163.7M1261.0 159.3L1261.0 165.3M1265.6 130.6L1265.9 137.7L1266.3 145.9L1267.2 148.7L1267.8 150.3M1272.4 144.4L1270.8 145.2L1271.1 146.0L1270.0 147.0L1269.4 147.9L1268.6 149.6L1267.8 150.3L1267.3 151.8L1267.2 152.5L1268.6 153.9L1266.8 155.2L1265.9 156.5L1266.4 157.4L1267.8 157.8L1268.3 159.9L1269.0 161.4L1270.5 161.9L1272.4 161.4L1272.4 162.3L1270.5 162.6L1268.6 163.3L1268.2 163.6L1268.5 161.7L1267.8 161.6L1266.6 162.9L1265.3 163.7L1264.8 164.0L1264.0 164.0L1263.5 161.2L1263.0 164.9L1260.7 165.3L1259.1 165.4L1254.0 165.9L1252.1 166.7L1249.9 167.7L1249.2 168.0L1248.5 169.0L1247.7 168.0L1246.7 170.5L1245.3 172.1L1247.1 172.4L1247.1 174.6L1246.6 176.7L1246.4 178.4L1245.5 180.4L1244.4 181.6L1242.6 183.7L1241.2 185.1L1241.0 183.0L1239.5 182.2L1238.2 181.2L1237.2 180.4M1246.9 171.3L1248.6 171.4L1251.5 171.1L1254.0 170.3L1256.9 169.2L1260.6 167.4L1257.8 168.0L1258.3 166.6L1255.9 168.1L1253.0 168.2L1250.2 168.5L1248.6 169.2L1248.3 169.7L1246.9 171.3M1237.2 179.6L1237.6 181.6L1238.2 183.7L1238.8 185.3L1240.1 186.1L1240.2 186.9L1240.4 189.0L1240.2 189.9L1239.2 192.4L1238.5 193.4L1236.9 196.2L1235.7 198.2L1234.6 199.6L1234.3 198.2L1234.7 196.2L1236.0 194.2L1236.7 192.7L1235.3 192.8L1235.0 191.0L1233.8 190.2L1232.5 187.8L1232.2 185.3L1233.1 182.9L1234.7 180.4L1233.9 180.0L1232.2 181.6L1231.2 182.5L1231.4 184.7L1231.0 186.9L1231.9 189.4L1232.4 192.3M1232.4 192.3L1232.9 193.5L1232.5 195.8L1232.2 197.6L1231.9 198.8L1232.5 200.6L1232.5 201.0L1234.4 201.1L1235.2 204.1L1236.0 206.9L1237.2 210.0L1237.4 214.3L1234.4 215.7L1231.0 219.3L1228.1 218.8L1225.5 220.1L1223.3 222.0L1222.0 225.1L1218.2 225.0L1216.0 226.4L1214.1 230.0L1213.2 231.5L1209.7 233.4L1206.5 235.3L1206.2 236.8L1204.6 237.9L1203.5 238.8L1202.1 241.3L1200.8 244.3L1200.2 245.7L1199.9 248.6L1200.2 250.9L1200.8 254.6L1202.7 259.7L1205.6 265.1L1205.2 267.6L1206.8 270.8L1208.4 275.5L1208.9 277.6L1208.2 284.0L1207.1 286.8L1202.1 288.7L1200.5 284.0L1197.6 281.5L1196.4 279.0L1194.8 277.2L1192.9 273.3L1191.6 271.2L1193.5 269.0L1191.1 268.3L1192.3 264.7L1191.9 261.8L1189.7 260.0L1187.5 257.5L1185.9 254.6L1182.4 253.3L1181.5 254.6L1175.2 256.2L1174.8 254.6L1172.9 252.9L1169.8 251.3L1163.4 251.4L1161.5 251.8L1160.3 252.0L1158.2 252.2L1158.4 248.8L1157.5 251.3L1155.8 251.1L1154.9 251.3L1152.7 250.9L1151.4 251.1L1149.8 251.6L1148.7 252.5L1147.6 253.5L1149.5 254.2L1150.8 254.9L1149.5 257.5L1150.4 258.6L1151.7 259.7L1151.2 261.2L1149.5 261.6L1149.2 259.3L1147.3 258.9L1145.7 259.3L1144.4 260.5L1141.6 260.8L1139.4 260.8L1137.5 258.9L1137.1 257.5L1134.0 257.5L1132.4 256.8L1131.1 257.3L1126.7 255.7L1124.5 255.6L1121.4 256.0L1117.8 257.5L1115.6 258.9L1115.3 255.7L1113.4 261.1L1112.1 261.6L1108.0 264.0L1105.2 265.8L1102.3 268.0L1101.0 269.8L1099.1 273.7L1099.5 278.3L1100.1 281.8L1100.4 282.8M1100.4 282.8L1098.2 283.3L1094.4 282.2L1089.9 279.9L1087.6 278.7L1087.0 276.2L1085.5 271.9L1081.7 266.9L1079.2 263.3L1076.6 258.6L1073.5 255.7L1072.5 255.3L1069.4 255.3L1067.1 255.5L1065.2 256.4L1064.3 258.6L1062.4 261.3L1060.2 260.2L1058.5 259.2L1054.7 257.0L1052.6 253.8L1051.3 249.8L1048.1 247.6L1044.3 243.5L1041.2 240.8"/>
<path class="st" style="stroke-width:3.3" d="M1237.2 213.9L1234.4 216.3L1231.2 218.6L1228.1 219.0L1224.3 221.6"/>
<path class="st" style="stroke-width:1.6" d="M1206.2 288.2L1207.8 292.4L1209.0 295.5"/>
<path class="st" style="stroke-width:1.6" d="M1104.5 264.0L1103.9 261.1L1103.4 258.2"/>
<path class="st" style="stroke-width:1.5" d="M1098.2 273.0L1094.4 273.0L1089.9 272.3"/>
<path class="st" style="stroke-width:3.3" d="M1099.5 270.5L1098.7 275.5L1099.8 281.1"/>
<path class="st" style="stroke-width:4.6" d="M1246.7 171.1L1252.1 169.2L1257.2 167.5L1260.4 166.3"/>
<path class="st" style="stroke-width:4.2" d="M1260.4 165.4L1264.2 163.7L1267.3 162.9L1272.4 162.1"/>
<path class="st" style="stroke-width:3.6" d="M1247.1 172.6L1246.4 177.9L1244.2 181.6L1241.4 184.9"/>
<path class="st" style="stroke-width:3.3" d="M1100.1 270.5L1103.9 265.8L1109.0 263.3L1114.0 259.7L1115.9 257.5"/>
<path class="st" style="stroke-width:3.3" d="M1124.8 255.7L1131.1 256.8L1135.6 257.1L1139.4 259.3L1143.8 259.7"/>
<path class="st" style="stroke-width:4.2" d="M1191.6 268.3L1192.6 271.9L1195.1 276.9L1196.4 279.0"/>
<path class="st" style="stroke-width:3.5" d="M1200.2 247.2L1201.4 242.0L1204.0 237.6L1207.8 234.6L1211.6 231.9L1214.1 229.3"/>
<path class="st" style="stroke-width:3.6" d="M1148.9 251.6L1154.6 250.9L1158.4 250.5L1162.2 250.9"/>
<circle cx="1185.3" cy="143.8" r="2.2" fill="#000"/><circle cx="1173.9" cy="133.5" r="1.7" fill="#000"/><circle cx="1160.0" cy="134.6" r="1.3" fill="#000"/><circle cx="1233.4" cy="144.4" r="1.4" fill="#000"/><circle cx="1191.9" cy="155.6" r="1.3" fill="#000"/><polyline points="1227.8,185.0 1223.8,186.5 1221.3,185.5" fill="none" stroke="#000" stroke-width="1.6" stroke-linejoin="round" stroke-linecap="round"/>
<polyline points="1228.3,190.6 1224.3,191.6 1222.3,194.1" fill="none" stroke="#000" stroke-width="1.6" stroke-linejoin="round" stroke-linecap="round"/>
<polyline points="1228.8,182.0 1225.8,181.0 1224.3,182.5" fill="none" stroke="#000" stroke-width="1.6" stroke-linejoin="round" stroke-linecap="round"/>
<polyline points="1231.3,216.2 1225.8,219.6 1220.8,222.5" fill="none" stroke="#000" stroke-width="1.6" stroke-linejoin="round" stroke-linecap="round"/>
<polyline points="1228.3,214.2 1225.3,213.7 1222.4,208.5" fill="none" stroke="#000" stroke-width="1.6" stroke-linejoin="round" stroke-linecap="round"/>
<polyline points="1227.3,215.7 1223.8,217.2 1220.6,217.7" fill="none" stroke="#000" stroke-width="1.6" stroke-linejoin="round" stroke-linecap="round"/>
<polyline points="1228.8,212.2 1224.8,210.2 1222.8,205.7" fill="none" stroke="#000" stroke-width="1.6" stroke-linejoin="round" stroke-linecap="round"/>
<polygon points="1227.0,187.5 1228.3,182.2 1231.8,180.0 1235.4,178.8 1238.5,179.7 1240.1,178.2 1241.2,181.0 1240.5,185.0 1240.9,188.8 1239.8,191.3 1236.3,198.1 1234.5,201.1 1236.3,206.7 1238.8,214.6 1236.0,212.0 1233.9,214.6 1231.0,216.7 1228.3,214.7 1230.3,211.7 1229.1,210.4 1227.8,205.5 1229.1,199.3 1225.0,196.7 1228.4,193.3" fill="#000" stroke="#000" stroke-width="1" stroke-linejoin="round"/>
<polygon points="1143.0,251.2 1146.6,249.6 1149.7,251.7 1151.0,257.2 1154.5,264.3 1149.7,260.1 1146.6,261.4 1142.2,263.2 1141.8,259.6 1139.4,257.4 1141.8,256.0 1143.8,253.4" fill="#000" stroke="#000" stroke-width="1" stroke-linejoin="round"/>
<text class="b" x="1058.3" y="74.7" font-size="12.6" text-anchor="start">100<tspan dy="-11.1" dx="2.3" font-size="5.6">o</tspan><tspan dy="11.1" dx="4.35">W</tspan></text>
<text class="b" x="1127.4" y="74.7" font-size="12.6" text-anchor="start">90<tspan dy="-11.1" dx="2.3" font-size="5.6">o</tspan><tspan dy="11.1" dx="4.35">W</tspan></text>
<text class="b" x="1191.6" y="74.7" font-size="12.6" text-anchor="start">80<tspan dy="-11.1" dx="2.3" font-size="5.6">o</tspan><tspan dy="11.1" dx="4.35">W</tspan></text>
<text class="b" x="1255.4" y="74.7" font-size="12.6" text-anchor="start">70<tspan dy="-11.1" dx="2.3" font-size="5.6">o</tspan><tspan dy="11.1" dx="4.35">W</tspan></text>
<text class="b" x="988.0" y="111.6" font-size="12.6" text-anchor="start">48<tspan dy="-11.1" dx="2.3" font-size="5.6">o</tspan><tspan dy="11.1" dx="4.35">N</tspan></text>
<text class="b" x="988.0" y="130.1" font-size="12.6" text-anchor="start">46<tspan dy="-11.1" dx="2.3" font-size="5.6">o</tspan><tspan dy="11.1" dx="4.35">N</tspan></text>
<text class="b" x="988.0" y="147.3" font-size="12.6" text-anchor="start">44<tspan dy="-11.1" dx="2.3" font-size="5.6">o</tspan><tspan dy="11.1" dx="4.35">N</tspan></text>
<text class="b" x="988.0" y="166.0" font-size="12.6" text-anchor="start">42<tspan dy="-11.1" dx="2.3" font-size="5.6">o</tspan><tspan dy="11.1" dx="4.35">N</tspan></text>
<text class="b" x="988.0" y="182.5" font-size="12.6" text-anchor="start">40<tspan dy="-11.1" dx="2.3" font-size="5.6">o</tspan><tspan dy="11.1" dx="4.35">N</tspan></text>
<text class="b" x="988.0" y="198.0" font-size="12.6" text-anchor="start">38<tspan dy="-11.1" dx="2.3" font-size="5.6">o</tspan><tspan dy="11.1" dx="4.35">N</tspan></text>
<text class="b" x="988.0" y="214.7" font-size="12.6" text-anchor="start">36<tspan dy="-11.1" dx="2.3" font-size="5.6">o</tspan><tspan dy="11.1" dx="4.35">N</tspan></text>
<text class="b" x="988.0" y="229.0" font-size="12.6" text-anchor="start">34<tspan dy="-11.1" dx="2.3" font-size="5.6">o</tspan><tspan dy="11.1" dx="4.35">N</tspan></text>
<text class="b" x="988.0" y="246.2" font-size="12.6" text-anchor="start">32<tspan dy="-11.1" dx="2.3" font-size="5.6">o</tspan><tspan dy="11.1" dx="4.35">N</tspan></text>
<text class="b" x="988.0" y="260.5" font-size="12.6" text-anchor="start">30<tspan dy="-11.1" dx="2.3" font-size="5.6">o</tspan><tspan dy="11.1" dx="4.35">N</tspan></text>
<text class="b" x="988.0" y="273.1" font-size="12.6" text-anchor="start">28<tspan dy="-11.1" dx="2.3" font-size="5.6">o</tspan><tspan dy="11.1" dx="4.35">N</tspan></text>
<text class="b" x="988.0" y="287.9" font-size="12.6" text-anchor="start">26<tspan dy="-11.1" dx="2.3" font-size="5.6">o</tspan><tspan dy="11.1" dx="4.35">N</tspan></text>
<text class="b" x="988.0" y="302.6" font-size="12.6" text-anchor="start">24<tspan dy="-11.1" dx="2.3" font-size="5.6">o</tspan><tspan dy="11.1" dx="4.35">N</tspan></text>
<text class="b" x="988.0" y="314.8" font-size="12.6" text-anchor="start">22<tspan dy="-11.1" dx="2.3" font-size="5.6">o</tspan><tspan dy="11.1" dx="4.35">N</tspan></text>
<text class="b" x="1034.9" y="341.9" font-size="23" textLength="230.0" lengthAdjust="spacing">Cloud Press (hPa)</text>
<rect x="1285.1" y="93.3" width="23.7" height="219.4" fill="url(#jet)" stroke="#262626" stroke-width="0.8"/>
<line x1="1306.3" x2="1308.8" y1="93.2" y2="93.2" stroke="#262626" stroke-width="0.8"/><text class="b" x="1317.0" y="100.8" font-size="20.8">1000</text>
<line x1="1306.3" x2="1308.8" y1="142.0" y2="142.0" stroke="#262626" stroke-width="0.8"/><text class="b" x="1317.0" y="149.6" font-size="20.8">800</text>
<line x1="1306.3" x2="1308.8" y1="190.6" y2="190.6" stroke="#262626" stroke-width="0.8"/><text class="b" x="1317.0" y="198.2" font-size="20.8">600</text>
<line x1="1306.3" x2="1308.8" y1="239.2" y2="239.2" stroke="#262626" stroke-width="0.8"/><text class="b" x="1317.0" y="246.8" font-size="20.8">400</text>
<line x1="1306.3" x2="1308.8" y1="288.0" y2="288.0" stroke="#262626" stroke-width="0.8"/><text class="b" x="1317.0" y="295.6" font-size="20.8">200</text>
</g>
<g id="panel4">
<rect x="196.5" y="486.5" width="233.0" height="213.0" fill="none" stroke="#1a1a1a" stroke-width="1.1"/>
<g fill="none" stroke-linecap="round" stroke-width="8.0"><path stroke="#00ccff" d="M420.1 488.8h0M368.4 488.9h0M365.2 489.0h0"/><path stroke="#00e5ff" d="M413.8 487.5h0M417.8 489.5h0"/><path stroke="#00ffff" d="M366.8 487.4h0M418.7 487.5h0M414.5 489.4h0"/><path stroke="#1affe5" d="M411.1 487.4h0M415.9 487.5h0M412.6 489.3h0M376.1 489.5h0M373.1 489.7h0"/><path stroke="#33ffcc" d="M371.1 489.3h0M409.3 489.6h0"/><path stroke="#4dffb2" d="M378.0 489.0h0"/><path stroke="#66ff99" d="M394.5 489.4h0M381.4 489.7h0"/><path stroke="#80ff80" d="M395.2 487.3h0M398.0 487.4h0M386.6 489.3h0M383.8 489.6h0"/><path stroke="#99ff66" d="M407.5 488.8h0M399.4 488.8h0M391.9 488.8h0M397.0 488.9h0M389.0 489.0h0"/><path stroke="#b3ff4c" d="M404.9 489.0h0"/><path stroke="#e5ff1a" d="M403.4 487.1h0M402.0 489.3h0"/><path stroke="#00e5ff" d="M364.5 491.7h0"/><path stroke="#00ffff" d="M369.6 491.5h0"/><path stroke="#1affe5" d="M366.6 491.6h0"/><path stroke="#33ffcc" d="M416.6 491.1h0M418.9 491.8h0M371.7 491.9h0"/><path stroke="#4dffb2" d="M410.6 491.6h0M413.6 492.0h0"/><path stroke="#66ff99" d="M377.3 491.6h0M374.8 492.0h0"/><path stroke="#80ff80" d="M385.1 491.5h0"/><path stroke="#99ff66" d="M389.8 491.1h0M380.2 491.5h0M395.2 491.6h0M408.6 491.8h0"/><path stroke="#b3ff4c" d="M398.1 491.1h0M393.1 491.2h0M387.8 491.4h0M382.1 491.9h0"/><path stroke="#ccff33" d="M403.0 491.3h0"/><path stroke="#e5ff1a" d="M401.0 491.2h0M405.3 492.0h0"/><path stroke="#0099ff" d="M362.6 494.2h0"/><path stroke="#00e5ff" d="M370.3 493.4h0"/><path stroke="#00ffff" d="M373.1 493.4h0M368.5 493.5h0M365.7 494.0h0"/><path stroke="#1affe5" d="M417.5 493.4h0M364.4 495.6h0M371.8 496.1h0"/><path stroke="#33ffcc" d="M414.7 494.1h0M412.4 494.2h0"/><path stroke="#4dffb2" d="M409.3 494.1h0M414.0 495.8h0M366.4 495.9h0"/><path stroke="#66ff99" d="M376.3 493.6h0M389.2 493.8h0M386.3 493.8h0M391.1 494.1h0"/><path stroke="#80ff80" d="M396.5 493.7h0M407.1 493.7h0M393.9 494.0h0M383.7 494.0h0M378.6 494.0h0M398.8 494.1h0M381.5 494.2h0M392.8 495.6h0"/><path stroke="#99ff66" d="M402.3 493.4h0M404.8 494.1h0M377.5 495.8h0"/><path stroke="#b3ff4c" d="M382.0 495.5h0M385.4 495.8h0"/><path stroke="#ccff33" d="M400.2 495.6h0M405.7 495.6h0"/><path stroke="#e5ff1a" d="M398.2 495.6h0"/><path stroke="#0099ff" d="M361.7 496.1h0"/><path stroke="#00ffff" d="M362.7 498.5h0"/><path stroke="#1affe5" d="M369.6 496.3h0M416.3 496.4h0M367.8 497.8h0"/><path stroke="#33ffcc" d="M410.7 496.4h0"/><path stroke="#4dffb2" d="M408.3 496.5h0M373.2 497.8h0M415.2 498.0h0M410.1 498.0h0M365.1 498.1h0M412.3 498.3h0M324.8 498.8h0"/><path stroke="#66ff99" d="M371.0 498.5h0"/><path stroke="#80ff80" d="M390.0 496.1h0M395.1 496.4h0M374.5 496.5h0M381.0 497.9h0M376.1 498.2h0"/><path stroke="#99ff66" d="M380.0 496.2h0M391.5 498.0h0M385.9 498.1h0M378.3 498.2h0M383.9 498.5h0"/><path stroke="#b3ff4c" d="M387.5 496.2h0M396.2 498.2h0M389.2 498.3h0M407.2 498.3h0M394.1 498.4h0"/><path stroke="#ccff33" d="M398.9 497.8h0"/><path stroke="#e5ff1a" d="M404.6 497.9h0M401.6 498.2h0"/><path stroke="#ffff00" d="M403.6 496.2h0"/><path stroke="#0066ff" d="M346.7 501.1h0"/><path stroke="#0080ff" d="M319.2 499.7h0M330.4 499.7h0M362.0 500.0h0"/><path stroke="#00ccff" d="M363.9 500.5h0"/><path stroke="#00ffff" d="M369.5 500.5h0M366.3 500.7h0M413.9 500.8h0"/><path stroke="#1affe5" d="M372.1 500.1h0M410.8 500.7h0"/><path stroke="#33ffcc" d="M408.1 500.5h0"/><path stroke="#4dffb2" d="M374.2 500.1h0M377.0 500.4h0M390.2 500.6h0M385.2 500.6h0M381.9 501.0h0"/><path stroke="#66ff99" d="M379.8 500.1h0M392.9 500.2h0M405.6 500.3h0M387.3 500.4h0M395.5 500.6h0"/><path stroke="#80ff80" d="M403.1 500.4h0"/><path stroke="#99ff66" d="M398.0 500.2h0"/><path stroke="#b3ff4c" d="M400.7 500.8h0"/><path stroke="#0080ff" d="M342.8 502.7h0"/><path stroke="#00b2ff" d="M425.7 503.0h0"/><path stroke="#00ccff" d="M359.8 502.6h0"/><path stroke="#1affe5" d="M362.8 503.0h0M364.0 504.7h0"/><path stroke="#33ffcc" d="M366.7 504.9h0"/><path stroke="#4dffb2" d="M365.8 502.6h0M409.9 502.6h0M407.9 505.1h0"/><path stroke="#66ff99" d="M380.8 502.6h0M368.4 502.7h0M412.5 503.1h0M370.2 503.2h0M377.6 504.6h0"/><path stroke="#80ff80" d="M386.0 502.5h0M389.2 502.6h0M373.7 503.1h0M391.4 503.1h0M387.3 504.5h0M405.5 504.6h0M385.0 504.8h0M374.7 505.0h0M379.4 505.0h0M403.5 505.1h0"/><path stroke="#99ff66" d="M394.4 502.3h0M399.0 502.4h0M396.9 502.7h0M378.5 502.9h0M384.0 502.9h0M401.6 503.0h0M375.8 503.0h0M407.3 503.2h0M398.1 504.9h0"/><path stroke="#b3ff4c" d="M404.6 503.3h0"/><path stroke="#0019ff" d="M344.9 506.7h0"/><path stroke="#004dff" d="M340.8 508.1h0"/><path stroke="#0080ff" d="M426.4 505.2h0M426.2 507.5h0"/><path stroke="#0099ff" d="M359.9 507.2h0"/><path stroke="#00e5ff" d="M362.7 507.4h0"/><path stroke="#00ffff" d="M361.4 505.2h0M326.5 506.9h0M331.6 507.1h0M328.9 507.3h0"/><path stroke="#1affe5" d="M370.8 506.8h0M367.8 507.1h0M365.1 507.3h0M372.8 507.7h0M407.3 507.8h0"/><path stroke="#33ffcc" d="M411.3 505.3h0M321.5 507.1h0M409.6 507.3h0"/><path stroke="#4dffb2" d="M369.7 505.2h0M376.2 506.8h0M383.6 507.2h0M386.1 507.4h0M323.6 507.5h0M396.2 507.5h0"/><path stroke="#66ff99" d="M372.3 505.3h0M393.2 505.3h0M322.9 505.4h0M382.4 505.4h0M390.2 505.4h0M380.7 506.8h0M394.0 507.1h0M388.5 507.3h0M404.0 507.5h0M391.7 507.5h0M378.2 507.6h0"/><path stroke="#80ff80" d="M400.7 505.1h0M399.4 507.3h0M401.4 507.5h0"/><path stroke="#99ff66" d="M395.6 505.5h0"/><path stroke="#0099ff" d="M426.8 509.2h0"/><path stroke="#00e5ff" d="M333.3 509.2h0M335.8 509.6h0M329.9 509.9h0"/><path stroke="#1affe5" d="M359.4 509.4h0"/><path stroke="#33ffcc" d="M327.5 509.1h0M361.8 509.4h0"/><path stroke="#4dffb2" d="M382.8 509.2h0M366.6 509.3h0"/><path stroke="#66ff99" d="M387.6 509.2h0M384.9 509.2h0M364.3 509.4h0M371.9 509.5h0M392.8 509.5h0M374.5 509.6h0M324.7 509.6h0M408.1 509.7h0M380.0 509.9h0M390.0 510.0h0"/><path stroke="#80ff80" d="M406.1 509.2h0M322.4 509.3h0M395.2 509.4h0M398.0 509.6h0M400.5 509.6h0M402.8 509.7h0M377.5 509.9h0M369.4 510.0h0"/><path stroke="#004dff" d="M343.0 512.3h0"/><path stroke="#0066ff" d="M427.5 511.5h0"/><path stroke="#0080ff" d="M425.6 511.6h0"/><path stroke="#0099ff" d="M339.4 512.5h0M340.3 514.0h0"/><path stroke="#00b2ff" d="M339.6 511.6h0M336.9 512.2h0M333.9 512.3h0"/><path stroke="#00ccff" d="M332.0 511.4h0M330.4 514.1h0"/><path stroke="#00ffff" d="M328.7 511.4h0M327.3 513.7h0"/><path stroke="#1affe5" d="M326.7 512.0h0M405.5 513.8h0"/><path stroke="#33ffcc" d="M400.6 513.7h0"/><path stroke="#4dffb2" d="M380.8 511.7h0M373.4 511.9h0M384.0 512.0h0M401.6 512.0h0M404.2 512.1h0M398.9 512.1h0M391.6 512.1h0M375.6 512.1h0M369.6 513.7h0M398.0 513.8h0M366.5 513.8h0M376.7 513.8h0M395.4 513.9h0M402.7 513.9h0M385.4 514.0h0"/><path stroke="#66ff99" d="M365.7 511.4h0M370.6 511.9h0M386.0 512.0h0M407.4 512.2h0M393.0 513.7h0M371.5 513.8h0M356.4 513.8h0"/><path stroke="#80ff80" d="M388.5 511.4h0M394.0 511.4h0M396.4 511.5h0M378.7 511.6h0M323.9 511.6h0M368.0 511.8h0M321.6 512.1h0M325.5 513.8h0"/><path stroke="#99ff66" d="M357.9 512.1h0M363.8 513.7h0"/><path stroke="#b3ff4c" d="M360.4 511.9h0M362.9 512.2h0"/><path stroke="#ffff00" d="M361.4 513.7h0"/><path stroke="#0033ff" d="M425.7 515.9h0"/><path stroke="#004dff" d="M426.4 514.5h0"/><path stroke="#0066ff" d="M427.5 516.1h0"/><path stroke="#0099ff" d="M339.7 515.9h0M331.7 516.3h0"/><path stroke="#00b2ff" d="M332.8 514.2h0M335.6 514.3h0M336.6 516.3h0M328.8 516.6h0"/><path stroke="#00ccff" d="M333.8 515.9h0"/><path stroke="#00e5ff" d="M338.4 514.4h0"/><path stroke="#1affe5" d="M326.6 516.3h0M407.3 516.7h0"/><path stroke="#33ffcc" d="M379.6 514.5h0M383.6 516.2h0M399.2 516.6h0M381.5 516.7h0M365.8 516.8h0"/><path stroke="#4dffb2" d="M382.8 514.3h0M389.0 515.9h0M404.5 516.4h0M378.4 516.5h0M376.3 516.5h0M396.7 516.5h0M402.0 516.6h0"/><path stroke="#66ff99" d="M374.7 514.1h0M387.5 514.3h0M390.3 514.3h0M370.7 516.2h0M367.9 516.3h0M393.9 516.3h0M386.7 516.5h0M373.5 516.7h0M391.3 516.8h0"/><path stroke="#80ff80" d="M321.3 516.8h0"/><path stroke="#99ff66" d="M322.5 514.5h0"/><path stroke="#ccff33" d="M362.6 515.9h0M357.8 516.0h0M323.5 516.8h0"/><path stroke="#ffe500" d="M358.8 514.4h0M360.1 516.5h0"/><path stroke="#0033ff" d="M426.5 518.8h0"/><path stroke="#0066ff" d="M423.5 518.5h0M338.3 519.0h0"/><path stroke="#0080ff" d="M335.4 518.6h0M340.7 518.7h0"/><path stroke="#0099ff" d="M330.5 518.3h0"/><path stroke="#00b2ff" d="M333.3 518.7h0"/><path stroke="#00ffff" d="M402.9 518.4h0"/><path stroke="#1affe5" d="M393.2 518.2h0M382.0 518.2h0M408.0 518.4h0M400.5 518.5h0M355.9 518.7h0M374.8 518.8h0M384.9 518.8h0"/><path stroke="#33ffcc" d="M388.0 518.3h0M379.8 518.4h0M389.7 518.4h0M327.5 518.6h0M376.8 518.8h0M405.7 518.8h0M369.5 518.9h0"/><path stroke="#4dffb2" d="M371.8 518.8h0M398.0 518.9h0M395.7 519.0h0M367.2 519.0h0"/><path stroke="#66ff99" d="M364.4 518.5h0"/><path stroke="#99ff66" d="M359.2 518.3h0M361.2 518.9h0"/><path stroke="#e5ff1a" d="M322.3 518.3h0M324.7 518.6h0"/><path stroke="#0019ff" d="M427.9 520.3h0"/><path stroke="#004dff" d="M424.8 520.4h0M339.1 521.1h0"/><path stroke="#0066ff" d="M337.3 520.6h0M334.0 520.8h0M342.1 520.9h0M429.0 522.7h0M426.5 522.7h0M337.9 522.9h0"/><path stroke="#0080ff" d="M422.9 520.9h0M332.6 522.9h0M340.7 523.1h0"/><path stroke="#0099ff" d="M331.8 520.3h0"/><path stroke="#00b2ff" d="M423.9 522.6h0M353.6 522.7h0M330.3 523.1h0"/><path stroke="#00ccff" d="M355.1 520.8h0"/><path stroke="#00e5ff" d="M329.5 521.1h0M327.6 522.8h0M421.3 523.0h0M408.6 523.1h0"/><path stroke="#1affe5" d="M406.7 520.5h0M404.4 520.7h0M380.6 520.8h0M378.9 520.9h0M356.4 522.9h0"/><path stroke="#33ffcc" d="M357.3 520.5h0M383.8 520.6h0M375.5 520.8h0M391.5 520.9h0M402.2 521.3h0M379.8 522.8h0"/><path stroke="#4dffb2" d="M389.3 520.4h0M373.2 520.6h0M386.5 521.0h0M382.7 522.6h0M376.9 522.7h0M387.2 522.8h0M405.5 522.9h0"/><path stroke="#66ff99" d="M370.2 520.4h0M365.5 520.4h0M326.8 520.7h0M393.6 521.1h0M367.8 521.1h0M368.9 522.6h0M358.5 522.8h0M374.8 523.0h0"/><path stroke="#80ff80" d="M360.1 520.5h0M362.9 520.6h0M399.3 520.9h0M371.8 522.8h0M392.5 523.1h0"/><path stroke="#99ff66" d="M397.1 521.2h0M400.9 522.7h0"/><path stroke="#e5ff1a" d="M398.0 523.0h0"/><path stroke="#ffe500" d="M322.9 522.6h0"/><path stroke="#ffb300" d="M323.5 521.2h0"/><path stroke="#0019ff" d="M337.0 524.9h0M427.9 524.9h0"/><path stroke="#0033ff" d="M333.8 525.5h0"/><path stroke="#004dff" d="M335.8 523.4h0M339.4 524.8h0"/><path stroke="#0066ff" d="M425.0 525.0h0"/><path stroke="#0080ff" d="M332.0 525.0h0"/><path stroke="#0099ff" d="M326.7 524.8h0M414.8 525.1h0M355.4 525.2h0M412.5 525.4h0M409.2 525.6h0"/><path stroke="#00b2ff" d="M417.8 525.4h0M329.1 525.5h0M342.5 525.5h0M422.7 525.7h0M420.2 525.8h0"/><path stroke="#00ccff" d="M410.9 523.3h0"/><path stroke="#00ffff" d="M383.9 524.8h0M407.4 525.5h0M378.9 525.6h0"/><path stroke="#1affe5" d="M376.0 524.8h0M381.5 525.0h0M324.3 525.4h0M404.6 525.4h0M373.5 525.5h0M388.8 525.7h0M386.3 525.8h0"/><path stroke="#33ffcc" d="M357.3 525.8h0"/><path stroke="#4dffb2" d="M384.6 523.4h0M365.4 525.1h0M391.8 525.5h0"/><path stroke="#66ff99" d="M403.6 523.2h0M390.2 523.3h0M362.9 524.9h0M402.0 524.9h0M321.7 525.4h0M393.9 525.4h0M370.7 525.4h0M367.8 525.6h0"/><path stroke="#80ff80" d="M366.6 523.2h0M324.7 523.4h0M361.5 523.4h0M359.8 525.4h0"/><path stroke="#99ff66" d="M364.1 523.1h0M396.4 525.6h0"/><path stroke="#b3ff4c" d="M395.0 523.4h0"/><path stroke="#ccff33" d="M399.3 524.9h0"/><path stroke="#004dff" d="M335.6 527.7h0"/><path stroke="#0066ff" d="M332.6 527.1h0M426.5 527.4h0M338.0 528.0h0"/><path stroke="#0080ff" d="M341.2 527.4h0"/><path stroke="#0099ff" d="M353.5 527.5h0M410.5 528.0h0M413.0 528.0h0"/><path stroke="#00b2ff" d="M329.8 527.3h0M416.3 527.4h0M423.9 527.5h0"/><path stroke="#00ccff" d="M327.9 527.4h0M419.2 527.8h0"/><path stroke="#00e5ff" d="M408.2 527.2h0M421.7 527.8h0"/><path stroke="#00ffff" d="M356.2 527.4h0M325.4 527.4h0M380.2 527.7h0"/><path stroke="#1affe5" d="M382.3 527.2h0M384.5 527.4h0"/><path stroke="#33ffcc" d="M377.5 527.2h0M359.1 527.9h0"/><path stroke="#4dffb2" d="M405.8 527.1h0M374.1 527.4h0M387.7 527.4h0"/><path stroke="#66ff99" d="M390.5 527.2h0M361.8 527.2h0M369.1 527.4h0M371.6 527.5h0M403.0 527.5h0M366.7 527.6h0M364.3 527.8h0"/><path stroke="#80ff80" d="M322.3 527.3h0M393.0 527.3h0"/><path stroke="#99ff66" d="M400.8 528.0h0"/><path stroke="#b3ff4c" d="M394.9 527.4h0M398.2 528.0h0"/><path stroke="#004dff" d="M337.2 529.8h0M379.4 531.6h0"/><path stroke="#0066ff" d="M425.1 529.7h0M351.6 532.0h0M376.7 532.1h0"/><path stroke="#0080ff" d="M352.1 529.5h0M339.6 529.5h0M331.2 529.6h0M428.1 529.6h0M378.0 529.7h0M341.8 529.9h0M414.5 530.0h0M334.6 530.2h0M354.1 531.6h0M333.3 532.0h0"/><path stroke="#0099ff" d="M380.9 529.5h0M354.6 529.7h0M412.2 530.0h0M343.5 531.6h0M410.7 531.7h0M428.7 531.8h0M335.3 531.8h0M338.4 531.8h0M415.8 532.0h0M413.3 532.1h0"/><path stroke="#00b2ff" d="M376.3 529.3h0M422.9 529.5h0M420.0 529.7h0M328.6 529.8h0M409.2 530.0h0M426.8 531.7h0M341.1 531.8h0M424.4 532.1h0"/><path stroke="#00ccff" d="M326.2 529.7h0M417.9 530.3h0M330.7 531.6h0"/><path stroke="#00e5ff" d="M407.4 529.8h0M384.0 530.2h0M374.3 531.8h0M327.4 531.8h0"/><path stroke="#00ffff" d="M372.9 529.7h0M357.3 529.7h0"/><path stroke="#1affe5" d="M370.6 529.3h0M323.9 529.6h0M404.4 530.0h0M403.1 532.0h0M405.9 532.1h0"/><path stroke="#33ffcc" d="M368.0 529.4h0"/><path stroke="#4dffb2" d="M401.7 529.4h0M386.3 529.5h0M359.9 529.6h0M388.4 529.8h0M385.3 532.0h0"/><path stroke="#66ff99" d="M365.4 529.4h0M363.2 529.8h0M391.5 530.2h0"/><path stroke="#80ff80" d="M393.7 529.4h0M399.2 530.3h0M389.7 531.7h0M361.4 531.9h0"/><path stroke="#99ff66" d="M396.2 529.7h0"/><path stroke="#b3ff4c" d="M393.0 531.6h0M395.8 531.6h0M398.2 531.8h0M400.2 532.0h0"/><path stroke="#0019ff" d="M377.9 533.9h0"/><path stroke="#0033ff" d="M381.0 534.3h0"/><path stroke="#0066ff" d="M350.3 533.9h0M376.1 534.4h0"/><path stroke="#0080ff" d="M334.4 534.1h0M352.4 534.4h0M339.6 534.5h0"/><path stroke="#0099ff" d="M382.7 532.3h0M412.7 534.1h0M342.0 534.2h0M428.0 534.4h0M414.8 534.4h0M355.1 534.5h0M336.4 534.5h0"/><path stroke="#00b2ff" d="M418.6 532.4h0M383.5 534.1h0M326.0 534.1h0M417.5 534.3h0M344.2 534.4h0M409.4 534.5h0"/><path stroke="#00ccff" d="M421.4 532.2h0M419.8 533.8h0M425.3 534.0h0M422.4 534.3h0M328.9 534.5h0"/><path stroke="#00e5ff" d="M331.4 534.8h0"/><path stroke="#00ffff" d="M408.4 532.2h0M404.2 534.6h0M407.0 534.7h0"/><path stroke="#1affe5" d="M369.7 532.2h0M356.7 532.2h0M368.1 534.4h0M372.9 534.5h0"/><path stroke="#33ffcc" d="M371.8 532.2h0M366.5 532.2h0M324.8 532.4h0M402.2 533.9h0M370.8 534.1h0M324.3 534.1h0M365.5 534.6h0"/><path stroke="#4dffb2" d="M358.5 532.3h0"/><path stroke="#66ff99" d="M364.5 532.2h0"/><path stroke="#80ff80" d="M388.0 532.3h0M358.1 533.9h0M386.1 534.3h0"/><path stroke="#99ff66" d="M362.4 533.9h0M391.4 534.4h0M360.1 534.5h0M388.5 534.6h0"/><path stroke="#b3ff4c" d="M322.8 532.5h0M394.4 533.9h0"/><path stroke="#ccff33" d="M396.6 534.1h0M399.0 534.5h0"/><path stroke="#0000ff" d="M379.6 536.6h0"/><path stroke="#0019ff" d="M377.3 536.4h0"/><path stroke="#0033ff" d="M351.1 536.5h0"/><path stroke="#004dff" d="M353.3 536.6h0"/><path stroke="#0066ff" d="M343.6 536.6h0M348.3 536.6h0M340.9 536.8h0"/><path stroke="#0080ff" d="M413.8 536.1h0M335.1 536.2h0M338.4 536.3h0M411.2 536.4h0M382.5 536.9h0"/><path stroke="#0099ff" d="M419.1 536.2h0M345.6 536.3h0M426.3 536.4h0M333.0 536.5h0M329.9 536.6h0"/><path stroke="#00b2ff" d="M356.3 536.1h0M423.8 536.1h0M421.2 536.2h0M374.3 536.4h0M416.5 537.0h0"/><path stroke="#00ccff" d="M407.9 536.7h0M325.5 536.8h0M327.8 536.9h0"/><path stroke="#00e5ff" d="M372.4 536.3h0M406.2 536.3h0"/><path stroke="#00ffff" d="M385.2 536.1h0M366.7 536.4h0"/><path stroke="#1affe5" d="M402.7 536.2h0M368.9 536.8h0M364.3 537.0h0"/><path stroke="#33ffcc" d="M358.7 536.7h0"/><path stroke="#4dffb2" d="M401.0 536.2h0M387.8 536.8h0M362.0 536.9h0"/><path stroke="#66ff99" d="M389.9 536.3h0M392.5 536.9h0"/><path stroke="#99ff66" d="M397.7 536.3h0M395.2 536.6h0"/><path stroke="#0080ff" d="M343.5 540.8h0M338.2 541.0h0"/><path stroke="#0099ff" d="M352.5 538.4h0M339.1 538.7h0M330.2 540.6h0M353.7 540.7h0M361.1 540.7h0M408.7 540.8h0M420.9 540.8h0M359.2 540.9h0"/><path stroke="#00b2ff" d="M427.8 538.5h0M414.6 538.5h0M347.0 538.8h0M345.1 538.8h0M419.9 538.9h0M422.8 538.9h0M417.1 539.2h0M364.1 540.6h0M419.1 540.6h0M426.1 540.6h0M410.6 540.7h0M424.3 540.7h0M413.8 540.9h0M327.6 540.9h0M405.8 541.0h0M345.5 541.0h0"/><path stroke="#00ccff" d="M336.4 538.4h0M350.1 538.6h0M334.6 538.9h0M354.7 538.9h0"/><path stroke="#00e5ff" d="M409.4 538.4h0M380.6 538.7h0M424.9 538.8h0M412.3 539.1h0M357.5 539.1h0M342.5 539.1h0M331.9 539.2h0M407.5 539.3h0M325.2 540.6h0M366.3 541.0h0M371.9 541.1h0"/><path stroke="#00ffff" d="M378.4 538.5h0M328.8 539.3h0M403.4 540.7h0M374.1 540.7h0M400.1 541.1h0"/><path stroke="#1affe5" d="M375.4 538.4h0M370.7 538.8h0M373.6 538.9h0M363.0 539.0h0M367.7 539.0h0M398.4 540.8h0M395.4 541.1h0"/><path stroke="#33ffcc" d="M360.3 538.4h0M326.0 538.7h0M401.8 538.7h0M365.7 538.7h0M404.6 538.9h0M324.1 538.9h0M385.1 541.1h0"/><path stroke="#4dffb2" d="M384.1 538.7h0M385.8 538.8h0M377.2 540.8h0M380.1 541.1h0"/><path stroke="#66ff99" d="M399.1 539.1h0M392.7 540.8h0"/><path stroke="#80ff80" d="M387.8 540.8h0"/><path stroke="#99ff66" d="M396.8 538.9h0M393.6 539.0h0M391.5 539.1h0M388.9 539.1h0"/><path stroke="#0099ff" d="M335.9 541.2h0M351.1 541.3h0M340.4 541.4h0M342.1 542.8h0M427.7 542.9h0M349.9 542.9h0M420.0 543.1h0M358.1 543.3h0M355.4 543.5h0M406.6 543.5h0M425.0 543.5h0M362.7 543.7h0M328.7 543.7h0M339.0 543.8h0"/><path stroke="#00b2ff" d="M348.9 541.2h0M416.2 541.2h0M356.1 541.4h0M333.4 541.5h0M344.3 542.8h0M412.2 542.8h0M352.4 542.9h0M409.9 543.1h0M422.3 543.4h0M346.8 543.5h0M417.1 543.5h0M326.8 543.7h0"/><path stroke="#00ccff" d="M369.6 541.4h0M415.0 542.9h0M404.0 543.0h0M336.9 543.2h0M332.1 543.4h0M334.4 543.5h0M360.7 543.6h0"/><path stroke="#00e5ff" d="M370.3 543.8h0"/><path stroke="#00ffff" d="M365.7 543.3h0M368.2 543.6h0"/><path stroke="#1affe5" d="M397.0 542.9h0M373.6 543.3h0M324.1 543.4h0M402.3 543.6h0"/><path stroke="#33ffcc" d="M399.2 543.3h0"/><path stroke="#4dffb2" d="M383.4 543.2h0M393.6 543.4h0"/><path stroke="#66ff99" d="M390.2 541.4h0M382.2 541.5h0M391.8 542.8h0M385.9 542.9h0M388.4 543.3h0M375.8 543.4h0"/><path stroke="#80ff80" d="M378.7 543.6h0"/><path stroke="#99ff66" d="M381.2 543.2h0"/><path stroke="#0080ff" d="M343.7 545.1h0M348.5 545.2h0M354.0 545.3h0M341.0 545.4h0M415.8 545.4h0M361.7 545.9h0"/><path stroke="#0099ff" d="M406.1 545.1h0M335.7 545.5h0M408.6 545.5h0M330.6 545.6h0M338.3 545.7h0M413.7 545.8h0M356.3 545.8h0M332.5 545.9h0M346.4 546.0h0M410.8 546.1h0"/><path stroke="#00b2ff" d="M328.0 545.2h0M418.3 545.5h0M363.9 545.5h0M325.5 545.6h0M351.5 545.8h0M421.0 545.8h0M423.9 545.9h0M358.5 546.0h0"/><path stroke="#00ccff" d="M369.7 545.2h0M403.3 545.3h0M426.2 545.5h0"/><path stroke="#00e5ff" d="M371.8 545.2h0M366.5 545.5h0"/><path stroke="#00ffff" d="M395.7 545.6h0M374.2 545.7h0"/><path stroke="#1affe5" d="M401.0 545.3h0"/><path stroke="#33ffcc" d="M397.8 545.2h0M376.9 545.3h0"/><path stroke="#4dffb2" d="M382.8 545.4h0M380.2 545.8h0M387.4 546.0h0"/><path stroke="#66ff99" d="M385.0 545.1h0M392.3 545.1h0M390.5 545.4h0"/><path stroke="#0080ff" d="M339.0 548.1h0"/><path stroke="#0099ff" d="M359.9 547.4h0M352.2 547.7h0M349.6 547.9h0M357.2 548.0h0M336.5 548.1h0M334.5 548.2h0M344.4 548.3h0M342.5 548.3h0M333.2 549.9h0M324.7 550.0h0"/><path stroke="#00b2ff" d="M347.5 547.5h0M414.4 547.7h0M328.6 547.8h0M324.2 547.8h0M326.3 548.0h0M425.0 548.2h0M331.3 548.2h0M346.2 549.7h0M350.9 549.9h0"/><path stroke="#00ccff" d="M420.2 547.3h0M406.7 547.6h0M422.5 547.7h0M355.0 547.8h0M417.6 548.2h0M348.5 549.6h0M343.0 550.0h0"/><path stroke="#00e5ff" d="M404.3 547.4h0M409.6 547.5h0M412.7 547.7h0M402.3 547.9h0M428.0 547.9h0M365.9 548.0h0M368.4 548.1h0M363.2 548.2h0M356.4 549.8h0"/><path stroke="#00ffff" d="M371.0 547.7h0M364.5 549.6h0M421.7 549.7h0M424.1 549.9h0M400.1 550.0h0M361.6 550.0h0M418.4 550.1h0"/><path stroke="#1affe5" d="M373.4 548.0h0M396.4 548.1h0M410.8 549.6h0M374.2 549.7h0M408.1 549.9h0"/><path stroke="#33ffcc" d="M398.8 547.3h0M375.6 547.4h0M394.0 547.6h0M371.5 549.6h0M403.3 549.8h0"/><path stroke="#4dffb2" d="M383.4 547.6h0M378.4 547.9h0M381.2 548.1h0M386.4 548.2h0M395.0 549.8h0M413.3 549.9h0"/><path stroke="#80ff80" d="M391.9 547.5h0M389.1 548.0h0M385.0 549.6h0"/><path stroke="#0099ff" d="M330.6 550.2h0M335.4 550.2h0M327.6 550.4h0M326.2 551.9h0M334.5 552.0h0M339.8 552.3h0"/><path stroke="#00b2ff" d="M337.8 550.3h0M331.4 552.0h0M329.3 552.0h0M337.2 552.4h0M352.1 552.5h0M342.5 552.6h0"/><path stroke="#00ccff" d="M340.5 550.4h0M350.2 552.0h0M355.4 552.1h0M344.4 552.2h0"/><path stroke="#00e5ff" d="M358.7 550.1h0M353.6 550.2h0M347.5 552.0h0"/><path stroke="#00ffff" d="M405.6 550.5h0M401.6 552.3h0M357.5 552.6h0M404.3 552.6h0M360.1 552.6h0"/><path stroke="#1affe5" d="M416.3 550.2h0M398.2 550.4h0M366.6 550.5h0M365.6 551.9h0M370.3 552.2h0M420.2 552.6h0"/><path stroke="#33ffcc" d="M376.7 550.3h0M369.2 550.4h0M382.1 550.5h0M367.9 551.8h0M396.6 551.8h0M406.6 551.9h0M363.3 552.0h0M409.5 552.1h0M417.7 552.4h0M412.1 552.5h0M398.8 552.5h0"/><path stroke="#4dffb2" d="M383.7 552.3h0M373.4 552.3h0M380.7 552.3h0M378.4 552.4h0M414.5 552.5h0"/><path stroke="#66ff99" d="M392.4 550.2h0M390.3 550.2h0M380.2 550.2h0M375.6 552.3h0M393.7 552.6h0M386.5 552.8h0"/><path stroke="#80ff80" d="M387.8 550.1h0M388.4 552.4h0"/><path stroke="#99ff66" d="M391.8 552.6h0"/><path stroke="#0080ff" d="M327.7 554.2h0M330.8 554.3h0M343.4 554.4h0"/><path stroke="#0099ff" d="M333.4 554.3h0M341.2 554.8h0"/><path stroke="#00b2ff" d="M349.0 554.2h0M338.5 554.4h0M335.1 554.5h0M359.4 554.8h0M356.8 554.9h0M350.8 554.9h0M346.4 555.0h0"/><path stroke="#00ccff" d="M353.8 554.8h0"/><path stroke="#00ffff" d="M402.8 554.1h0M361.3 554.4h0M371.7 554.4h0M405.2 554.6h0M397.8 554.8h0M363.8 554.8h0M400.3 555.0h0"/><path stroke="#1affe5" d="M374.5 554.5h0M369.3 554.6h0M408.5 554.7h0"/><path stroke="#33ffcc" d="M410.5 554.5h0M380.1 554.6h0M413.9 554.8h0M395.7 555.0h0M367.2 555.1h0"/><path stroke="#4dffb2" d="M382.1 554.1h0M387.8 554.8h0M376.8 554.9h0"/><path stroke="#66ff99" d="M385.0 554.4h0M390.0 554.9h0M415.7 555.0h0"/><path stroke="#80ff80" d="M392.8 554.7h0"/><path stroke="#0099ff" d="M329.1 556.8h0"/><path stroke="#00b2ff" d="M339.1 556.4h0M341.9 556.5h0M335.6 558.9h0"/><path stroke="#00ccff" d="M331.5 556.8h0M337.0 556.9h0M345.0 556.9h0M334.2 557.1h0M346.3 558.8h0M338.4 558.9h0M353.8 559.0h0M348.4 559.0h0"/><path stroke="#00e5ff" d="M357.8 556.9h0M346.9 557.0h0M358.5 558.8h0M356.5 559.0h0M405.3 559.1h0"/><path stroke="#00ffff" d="M349.9 556.4h0M352.8 556.6h0M355.3 556.6h0M360.2 557.0h0M402.9 559.1h0"/><path stroke="#1affe5" d="M362.6 556.9h0M407.1 557.0h0M402.2 557.0h0M401.0 559.0h0"/><path stroke="#33ffcc" d="M399.2 556.8h0M404.7 557.0h0M371.1 557.3h0M395.8 558.9h0"/><path stroke="#4dffb2" d="M396.5 556.7h0M365.5 557.0h0M368.2 557.1h0M367.2 558.6h0M397.7 558.7h0M372.3 559.0h0M374.6 559.1h0"/><path stroke="#66ff99" d="M381.3 556.4h0M409.7 556.4h0M378.9 556.7h0M376.3 556.7h0M373.1 556.9h0M394.0 557.1h0M413.8 558.6h0"/><path stroke="#80ff80" d="M412.5 556.4h0M383.5 556.6h0M382.4 558.6h0M380.0 558.9h0M410.9 559.1h0"/><path stroke="#99ff66" d="M386.7 556.7h0M414.7 556.8h0M389.2 557.2h0M384.6 558.6h0"/><path stroke="#b3ff4c" d="M391.1 556.9h0"/><path stroke="#0066ff" d="M331.6 561.0h0"/><path stroke="#0099ff" d="M332.8 559.5h0M330.8 559.5h0M337.0 561.2h0M339.9 561.2h0M344.9 561.2h0"/><path stroke="#00b2ff" d="M341.2 559.5h0M355.4 561.0h0M360.7 561.0h0M342.4 561.1h0M334.2 561.4h0"/><path stroke="#00ccff" d="M343.1 559.2h0M352.8 560.9h0M346.8 561.2h0M406.7 561.2h0M358.1 561.7h0M349.7 561.7h0"/><path stroke="#00e5ff" d="M351.0 559.4h0M404.1 561.0h0"/><path stroke="#00ffff" d="M399.1 561.4h0M365.6 561.7h0M362.7 561.7h0M401.7 561.8h0"/><path stroke="#1affe5" d="M361.6 559.2h0M370.5 561.3h0M394.3 561.4h0M368.3 561.8h0"/><path stroke="#33ffcc" d="M408.6 559.3h0M364.0 559.5h0M369.7 559.5h0"/><path stroke="#4dffb2" d="M396.3 561.3h0M376.0 561.3h0M373.4 561.4h0M378.1 561.5h0"/><path stroke="#66ff99" d="M393.1 559.5h0M381.4 560.9h0M391.1 561.0h0M412.5 561.3h0"/><path stroke="#80ff80" d="M377.2 559.2h0M410.1 561.0h0"/><path stroke="#99ff66" d="M390.0 559.3h0M383.8 561.0h0"/><path stroke="#b3ff4c" d="M386.5 561.2h0"/><path stroke="#ccff33" d="M387.2 559.4h0M388.6 561.0h0"/><path stroke="#0099ff" d="M335.5 563.1h0M333.3 563.3h0M338.0 563.5h0"/><path stroke="#00ccff" d="M354.0 563.1h0M340.9 563.5h0M346.4 563.5h0M359.4 563.8h0M348.3 563.9h0"/><path stroke="#00e5ff" d="M351.0 563.2h0M405.7 563.3h0M343.6 563.3h0M402.9 563.6h0M356.1 563.8h0M361.2 563.8h0"/><path stroke="#00ffff" d="M400.7 564.0h0"/><path stroke="#1affe5" d="M363.8 563.7h0M408.1 563.7h0M397.5 563.9h0"/><path stroke="#33ffcc" d="M371.8 563.5h0M369.8 563.6h0M366.7 564.0h0"/><path stroke="#4dffb2" d="M375.0 563.1h0"/><path stroke="#66ff99" d="M393.0 563.1h0M395.3 563.2h0M377.1 564.1h0"/><path stroke="#80ff80" d="M384.6 563.5h0M379.4 563.9h0M411.3 564.0h0"/><path stroke="#99ff66" d="M382.1 563.5h0"/><path stroke="#b3ff4c" d="M413.3 563.5h0"/><path stroke="#ccff33" d="M390.6 563.5h0"/><path stroke="#e5ff1a" d="M387.1 563.8h0"/><path stroke="#0066ff" d="M333.9 565.4h0"/><path stroke="#0080ff" d="M339.5 565.6h0M342.3 566.0h0M335.4 567.8h0"/><path stroke="#0099ff" d="M337.1 565.7h0M349.5 566.0h0M401.0 567.7h0"/><path stroke="#00b2ff" d="M344.3 565.7h0M360.3 565.9h0M355.3 566.0h0M347.7 566.1h0M357.2 566.2h0M351.3 567.7h0M348.2 567.8h0M353.3 568.0h0M346.0 568.0h0"/><path stroke="#00ccff" d="M399.0 565.5h0M352.9 565.9h0M356.6 567.6h0"/><path stroke="#00e5ff" d="M404.5 565.7h0M363.0 565.8h0M401.8 565.8h0M406.9 565.9h0M358.7 567.6h0M367.0 567.6h0M369.6 567.6h0M364.2 567.9h0"/><path stroke="#00ffff" d="M367.7 565.5h0M365.5 565.8h0M373.1 566.2h0"/><path stroke="#1affe5" d="M396.7 565.3h0M376.0 565.9h0M394.0 566.0h0M370.2 566.3h0M393.1 568.0h0"/><path stroke="#33ffcc" d="M378.5 566.0h0M385.3 567.8h0M390.4 568.0h0"/><path stroke="#4dffb2" d="M381.0 565.4h0M409.6 566.2h0M388.0 567.8h0M382.7 567.9h0M411.0 568.0h0"/><path stroke="#66ff99" d="M389.0 565.5h0M412.6 565.6h0M383.5 565.9h0M391.8 566.2h0M408.1 567.7h0M413.4 567.7h0"/><path stroke="#80ff80" d="M414.9 565.5h0M386.5 566.0h0"/><path stroke="#0066ff" d="M339.8 570.0h0M398.9 570.8h0"/><path stroke="#0080ff" d="M334.0 569.9h0M402.0 570.0h0M341.7 570.2h0"/><path stroke="#0099ff" d="M338.6 568.3h0M340.5 568.3h0M345.1 570.0h0M336.6 570.6h0"/><path stroke="#00b2ff" d="M342.9 568.2h0M397.8 568.5h0M349.4 569.9h0M404.4 570.0h0M347.7 570.1h0M352.9 570.3h0M360.7 570.5h0M396.8 570.7h0"/><path stroke="#00ccff" d="M402.9 568.2h0M372.2 568.2h0M361.5 568.6h0M370.4 569.9h0M365.7 570.0h0M354.6 570.1h0M357.6 570.3h0M368.3 570.3h0M378.6 570.4h0M362.5 570.6h0"/><path stroke="#00e5ff" d="M376.9 568.3h0M394.4 570.1h0M373.1 570.3h0M376.1 570.5h0"/><path stroke="#00ffff" d="M405.3 568.3h0M394.9 568.4h0M374.3 568.6h0"/><path stroke="#1affe5" d="M381.0 570.1h0"/><path stroke="#33ffcc" d="M380.0 568.6h0M383.9 570.2h0M386.2 570.3h0M388.7 570.5h0M391.4 570.6h0"/><path stroke="#80ff80" d="M407.1 569.9h0"/><path stroke="#99ff66" d="M410.1 569.8h0M412.4 570.0h0M415.0 570.2h0"/><path stroke="#0099ff" d="M400.4 572.5h0M335.3 572.8h0"/><path stroke="#00b2ff" d="M403.4 572.6h0M338.3 573.0h0"/><path stroke="#00ccff" d="M343.7 572.1h0M345.8 572.4h0M348.4 572.5h0M397.6 572.9h0M340.7 572.9h0"/><path stroke="#00e5ff" d="M350.8 572.3h0M371.5 572.6h0M354.1 572.8h0"/><path stroke="#00ffff" d="M369.3 572.1h0M376.9 572.2h0M395.6 572.2h0M361.1 572.5h0M358.9 572.6h0M364.6 572.7h0M374.1 572.9h0"/><path stroke="#1affe5" d="M356.3 572.2h0M366.6 572.8h0"/><path stroke="#33ffcc" d="M380.2 572.3h0M393.1 572.7h0M382.7 573.0h0"/><path stroke="#4dffb2" d="M385.4 572.3h0M390.1 572.5h0M387.2 572.8h0M405.4 572.8h0"/><path stroke="#b3ff4c" d="M408.5 572.9h0"/><path stroke="#ccff33" d="M413.9 572.3h0M410.7 572.8h0"/><path stroke="#0080ff" d="M340.7 576.9h0"/><path stroke="#0099ff" d="M346.3 576.7h0M343.5 577.0h0M348.6 577.1h0"/><path stroke="#00b2ff" d="M341.9 575.0h0M336.5 575.2h0M350.9 576.8h0"/><path stroke="#00ccff" d="M352.8 574.4h0M402.1 574.7h0M349.9 574.8h0M339.8 575.0h0M344.3 575.1h0M359.4 576.6h0M361.5 576.9h0"/><path stroke="#00e5ff" d="M373.0 574.5h0M357.5 574.8h0M347.3 575.1h0M380.2 576.6h0M369.3 576.7h0M372.4 577.0h0M366.9 577.1h0"/><path stroke="#00ffff" d="M375.4 574.4h0M360.5 574.6h0M362.6 574.8h0M354.6 575.0h0M378.5 575.0h0M399.6 575.3h0M368.2 575.3h0"/><path stroke="#1affe5" d="M404.2 574.4h0M365.0 574.7h0M370.7 575.2h0M384.9 577.0h0"/><path stroke="#33ffcc" d="M396.3 575.1h0M381.9 576.6h0M398.4 576.9h0"/><path stroke="#4dffb2" d="M393.7 574.4h0M383.9 574.6h0M391.1 574.7h0M381.4 575.2h0M388.4 575.3h0M392.4 576.7h0"/><path stroke="#66ff99" d="M386.4 574.7h0M405.8 576.8h0"/><path stroke="#80ff80" d="M410.5 576.8h0"/><path stroke="#b3ff4c" d="M406.7 575.2h0M410.0 575.2h0"/><path stroke="#ccff33" d="M412.2 574.8h0"/><path stroke="#0066ff" d="M342.4 579.3h0"/><path stroke="#0080ff" d="M344.7 578.9h0M339.8 579.2h0"/><path stroke="#0099ff" d="M337.8 577.4h0M352.8 579.0h0M347.7 579.1h0"/><path stroke="#00b2ff" d="M353.9 577.5h0M350.2 579.7h0"/><path stroke="#00ccff" d="M364.0 577.3h0M356.3 577.4h0M357.5 579.1h0M355.2 579.3h0M362.7 579.3h0M365.9 579.6h0"/><path stroke="#00e5ff" d="M375.5 578.9h0M360.7 578.9h0"/><path stroke="#00ffff" d="M377.6 577.1h0M374.8 577.4h0M373.6 578.9h0M367.6 579.0h0M370.8 579.5h0M378.0 579.5h0M381.0 579.7h0"/><path stroke="#1affe5" d="M390.4 577.1h0M395.0 577.2h0M387.3 577.2h0M384.0 579.4h0"/><path stroke="#33ffcc" d="M386.0 578.9h0M389.3 579.2h0M394.2 579.5h0"/><path stroke="#4dffb2" d="M403.4 577.3h0M400.9 577.4h0M391.4 578.9h0"/><path stroke="#80ff80" d="M408.1 577.5h0M406.7 579.5h0"/><path stroke="#99ff66" d="M396.7 579.1h0M404.9 579.2h0M410.0 579.3h0"/><path stroke="#ccff33" d="M401.5 579.0h0"/><path stroke="#e5ff1a" d="M399.1 579.3h0"/><path stroke="#0099ff" d="M340.6 581.3h0M346.4 582.0h0"/><path stroke="#00b2ff" d="M348.9 581.5h0M343.1 581.6h0M354.0 582.0h0"/><path stroke="#00ccff" d="M351.1 581.2h0M366.7 581.7h0M362.0 581.9h0"/><path stroke="#00e5ff" d="M372.2 581.3h0M356.5 581.5h0M358.9 581.8h0"/><path stroke="#00ffff" d="M363.7 581.4h0"/><path stroke="#1affe5" d="M377.2 581.2h0M382.1 581.2h0M369.5 581.3h0M374.9 582.0h0"/><path stroke="#33ffcc" d="M379.3 581.9h0"/><path stroke="#4dffb2" d="M387.8 581.5h0M384.7 581.5h0M390.4 581.8h0M393.0 581.9h0"/><path stroke="#80ff80" d="M395.6 582.1h0"/><path stroke="#ccff33" d="M405.7 581.7h0"/><path stroke="#e5ff1a" d="M402.8 581.1h0"/><path stroke="#ffff00" d="M397.5 581.1h0M400.4 581.5h0"/><path stroke="#0099ff" d="M342.2 584.1h0"/><path stroke="#00b2ff" d="M347.6 583.7h0M345.1 584.3h0M345.8 586.0h0"/><path stroke="#00ccff" d="M349.4 583.6h0M354.8 583.6h0M358.1 584.3h0M348.9 585.7h0M366.6 585.8h0M356.6 586.1h0"/><path stroke="#00e5ff" d="M362.7 583.5h0M352.3 584.3h0M371.9 585.6h0M364.1 586.1h0"/><path stroke="#00ffff" d="M370.9 583.5h0M365.1 583.7h0M375.8 583.8h0M360.2 583.9h0M374.2 586.0h0"/><path stroke="#1affe5" d="M378.2 583.8h0M367.9 583.9h0M377.2 585.9h0"/><path stroke="#33ffcc" d="M373.1 583.4h0M391.3 583.8h0M380.6 584.2h0M380.1 586.0h0"/><path stroke="#4dffb2" d="M388.5 583.5h0M393.9 583.7h0M383.8 584.2h0M390.3 585.6h0"/><path stroke="#66ff99" d="M385.8 584.0h0"/><path stroke="#ccff33" d="M396.9 583.6h0"/><path stroke="#0066ff" d="M344.6 588.2h0"/><path stroke="#0080ff" d="M355.4 588.0h0M342.5 588.1h0"/><path stroke="#0099ff" d="M343.5 586.5h0M351.0 586.6h0M357.8 588.0h0M352.8 588.0h0M349.6 588.0h0M347.7 588.5h0"/><path stroke="#00b2ff" d="M358.9 586.4h0M353.7 586.4h0M362.4 587.9h0M365.9 588.1h0M360.3 588.6h0"/><path stroke="#00e5ff" d="M369.2 586.5h0M361.9 586.5h0M373.0 588.0h0M375.8 588.4h0M370.8 588.4h0M368.0 588.5h0"/><path stroke="#00ffff" d="M383.9 588.0h0M378.8 588.3h0"/><path stroke="#1affe5" d="M382.4 586.3h0M384.8 586.3h0M387.1 586.4h0M381.2 588.8h0"/><path stroke="#0066ff" d="M348.2 590.7h0"/><path stroke="#0080ff" d="M346.1 590.9h0"/><path stroke="#0099ff" d="M351.1 590.5h0M356.1 590.6h0"/><path stroke="#00b2ff" d="M354.2 590.2h0M358.6 590.9h0"/><path stroke="#00ccff" d="M361.9 590.5h0M369.5 590.9h0"/><path stroke="#00e5ff" d="M367.1 590.2h0M364.6 590.3h0M371.9 590.3h0M374.8 590.6h0"/><path stroke="#0080ff" d="M346.0 595.1h0"/><path stroke="#0099ff" d="M349.8 593.1h0M344.9 593.3h0"/><path stroke="#00b2ff" d="M355.2 592.4h0M357.2 592.5h0M347.0 592.8h0M352.6 592.9h0M348.6 594.7h0M351.5 594.8h0"/><path stroke="#00ccff" d="M360.3 592.6h0"/><path stroke="#00e5ff" d="M368.2 592.7h0M362.7 592.8h0"/><path stroke="#1affe5" d="M365.4 592.9h0"/><path stroke="#0099ff" d="M354.2 595.4h0M346.8 597.2h0M349.7 597.5h0"/><path stroke="#00b2ff" d="M358.6 595.5h0M356.6 595.5h0"/></g>
<path class="st" d="M196.2 486.5L196.2 630.1M196.2 486.5L270.9 486.5L273.6 486.5M214.8 486.5L214.8 557.9M196.2 523.4L214.8 523.4M196.2 557.9L227.4 557.9M227.4 557.9L227.4 590.3M227.4 566.2L269.9 566.2M196.2 590.3L274.3 590.3M221.4 590.3L221.4 594.2L221.2 594.2L221.0 628.5L198.6 628.5L199.2 630.1L196.2 630.1M221.4 594.2L240.3 594.2L240.3 609.2M214.8 515.0L262.0 515.0M214.8 540.9L249.8 540.9L251.1 541.8L253.6 542.7L256.7 542.1L259.3 543.1L261.1 544.4L262.7 545.3M262.7 536.6L295.7 536.6M267.0 561.4L292.5 561.2L293.9 562.5L294.4 563.0M274.3 594.2L302.4 594.2L302.8 595.8L301.1 598.1L305.3 598.1M269.9 566.2L271.5 567.4L272.5 568.2L271.2 569.9L272.5 571.5L274.3 573.4L274.3 594.2L275.5 602.9L275.1 616.2M277.9 616.9L277.9 620.9L296.0 621.1M277.9 620.9L277.9 628.5L278.8 630.0L279.4 632.2L281.0 634.4L281.0 636.6L279.7 640.3L280.1 642.5L279.2 645.4M240.3 609.2L242.2 610.5L245.4 611.2L247.3 612.0L249.8 612.7L252.3 612.5L253.6 614.3L256.1 614.3L258.0 615.4L259.9 613.9L261.8 614.6L263.4 615.8L266.8 614.6L270.0 614.4L272.5 615.6L275.1 616.2L276.9 616.8L277.9 616.9M257.8 486.5L258.5 493.2L259.9 499.7L260.5 506.2L261.8 511.7L262.0 515.0L261.8 518.1L262.7 520.8L262.7 536.6L261.9 539.2L262.1 542.7L262.7 545.3M262.7 545.3L263.4 547.8L264.9 552.0L266.1 555.4L266.5 557.9L266.6 560.4L267.5 561.6L268.4 563.7L269.9 566.2M273.6 486.5L273.8 487.9L274.4 489.2L278.2 489.8L282.0 490.3L284.5 490.0L287.6 491.7L290.8 493.2L293.9 495.3L297.7 493.7L302.8 495.1L306.2 496.0L300.2 499.7L295.2 503.5L290.2 507.6M290.7 508.0L289.0 508.4L289.0 513.7L288.6 514.3L286.4 515.4L285.3 517.2L286.7 519.9L286.1 522.6L285.7 525.7L287.3 527.3L290.6 528.9L293.0 531.8L295.5 533.6L295.7 536.6L295.8 540.1L296.8 543.1L299.2 545.2L300.9 546.9L302.4 548.6L302.1 550.8L301.2 553.3L296.8 554.5L296.5 556.2L297.4 557.5L296.5 559.6L294.6 561.6L294.4 563.0L293.9 564.5L294.6 566.7L294.8 568.6L296.5 569.9L298.8 572.3L299.0 573.9L299.9 575.4L302.6 575.5L302.3 577.3L301.2 580.0L302.1 581.6L304.0 583.3L306.4 585.8L306.5 587.9L308.9 590.5L308.4 593.1L306.5 594.2L306.2 595.4L305.3 598.1L303.7 601.6L302.8 604.9L301.5 605.9L299.9 608.2L299.8 610.1L297.7 612.7L296.5 615.8L295.8 618.0L296.0 621.1L296.5 624.0L297.7 626.1L296.5 628.5L294.6 631.5L293.3 634.4L293.1 635.9L305.1 635.9L304.3 638.5L305.6 641.0L306.4 641.9M299.4 545.2L317.3 545.2M319.0 551.5L336.2 551.5L336.2 552.0L344.7 551.8M319.0 551.5L319.0 571.5L318.5 573.5L319.0 576.9L317.6 579.2L316.3 580.4L316.0 582.4L315.8 584.0M336.1 552.0L336.1 573.5M363.2 560.9L362.5 562.9L362.3 564.9L361.9 565.6L361.1 568.6L358.9 571.1L356.7 572.1L355.4 574.3L353.0 575.5L352.6 577.6L351.0 579.0L350.1 579.0L349.9 578.5L347.5 576.5L345.6 577.4L342.7 577.2L340.0 575.9L338.1 573.5L336.1 573.5L335.9 574.7L335.9 576.1L333.7 576.8L332.4 576.5L332.1 578.4L330.2 580.2L328.6 582.4L326.7 581.2L325.5 583.0L323.6 582.5L321.7 584.1L318.7 582.6L316.3 583.2L315.8 584.0L315.7 586.3L313.2 587.0L312.9 589.5L312.2 589.7L309.7 588.7L308.9 590.5M307.0 594.2L315.6 594.2L315.6 592.8L325.5 593.1L334.9 593.3L343.2 593.4L355.9 593.5M355.9 593.5L355.9 593.8L392.5 593.8M343.2 593.4L346.9 591.5L349.4 589.9L351.9 588.2L354.0 586.0L351.9 584.9L350.7 582.8L350.1 581.2L350.1 579.0M354.0 586.0L355.9 588.7L358.7 588.4L361.1 587.5L364.6 586.3L366.4 582.4L368.7 577.7L370.9 579.0L373.6 576.2L376.8 571.1L380.1 573.3L380.8 571.7M301.5 605.9L331.1 605.9L339.2 605.9L346.9 605.9M314.7 605.9L315.4 606.6L313.0 629.3L313.5 640.5M331.1 605.9L333.8 622.0L334.9 626.3L334.2 630.0L334.9 635.9M319.2 641.2L319.5 639.9L318.5 635.9L334.9 635.9L335.8 638.1L352.6 639.1L353.5 640.5L354.2 637.4L357.3 638.0M346.9 605.9L345.3 608.2L348.2 610.1L350.4 613.5L352.6 616.2L354.5 618.0L357.0 621.1L357.6 624.0L359.5 627.8L360.9 628.3M346.9 605.9L351.9 604.3L359.9 604.7L360.6 605.1L361.5 607.2L368.5 607.4L375.6 614.6M339.2 605.9L340.9 603.8L341.2 602.8L344.4 601.5L346.0 600.5L348.2 598.5L350.1 598.1L353.5 597.2L354.5 595.8L355.7 594.6L355.9 593.5M363.2 568.5L393.0 568.5M363.2 549.7L363.2 568.5M368.0 547.2L368.0 549.5L395.8 549.5L397.5 551.2L397.7 552.9L398.6 554.1L399.9 554.9M399.9 554.9L398.6 556.2L397.2 558.1L396.7 560.4L397.5 561.6L398.3 562.9L399.4 564.5L398.6 565.5L397.2 567.0L395.3 567.8L394.5 569.0L394.5 570.3M399.9 554.9L404.9 557.9M395.3 567.8L394.2 567.5L393.0 568.5L393.0 578.7L397.7 578.8M389.6 582.0L386.3 580.4L385.4 580.0L385.0 578.8L383.5 579.2L383.8 577.6L385.2 575.5L383.8 574.3L382.2 573.5L380.8 571.7L380.0 569.4L377.9 568.6L376.2 569.9L374.2 569.0L372.4 570.5L369.7 572.6L369.7 568.5M290.2 507.6L290.7 508.0L295.8 506.6L298.3 505.8L297.8 509.0L300.7 509.3L304.0 507.3L306.5 506.7L310.0 504.6L311.5 503.0L313.2 505.3L314.1 506.2L316.6 506.4L319.8 509.5L324.5 510.6L328.7 508.4L335.2 507.4L334.9 509.9L337.4 510.4L339.0 509.9L340.3 512.6L341.2 514.5L336.7 515.6L331.8 513.7L327.0 514.9L324.8 518.1L322.9 516.7L322.0 516.7L320.4 519.9L318.5 522.6M300.7 509.3L302.6 511.4L309.1 513.2L311.9 514.5L315.4 515.2L316.9 516.7L317.3 520.3L318.5 522.6L316.3 526.5L316.0 527.6L322.3 520.8L320.1 525.2L319.2 528.3L318.2 531.4L317.9 534.5L316.8 540.5L317.3 545.2L318.5 550.8L319.0 552.0L320.7 552.7L322.9 551.9L323.4 551.5L325.6 548.6L327.0 546.1L327.4 542.8L327.0 540.1L326.5 539.0L325.3 535.3L325.8 532.7L325.4 531.7L326.5 530.1L327.2 526.7L328.2 524.3L331.5 521.7L331.1 525.5L332.5 523.0L333.3 520.6L335.2 520.1L334.6 517.6L336.6 516.5L338.3 517.6L341.9 519.4L344.7 520.8L344.8 522.9L345.6 524.3L345.6 526.5L345.4 528.8L344.7 530.1L341.9 532.3L342.2 535.3L345.0 533.1L345.8 532.8L347.8 531.7L349.7 533.6L350.4 537.2L351.2 540.9L350.7 544.4L348.5 545.7L347.2 546.8L346.6 549.1L344.7 551.8L347.5 553.3L349.4 553.7L351.9 554.3L352.7 554.0L355.7 553.7L358.6 551.5L361.4 550.3L363.2 549.7L365.8 548.2L368.0 547.2L370.7 545.3L373.4 542.0L372.4 538.7L375.9 537.8L381.6 538.6L385.4 538.5L388.5 536.9L390.4 536.2L390.4 533.1L389.5 531.4L392.9 528.3L394.8 526.1L398.6 523.6L399.7 523.4L408.4 523.4L420.0 523.4L422.7 520.8L424.1 521.2L424.5 519.7L427.0 516.7L427.9 514.9L427.6 512.6L429.2 510.6L429.5 508.1L429.5 534.5M420.0 523.4L419.7 527.0L416.6 531.4L415.6 534.9L414.1 539.2L413.4 542.2L414.0 543.3M408.4 523.4L408.4 527.9L408.1 532.3L408.1 535.8L409.0 536.6L408.9 543.1L407.4 549.1L407.4 555.4L406.0 557.1L406.4 558.0M408.9 543.1L421.3 543.5L423.2 542.1L424.3 542.1M407.4 549.1L418.2 549.3L420.8 549.3L420.8 550.3L421.1 551.3L421.9 552.3L422.4 553.7M418.2 549.3L418.2 555.2M422.7 520.8L423.0 527.9L423.4 536.0L424.3 538.8L424.9 540.3M429.5 534.5L427.9 535.3L428.2 536.1L427.1 537.1L426.5 537.9L425.7 539.7L424.9 540.3L424.5 541.8L424.3 542.5L425.7 544.0L424.0 545.2L423.0 546.5L423.5 547.4L425.0 547.8L425.4 549.9L426.2 551.3L427.6 551.9L429.5 551.3L429.5 552.3L427.6 552.6L425.7 553.3L425.3 553.5L425.6 551.7L425.0 551.6L423.7 552.9L422.4 553.7L421.9 554.0L421.1 554.0L420.7 551.2L420.2 554.9L417.8 555.2L416.3 555.4L411.2 555.8L409.3 556.6L407.1 557.6L406.4 558.0L405.7 558.9L404.9 557.9L404.0 560.4L402.6 562.0L404.3 562.3L404.3 564.5L403.8 566.6L403.6 568.2L402.7 570.3L401.6 571.4L399.9 573.5L398.4 574.9L398.3 572.9L396.7 572.1L395.5 571.1L394.5 570.3M404.1 561.2L405.9 561.3L408.7 561.0L411.2 560.2L414.1 559.1L417.8 557.3L415.0 557.9L415.4 556.6L413.1 558.1L410.1 558.1L407.4 558.5L405.9 559.1L405.5 559.6L404.1 561.2M394.5 569.4L394.8 571.5L395.5 573.5L396.1 575.1L397.3 575.9L397.5 576.8L397.7 578.8L397.5 579.7L396.5 582.1L395.8 583.2L394.2 586.0L392.9 587.9L391.9 589.4L391.5 587.9L392.0 586.0L393.2 584.0L394.0 582.4L392.6 582.5L392.3 580.8L391.0 580.0L389.8 577.6L389.5 575.1L390.4 572.7L392.0 570.3L391.2 569.9L389.5 571.5L388.5 572.3L388.7 574.6L388.3 576.8L389.1 579.2L389.6 582.0M389.6 582.0L390.2 583.2L389.8 585.6L389.5 587.4L389.1 588.6L389.8 590.3L389.8 590.7L391.7 590.9L392.5 593.8L393.2 596.6L394.5 599.7L394.6 603.9L391.7 605.3L388.3 608.9L385.4 608.4L382.8 609.7L380.6 611.6L379.3 614.6L375.6 614.6L373.4 615.9L371.5 619.6L370.5 621.1L367.1 622.9L363.9 624.8L363.6 626.3L362.0 627.4L360.9 628.3L359.5 630.7L358.2 633.7L357.6 635.2L357.3 638.0L357.6 640.3L358.2 643.9L360.1 649.0L363.0 654.4L362.7 656.9L364.2 660.1L365.8 664.7L366.3 666.8L365.6 673.1L364.6 675.9L359.5 677.9L357.9 673.1L355.1 670.7L353.8 668.2L352.3 666.5L350.4 662.6L349.1 660.4L351.0 658.3L348.6 657.6L349.7 654.0L349.4 651.2L347.2 649.4L345.0 646.8L343.4 643.9L340.0 642.7L339.0 643.9L332.7 645.5L332.4 643.9L330.5 642.3L327.4 640.7L321.0 640.8L319.2 641.2L317.9 641.4L315.8 641.5L316.0 638.2L315.2 640.7L313.5 640.5L312.5 640.7L310.3 640.3L309.1 640.5L307.5 641.0L306.4 641.9L305.3 642.8L307.2 643.6L308.4 644.3L307.2 646.8L308.1 647.9L309.4 649.0L308.9 650.5L307.2 650.9L306.9 648.6L305.0 648.3L303.4 648.6L302.1 649.9L299.3 650.1L297.1 650.1L295.2 648.3L294.9 646.8L291.7 646.8L290.2 646.1L288.9 646.6L284.5 645.0L282.3 644.9L279.2 645.4L275.6 646.8L273.4 648.3L273.1 645.0L271.2 650.4L270.0 650.9L265.9 653.3L263.0 655.1L260.2 657.2L258.9 659.0L257.0 662.9L257.4 667.5L258.0 671.0L258.3 672.0M258.3 672.0L256.1 672.4L252.3 671.4L247.9 669.1L245.6 667.9L244.9 665.4L243.5 661.2L239.7 656.2L237.2 652.6L234.7 647.9L231.5 645.0L230.6 644.7L227.4 644.7L225.2 644.9L223.3 645.7L222.4 647.9L220.5 650.6L218.3 649.6L216.6 648.5L212.8 646.4L210.7 643.2L209.4 639.2L206.3 637.0L202.5 633.0L199.4 630.3"/>
<path class="st" style="stroke-width:3.3" d="M394.5 603.6L391.7 605.9L388.5 608.2L385.4 608.6L381.6 611.2"/>
<path class="st" style="stroke-width:1.6" d="M363.6 677.3L365.2 681.5L366.4 684.6"/>
<path class="st" style="stroke-width:1.6" d="M262.4 653.3L261.8 650.4L261.3 647.6"/>
<path class="st" style="stroke-width:1.5" d="M256.1 662.2L252.3 662.2L247.9 661.5"/>
<path class="st" style="stroke-width:3.3" d="M257.4 659.7L256.6 664.7L257.7 670.3"/>
<path class="st" style="stroke-width:4.6" d="M404.0 561.1L409.3 559.1L414.4 557.5L417.5 556.2"/>
<path class="st" style="stroke-width:4.2" d="M417.5 555.4L421.3 553.7L424.5 552.9L429.5 552.0"/>
<path class="st" style="stroke-width:3.6" d="M404.3 562.5L403.6 567.8L401.4 571.5L398.6 574.7"/>
<path class="st" style="stroke-width:3.3" d="M258.0 659.7L261.8 655.1L266.8 652.6L271.9 649.0L273.8 646.8"/>
<path class="st" style="stroke-width:3.3" d="M282.6 645.0L288.9 646.1L293.3 646.5L297.1 648.6L301.5 649.0"/>
<path class="st" style="stroke-width:4.2" d="M349.1 657.6L350.1 661.2L352.6 666.1L353.8 668.2"/>
<path class="st" style="stroke-width:3.5" d="M357.6 636.6L358.9 631.5L361.4 627.0L365.2 624.0L369.0 621.4L371.5 618.8"/>
<path class="st" style="stroke-width:3.6" d="M306.5 641.0L312.2 640.3L316.0 639.9L319.8 640.3"/>
<circle cx="342.8" cy="533.8" r="2.2" fill="#000"/><circle cx="331.5" cy="523.6" r="1.7" fill="#000"/><circle cx="317.6" cy="524.8" r="1.3" fill="#000"/><circle cx="390.7" cy="534.5" r="1.4" fill="#000"/><circle cx="349.4" cy="545.7" r="1.3" fill="#000"/><polyline points="385.1,574.8 381.1,576.3 378.6,575.3" fill="none" stroke="#000" stroke-width="1.6" stroke-linejoin="round" stroke-linecap="round"/>
<polyline points="385.6,580.3 381.6,581.3 379.6,583.8" fill="none" stroke="#000" stroke-width="1.6" stroke-linejoin="round" stroke-linecap="round"/>
<polyline points="386.1,571.8 383.1,570.8 381.6,572.3" fill="none" stroke="#000" stroke-width="1.6" stroke-linejoin="round" stroke-linecap="round"/>
<polyline points="388.6,605.9 383.1,609.2 378.1,612.1" fill="none" stroke="#000" stroke-width="1.6" stroke-linejoin="round" stroke-linecap="round"/>
<polyline points="385.6,603.9 382.6,603.4 379.7,598.2" fill="none" stroke="#000" stroke-width="1.6" stroke-linejoin="round" stroke-linecap="round"/>
<polyline points="384.6,605.4 381.1,606.9 377.9,607.3" fill="none" stroke="#000" stroke-width="1.6" stroke-linejoin="round" stroke-linecap="round"/>
<polyline points="386.1,601.9 382.1,599.9 380.1,595.4" fill="none" stroke="#000" stroke-width="1.6" stroke-linejoin="round" stroke-linecap="round"/>
<polygon points="384.3,577.3 385.6,572.0 389.1,569.8 392.7,568.6 395.8,569.5 397.4,568.0 398.4,570.8 397.7,574.8 398.1,578.6 397.1,581.0 393.6,587.8 391.8,590.8 393.6,596.4 396.1,604.3 393.3,601.7 391.2,604.3 388.3,606.4 385.6,604.4 387.6,601.4 386.4,600.1 385.1,595.2 386.4,589.0 382.3,586.4 385.7,583.0" fill="#000" stroke="#000" stroke-width="1" stroke-linejoin="round"/>
<polygon points="300.7,640.6 304.3,639.0 307.3,641.1 308.7,646.6 312.1,653.6 307.3,649.5 304.3,650.7 299.9,652.5 299.5,649.0 297.1,646.7 299.5,645.4 301.5,642.7" fill="#000" stroke="#000" stroke-width="1" stroke-linejoin="round"/>
<text class="b" x="215.6" y="466.6" font-size="12.6" text-anchor="start">100<tspan dy="-11.1" dx="2.3" font-size="5.6">o</tspan><tspan dy="11.1" dx="4.35">W</tspan></text>
<text class="b" x="284.4" y="466.6" font-size="12.6" text-anchor="start">90<tspan dy="-11.1" dx="2.3" font-size="5.6">o</tspan><tspan dy="11.1" dx="4.35">W</tspan></text>
<text class="b" x="348.3" y="466.6" font-size="12.6" text-anchor="start">80<tspan dy="-11.1" dx="2.3" font-size="5.6">o</tspan><tspan dy="11.1" dx="4.35">W</tspan></text>
<text class="b" x="411.8" y="466.6" font-size="12.6" text-anchor="start">70<tspan dy="-11.1" dx="2.3" font-size="5.6">o</tspan><tspan dy="11.1" dx="4.35">W</tspan></text>
<text class="b" x="146.2" y="501.9" font-size="12.6" text-anchor="start">48<tspan dy="-11.1" dx="2.3" font-size="5.6">o</tspan><tspan dy="11.1" dx="4.35">N</tspan></text>
<text class="b" x="146.2" y="520.3" font-size="12.6" text-anchor="start">46<tspan dy="-11.1" dx="2.3" font-size="5.6">o</tspan><tspan dy="11.1" dx="4.35">N</tspan></text>
<text class="b" x="146.2" y="537.3" font-size="12.6" text-anchor="start">44<tspan dy="-11.1" dx="2.3" font-size="5.6">o</tspan><tspan dy="11.1" dx="4.35">N</tspan></text>
<text class="b" x="146.2" y="555.9" font-size="12.6" text-anchor="start">42<tspan dy="-11.1" dx="2.3" font-size="5.6">o</tspan><tspan dy="11.1" dx="4.35">N</tspan></text>
<text class="b" x="146.2" y="572.3" font-size="12.6" text-anchor="start">40<tspan dy="-11.1" dx="2.3" font-size="5.6">o</tspan><tspan dy="11.1" dx="4.35">N</tspan></text>
<text class="b" x="146.2" y="587.7" font-size="12.6" text-anchor="start">38<tspan dy="-11.1" dx="2.3" font-size="5.6">o</tspan><tspan dy="11.1" dx="4.35">N</tspan></text>
<text class="b" x="146.2" y="604.4" font-size="12.6" text-anchor="start">36<tspan dy="-11.1" dx="2.3" font-size="5.6">o</tspan><tspan dy="11.1" dx="4.35">N</tspan></text>
<text class="b" x="146.2" y="618.6" font-size="12.6" text-anchor="start">34<tspan dy="-11.1" dx="2.3" font-size="5.6">o</tspan><tspan dy="11.1" dx="4.35">N</tspan></text>
<text class="b" x="146.2" y="635.6" font-size="12.6" text-anchor="start">32<tspan dy="-11.1" dx="2.3" font-size="5.6">o</tspan><tspan dy="11.1" dx="4.35">N</tspan></text>
<text class="b" x="146.2" y="649.8" font-size="12.6" text-anchor="start">30<tspan dy="-11.1" dx="2.3" font-size="5.6">o</tspan><tspan dy="11.1" dx="4.35">N</tspan></text>
<text class="b" x="146.2" y="662.4" font-size="12.6" text-anchor="start">28<tspan dy="-11.1" dx="2.3" font-size="5.6">o</tspan><tspan dy="11.1" dx="4.35">N</tspan></text>
<text class="b" x="146.2" y="677.1" font-size="12.6" text-anchor="start">26<tspan dy="-11.1" dx="2.3" font-size="5.6">o</tspan><tspan dy="11.1" dx="4.35">N</tspan></text>
<text class="b" x="146.2" y="691.7" font-size="12.6" text-anchor="start">24<tspan dy="-11.1" dx="2.3" font-size="5.6">o</tspan><tspan dy="11.1" dx="4.35">N</tspan></text>
<text class="b" x="146.2" y="703.8" font-size="12.6" text-anchor="start">22<tspan dy="-11.1" dx="2.3" font-size="5.6">o</tspan><tspan dy="11.1" dx="4.35">N</tspan></text>
<text class="b" x="107.5" y="730.9" font-size="23" textLength="399.6" lengthAdjust="spacing">SAT-RAP Negative Lifted Index</text>
<rect x="441.2" y="483.2" width="23.6" height="219.5" fill="url(#jet)" stroke="#262626" stroke-width="0.8"/>
<line x1="462.3" x2="464.8" y1="529.5" y2="529.5" stroke="#262626" stroke-width="0.8"/><text class="b" x="473.0" y="537.1" font-size="20.8">5</text>
<line x1="462.3" x2="464.8" y1="592.7" y2="592.7" stroke="#262626" stroke-width="0.8"/><text class="b" x="473.0" y="600.3" font-size="20.8">0</text>
<line x1="462.3" x2="464.8" y1="655.7" y2="655.7" stroke="#262626" stroke-width="0.8"/><text class="b" x="473.0" y="663.3" font-size="20.8">-5</text>
</g>
<g id="panel5">
<rect x="617.5" y="486.5" width="233.0" height="213.0" fill="none" stroke="#1a1a1a" stroke-width="1.1"/>
<polygon points="743.7,497.3 743.6,497.4 743.5,497.5 743.4,497.6 743.2,497.7 743.1,497.8 743.0,497.8 742.8,497.9 742.7,497.9 742.5,497.9 742.4,497.9 742.2,497.9 742.1,497.9 742.0,497.8 741.8,497.8 741.7,497.7 741.4,497.5 741.2,497.4 740.9,497.3 740.7,497.3 740.4,497.2 740.2,497.2 739.9,497.2 739.6,497.3 739.4,497.3 739.1,497.4 738.9,497.5 738.7,497.7 738.4,497.8 738.2,498.0 738.1,498.2 737.9,498.4 737.8,498.6 737.7,498.9 737.6,499.1 737.5,499.4 737.5,499.6 737.5,499.9 737.5,500.2 737.5,500.4 737.6,500.7 737.7,500.9 737.8,501.2 737.9,501.4 738.1,501.6 738.3,501.8 738.4,502.0 738.4,502.1 738.5,502.2 738.6,502.3 738.6,502.5 738.6,502.6 738.7,502.8 738.8,506.6 740.0,519.9 740.0,519.9 741.5,539.9 743.0,553.5 749.3,563.5 749.4,563.7 758.7,584.2 765.3,597.3 765.3,597.3 767.5,601.7 784.9,596.5 813.0,588.1 813.0,588.1 821.7,586.1 831.2,582.7 838.1,574.9 839.0,566.3 837.2,561.0 837.1,560.9 837.1,560.7 837.1,560.6 837.1,560.4 837.1,560.3 837.1,560.1 837.2,560.0 837.2,559.9 837.3,559.7 837.4,559.6 840.2,555.9 840.3,555.8 840.4,555.7 840.5,555.6 840.7,555.5 840.8,555.5 851.0,551.0 852.3,537.9 852.3,515.1 849.9,500.9 845.5,501.4 844.6,510.2 844.6,510.3 844.5,510.4 844.5,510.6 839.5,522.6 839.4,522.7 839.3,522.8 839.3,523.0 839.2,523.1 839.0,523.2 838.9,523.3 838.8,523.3 838.7,523.4 838.5,523.4 838.4,523.5 838.3,523.5 838.1,523.5 838.0,523.5 837.8,523.5 837.7,523.5 837.5,523.4 832.5,521.4 832.4,521.3 832.3,521.3 832.2,521.2 832.0,521.1 831.9,521.0 831.9,520.9 831.8,520.7 831.7,520.6 831.7,520.5 831.6,520.3 830.6,515.6 830.6,515.5 830.6,515.3 830.6,515.2 830.6,515.1 830.6,514.9 830.7,514.8 830.7,514.6 834.5,507.2 834.5,507.1 839.2,499.7 843.7,490.4 845.9,485.1 785.3,485.3 781.2,491.6 777.5,506.4 777.5,506.5 773.8,517.7 771.0,526.8 770.6,531.4 770.5,531.5 770.5,531.7 770.4,531.8 770.4,531.9 770.3,532.1 770.2,532.2 770.1,532.3 770.0,532.4 769.9,532.5 769.7,532.6 769.6,532.6 769.5,532.7 769.3,532.7 769.2,532.7 769.0,532.7 768.9,532.7 768.7,532.7 768.6,532.6 768.4,532.6 768.3,532.5 768.2,532.4 768.1,532.3 767.1,531.4 766.9,531.3 766.9,531.2 766.8,531.1 766.7,530.9 766.6,530.8 766.6,530.6 766.6,530.5 765.3,518.4 764.7,516.6 764.6,516.5 764.6,516.3 764.6,516.2 764.6,516.0 764.6,515.9 764.7,515.7 764.7,515.6 764.8,515.5 764.8,515.3 764.9,515.2 765.0,515.1 765.1,515.0 765.2,514.9 765.3,514.8 765.5,514.8 765.7,514.6 765.9,514.4 766.0,514.2 766.2,514.0 766.3,513.8 766.5,513.5 766.5,513.3 766.6,513.0 766.6,512.8 766.7,512.5 766.6,512.2 766.6,512.0 766.5,511.7 766.5,511.5 766.4,511.3 766.3,511.2 766.3,511.0 766.2,510.9 766.2,510.7 766.2,510.6 766.2,510.4 766.3,510.3 766.3,510.2 766.4,510.0 766.4,509.9 766.5,509.8 766.6,509.7 766.7,509.6 766.8,509.5 767.0,509.4 767.1,509.3 767.1,509.3 767.4,509.2 767.6,509.0 767.8,508.8 768.0,508.6 768.1,508.4 768.2,508.2 768.4,507.9 768.4,507.7 768.5,507.4 768.6,507.2 768.6,506.9 768.6,506.6 768.5,506.4 768.4,506.1 768.4,505.9 768.3,505.7 768.2,505.5 768.2,505.4 768.1,505.2 768.1,505.1 768.1,505.0 768.1,504.8 768.2,504.7 768.2,504.5 768.3,504.4 768.3,504.3 768.4,504.1 768.5,504.0 768.6,503.9 768.7,503.8 768.8,503.7 768.9,503.7 769.2,503.6 769.4,503.4 769.6,503.2 769.8,503.0 769.9,502.8 770.0,502.6 770.2,502.3 770.2,502.1 770.3,501.8 770.4,501.6 770.4,501.3 770.4,501.0 770.3,500.8 770.2,500.5 770.2,500.3 770.0,500.0 769.9,499.8 769.8,499.6 769.6,499.4 769.4,499.2 769.2,499.1 768.9,498.9 768.7,498.8 768.4,498.7 768.2,498.7 767.9,498.6 767.7,498.6 767.4,498.6 767.1,498.7 766.9,498.7 766.6,498.8 766.4,498.9 766.2,499.1 766.0,499.2 765.8,499.4 765.6,499.6 765.5,499.6 765.4,499.8 765.3,499.9 765.2,500.0 765.1,500.0 765.0,500.1 764.8,500.2 764.7,500.2 764.6,500.2 764.4,500.2 764.3,500.2 764.1,500.2 764.0,500.2 763.8,500.2 763.5,500.2 763.2,500.3 763.0,500.3 762.7,500.4 762.5,500.5 762.3,500.7 762.1,500.8 761.9,501.0 761.7,501.2 761.5,501.4 761.4,501.6 761.3,501.9 761.2,502.1 761.1,502.4 761.1,502.6 761.1,502.9 761.1,503.2 761.1,503.4 761.2,503.7 761.3,504.0 761.3,504.0 761.4,504.2 761.4,504.3 761.4,504.5 761.4,504.6 761.4,504.8 761.4,504.9 761.3,505.1 761.3,505.2 761.2,505.3 761.1,505.4 761.0,505.6 760.9,505.7 760.8,505.8 760.7,505.8 760.5,505.9 760.5,505.9 760.3,506.1 760.0,506.2 759.9,506.4 759.7,506.6 759.5,506.8 759.5,506.9 759.4,507.0 759.3,507.1 759.2,507.2 759.1,507.3 759.0,507.4 758.9,507.5 758.7,507.5 758.6,507.6 758.5,507.6 758.3,507.6 757.5,507.7 757.4,507.7 757.2,507.7 757.1,507.7 756.9,507.6 756.8,507.6 756.7,507.5 756.5,507.5 756.4,507.4 756.3,507.3 753.1,504.2 753.0,504.1 752.9,504.0 752.8,503.8 752.7,503.7 752.7,503.6 752.6,503.4 752.6,503.3 752.6,503.1 752.6,503.0 752.6,502.9 752.6,502.7 752.7,502.6 752.7,502.4 752.8,502.3 752.9,502.2 753.0,502.1 753.1,502.0 753.3,501.8 753.4,501.6 753.6,501.4 753.7,501.2 753.9,500.9 753.9,500.7 754.0,500.4 754.0,500.2 754.1,499.9 754.0,499.6 754.0,499.4 753.9,499.1 753.9,498.9 753.7,498.6 753.6,498.4 753.4,498.2 753.3,498.0 753.1,497.8 752.9,497.7 752.6,497.5 752.4,497.4 752.1,497.3 751.9,497.3 751.6,497.2 751.4,497.2 751.1,497.2 750.8,497.3 750.6,497.3 750.3,497.4 750.1,497.5 749.8,497.7 749.7,497.8 749.6,497.8 749.4,497.9 749.3,497.9 749.1,497.9 749.0,497.9 748.8,497.9 748.7,497.9 748.5,497.8 748.4,497.8 748.3,497.7 748.2,497.6 748.0,497.5 747.9,497.4 747.8,497.3 747.7,497.1 747.5,496.9 747.3,496.8 747.0,496.6 746.8,496.5 746.5,496.4 746.3,496.4 746.0,496.3 745.8,496.3 745.5,496.3 745.2,496.4 745.0,496.4 744.7,496.5 744.5,496.6 744.3,496.8 744.0,496.9 743.8,497.1 743.7,497.3" fill="#7efc74" stroke="#7efc74" stroke-width="3" stroke-linejoin="round"/>
<g filter="url(#bl2)"><ellipse cx="831.2" cy="568.7" rx="7" ry="11" fill="#9cf858" transform="rotate(25 831.2 568.7)"/></g>
<path class="st" d="M617.1 486.7L617.1 630.2M617.1 486.7L691.9 486.7L694.6 486.7M635.7 486.7L635.7 558.0M617.1 523.6L635.7 523.6M617.1 558.0L648.3 558.0M648.3 558.0L648.3 590.4M648.3 566.3L690.8 566.3M617.1 590.4L695.2 590.4M642.3 590.4L642.3 594.3L642.1 594.3L642.0 628.6L619.5 628.6L620.1 630.2L617.1 630.2M642.3 594.3L661.3 594.3L661.3 609.3M635.7 515.2L683.0 515.2M635.7 541.1L670.7 541.1L672.0 542.0L674.5 542.8L677.7 542.2L680.2 543.2L682.1 544.5L683.7 545.5M683.7 536.8L716.6 536.8M687.9 561.5L713.4 561.3L714.9 562.6L715.4 563.2M695.2 594.3L723.4 594.3L723.7 595.9L722.0 598.2L726.2 598.2M690.8 566.3L692.5 567.5L693.4 568.3L692.2 570.0L693.4 571.6L695.3 573.5L695.2 594.3L696.4 603.0L696.1 616.3M698.9 617.0L698.9 621.0L717.0 621.1M698.9 621.0L698.9 628.6L699.7 630.1L700.4 632.3L701.9 634.5L701.9 636.7L700.7 640.3L701.0 642.5L700.1 645.4M661.3 609.3L663.1 610.5L666.3 611.3L668.2 612.1L670.7 612.8L673.2 612.6L674.5 614.3L677.0 614.3L678.9 615.5L680.8 614.0L682.7 614.7L684.3 615.9L687.8 614.7L690.9 614.5L693.4 615.6L696.1 616.3L697.8 616.8L698.9 617.0M678.7 486.7L679.4 493.4L680.8 499.9L681.4 506.4L682.7 511.9L683.0 515.2L682.7 518.2L683.7 520.9L683.7 536.8L682.8 539.4L683.0 542.8L683.7 545.5M683.7 545.5L684.3 547.9L685.9 552.2L687.0 555.5L687.4 558.0L687.6 560.5L688.4 561.8L689.3 563.8L690.8 566.3M694.6 486.7L694.7 488.1L695.3 489.4L699.1 490.0L702.9 490.5L705.4 490.2L708.6 491.9L711.7 493.4L714.9 495.5L718.7 493.9L723.7 495.3L727.2 496.2L721.2 499.9L716.1 503.7L711.1 507.8M711.6 508.2L709.9 508.6L709.9 513.9L709.5 514.5L707.3 515.5L706.2 517.3L707.6 520.0L707.0 522.7L706.7 525.8L708.3 527.4L711.5 529.1L713.9 532.0L716.5 533.7L716.6 536.8L716.8 540.2L717.7 543.2L720.2 545.4L721.8 547.1L723.4 548.8L723.1 550.9L722.1 553.4L717.7 554.7L717.4 556.4L718.3 557.6L717.4 559.7L715.5 561.8L715.4 563.2L714.9 564.6L715.5 566.9L715.8 568.8L717.4 570.0L719.7 572.4L719.9 574.0L720.9 575.5L723.6 575.7L723.2 577.4L722.1 580.1L723.1 581.7L725.0 583.4L727.4 585.9L727.5 588.0L729.8 590.6L729.4 593.2L727.5 594.3L727.2 595.5L726.2 598.2L724.7 601.7L723.7 605.0L722.4 606.0L720.9 608.3L720.7 610.2L718.7 612.8L717.4 615.9L716.8 618.1L717.0 621.1L717.4 624.1L718.7 626.1L717.4 628.6L715.5 631.5L714.2 634.5L714.1 636.0L726.0 636.0L725.3 638.5L726.5 641.1L727.4 641.9M720.3 545.4L738.2 545.4M740.0 551.7L757.1 551.7L757.1 552.2L765.7 551.9M739.9 551.7L739.9 571.6L739.5 573.6L739.9 577.0L738.5 579.3L737.3 580.5L737.0 582.5L736.8 584.1M757.0 552.2L757.0 573.6M784.1 561.0L783.4 563.0L783.3 565.1L782.9 565.7L782.1 568.8L779.8 571.2L777.6 572.3L776.4 574.4L774.0 575.7L773.5 577.7L772.0 579.1L771.0 579.1L770.8 578.6L768.5 576.6L766.6 577.5L763.6 577.3L760.9 576.1L759.0 573.6L757.0 573.6L756.8 574.8L756.8 576.2L754.6 576.9L753.4 576.6L753.0 578.5L751.1 580.3L749.6 582.5L747.7 581.3L746.4 583.1L744.5 582.6L742.6 584.2L739.7 582.7L737.3 583.3L736.8 584.1L736.6 586.5L734.1 587.1L733.8 589.6L733.2 589.8L730.6 588.8L729.8 590.6M728.0 594.3L736.5 594.3L736.5 592.9L746.4 593.2L755.9 593.4L764.2 593.5L776.8 593.6M776.8 593.6L776.8 593.9L813.5 593.9M764.2 593.5L767.9 591.6L770.4 590.0L772.9 588.3L775.0 586.1L772.9 585.0L771.6 582.9L771.0 581.3L771.0 579.1M775.0 586.1L776.8 588.8L779.7 588.5L782.1 587.6L785.5 586.5L787.4 582.5L789.6 577.8L791.8 579.1L794.5 576.3L797.8 571.2L801.1 573.4L801.8 571.8M722.4 606.0L752.1 606.0L760.2 606.0L767.9 606.0M735.7 606.0L736.3 606.7L734.0 629.3L734.4 640.6M752.1 606.0L754.7 622.1L755.9 626.4L755.1 630.1L755.9 636.0M740.1 641.2L740.4 640.0L739.5 636.0L755.9 636.0L756.8 638.2L773.5 639.1L774.5 640.6L775.1 637.4L778.3 638.1M767.9 606.0L766.3 608.3L769.1 610.2L771.3 613.6L773.5 616.2L775.4 618.1L778.0 621.1L778.6 624.1L780.5 627.8L781.9 628.4M767.9 606.0L772.9 604.4L780.9 604.8L781.6 605.2L782.5 607.3L789.5 607.5L796.6 614.6M760.2 606.0L761.9 603.9L762.2 602.9L765.3 601.6L766.9 600.6L769.1 598.6L771.0 598.2L774.5 597.3L775.4 595.9L776.7 594.7L776.8 593.6M784.1 568.6L814.0 568.6M784.1 549.8L784.1 568.6M788.9 547.3L788.9 549.6L816.8 549.6L818.5 551.3L818.6 553.0L819.6 554.3L820.9 555.0M820.9 555.0L819.6 556.4L818.1 558.3L817.7 560.5L818.5 561.8L819.3 563.0L820.4 564.6L819.6 565.6L818.1 567.1L816.3 567.9L815.5 569.2L815.5 570.4M820.9 555.0L825.9 558.0M816.3 567.9L815.2 567.6L814.0 568.6L814.0 578.8L818.6 578.9M810.6 582.2L807.3 580.5L806.3 580.1L806.0 578.9L804.5 579.3L804.8 577.7L806.2 575.7L804.8 574.4L803.2 573.6L801.7 571.8L801.0 569.6L798.9 568.8L797.2 570.0L795.2 569.2L793.4 570.6L790.6 572.7L790.6 568.6M711.1 507.8L711.6 508.2L716.8 506.8L719.3 506.0L718.8 509.2L721.7 509.4L725.0 507.5L727.5 506.9L731.0 504.8L732.4 503.2L734.1 505.5L735.1 506.4L737.6 506.6L740.7 509.6L745.5 510.8L749.7 508.5L756.2 507.6L755.9 510.1L758.4 510.5L760.0 510.1L761.2 512.8L762.2 514.6L757.6 515.8L752.7 513.9L748.0 515.1L745.8 518.2L743.9 516.9L742.9 516.9L741.4 520.0L739.5 522.7M721.7 509.4L723.6 511.5L730.0 513.4L732.9 514.6L736.3 515.4L737.9 516.9L738.2 520.5L739.5 522.7L737.3 526.7L737.0 527.8L743.3 520.9L741.1 525.4L740.1 528.5L739.2 531.6L738.8 534.6L737.7 540.7L738.2 545.4L739.5 550.9L740.0 552.2L741.7 552.8L743.9 552.0L744.4 551.7L746.5 548.8L748.0 546.2L748.3 543.0L748.0 540.2L747.5 539.1L746.2 535.5L746.7 532.9L746.4 531.9L747.5 530.2L748.1 526.9L749.1 524.5L752.4 521.8L752.1 525.7L753.5 523.2L754.3 520.8L756.2 520.3L755.6 517.8L757.6 516.6L759.2 517.8L762.8 519.6L765.7 520.9L765.8 523.1L766.6 524.5L766.6 526.7L766.4 528.9L765.7 530.2L762.8 532.4L763.1 535.5L766.0 533.3L766.8 533.0L768.8 531.8L770.7 533.7L771.4 537.4L772.2 541.1L771.6 544.5L769.4 545.8L768.2 546.9L767.5 549.2L765.7 551.9L768.5 553.4L770.4 553.8L772.9 554.4L773.7 554.1L776.7 553.8L779.5 551.7L782.4 550.5L784.1 549.8L786.8 548.4L788.9 547.3L791.6 545.5L794.4 542.1L793.4 538.9L796.9 537.9L802.6 538.8L806.3 538.7L809.5 537.0L811.4 536.3L811.4 533.3L810.4 531.6L813.9 528.5L815.8 526.3L819.6 523.8L820.7 523.6L829.4 523.5L841.0 523.5L843.7 520.9L845.1 521.4L845.5 519.9L848.0 516.9L848.9 515.1L848.6 512.8L850.2 510.8L850.5 508.3L850.5 534.6M841.0 523.5L840.7 527.2L837.6 531.6L836.6 535.0L835.0 539.4L834.4 542.4L835.0 543.4M829.4 523.5L829.4 528.0L829.1 532.4L829.1 535.9L830.0 536.8L829.9 543.2L828.4 549.2L828.4 555.5L827.0 557.2L827.4 558.1M829.9 543.2L842.3 543.7L844.2 542.2L845.3 542.2M828.4 549.2L839.1 549.5L841.8 549.5L841.8 550.5L842.1 551.5L842.9 552.4L843.4 553.8M839.1 549.5L839.1 555.3M843.7 520.9L844.0 528.0L844.4 536.2L845.3 538.9L845.9 540.5M850.5 534.6L848.9 535.5L849.2 536.3L848.1 537.2L847.5 538.1L846.7 539.8L845.9 540.5L845.5 542.0L845.3 542.6L846.7 544.1L844.9 545.4L844.0 546.7L844.5 547.5L846.0 547.9L846.4 550.0L847.2 551.5L848.6 552.0L850.5 551.5L850.5 552.4L848.6 552.7L846.7 553.4L846.3 553.7L846.6 551.8L846.0 551.7L844.7 553.0L843.4 553.8L842.9 554.1L842.1 554.1L841.7 551.3L841.2 555.0L838.8 555.3L837.3 555.5L832.2 555.9L830.3 556.8L828.1 557.8L827.4 558.1L826.7 559.0L825.9 558.0L825.0 560.5L823.6 562.2L825.3 562.4L825.3 564.6L824.8 566.7L824.6 568.3L823.7 570.4L822.6 571.5L820.9 573.6L819.4 575.0L819.3 573.0L817.7 572.2L816.4 571.2L815.5 570.4M825.1 561.3L826.8 561.4L829.7 561.1L832.2 560.4L835.0 559.3L838.8 557.4L836.0 558.0L836.4 556.7L834.1 558.2L831.1 558.3L828.4 558.6L826.8 559.3L826.5 559.8L825.1 561.3M815.5 569.6L815.8 571.6L816.4 573.6L817.1 575.3L818.3 576.1L818.5 576.9L818.6 578.9L818.5 579.8L817.4 582.2L816.8 583.3L815.2 586.1L813.9 588.0L812.8 589.5L812.5 588.0L813.0 586.1L814.2 584.1L815.0 582.6L813.6 582.6L813.3 580.9L812.0 580.1L810.8 577.7L810.4 575.3L811.4 572.8L813.0 570.4L812.1 570.0L810.4 571.6L809.5 572.4L809.7 574.7L809.3 576.9L810.1 579.3L810.6 582.2M810.6 582.2L811.1 583.4L810.8 585.7L810.4 587.5L810.1 588.7L810.8 590.4L810.8 590.8L812.7 591.0L813.5 593.9L814.2 596.7L815.5 599.8L815.6 604.0L812.7 605.4L809.3 609.0L806.3 608.5L803.8 609.8L801.6 611.7L800.3 614.7L796.6 614.6L794.4 616.0L792.5 619.6L791.5 621.1L788.0 623.0L784.9 624.9L784.6 626.4L783.0 627.5L781.9 628.4L780.5 630.8L779.2 633.8L778.6 635.2L778.3 638.1L778.6 640.3L779.2 644.0L781.1 649.0L783.9 654.4L783.6 656.9L785.2 660.1L786.8 664.7L787.2 666.8L786.6 673.2L785.5 675.9L780.5 677.9L778.9 673.2L776.1 670.7L774.8 668.3L773.2 666.5L771.3 662.6L770.1 660.5L772.0 658.4L769.6 657.6L770.7 654.1L770.4 651.2L768.2 649.4L766.0 646.9L764.4 644.0L760.9 642.7L760.0 644.0L753.7 645.6L753.4 644.0L751.5 642.3L748.3 640.7L742.0 640.9L740.1 641.2L738.8 641.4L736.8 641.6L737.0 638.3L736.1 640.7L734.4 640.6L733.5 640.7L731.3 640.3L730.0 640.6L728.4 641.1L727.4 641.9L726.2 642.9L728.1 643.6L729.4 644.3L728.1 646.9L729.1 648.0L730.3 649.0L729.8 650.6L728.1 651.0L727.8 648.7L725.9 648.3L724.3 648.7L723.1 649.9L720.2 650.1L718.0 650.1L716.1 648.3L715.8 646.9L712.7 646.9L711.1 646.2L709.8 646.7L705.4 645.1L703.2 645.0L700.1 645.4L696.6 646.9L694.4 648.3L694.1 645.1L692.2 650.5L690.9 651.0L686.8 653.4L684.0 655.1L681.1 657.3L679.9 659.1L678.0 663.0L678.3 667.5L678.9 671.1L679.2 672.0M679.2 672.0L677.0 672.5L673.2 671.4L668.8 669.2L666.5 667.9L665.9 665.4L664.4 661.2L660.6 656.2L658.1 652.6L655.6 648.0L652.4 645.1L651.5 644.7L648.3 644.7L646.1 644.9L644.2 645.8L643.3 648.0L641.4 650.6L639.2 649.6L637.5 648.5L633.7 646.4L631.6 643.3L630.3 639.3L627.2 637.1L623.4 633.0L620.3 630.4"/>
<path class="st" style="stroke-width:3.3" d="M815.5 603.6L812.7 606.0L809.5 608.3L806.3 608.6L802.6 611.3"/>
<path class="st" style="stroke-width:1.6" d="M784.6 677.3L786.2 681.5L787.4 684.6"/>
<path class="st" style="stroke-width:1.6" d="M683.3 653.4L682.7 650.5L682.2 647.6"/>
<path class="st" style="stroke-width:1.5" d="M677.0 662.3L673.2 662.3L668.8 661.5"/>
<path class="st" style="stroke-width:3.3" d="M678.3 659.8L677.5 664.7L678.6 670.4"/>
<path class="st" style="stroke-width:4.6" d="M825.0 561.2L830.3 559.3L835.4 557.6L838.5 556.4"/>
<path class="st" style="stroke-width:4.2" d="M838.5 555.5L842.3 553.8L845.5 553.0L850.5 552.2"/>
<path class="st" style="stroke-width:3.6" d="M825.3 562.6L824.6 567.9L822.4 571.6L819.6 574.8"/>
<path class="st" style="stroke-width:3.3" d="M678.9 659.8L682.7 655.1L687.8 652.6L692.8 649.0L694.7 646.9"/>
<path class="st" style="stroke-width:3.3" d="M703.5 645.1L709.8 646.2L714.2 646.5L718.0 648.7L722.4 649.0"/>
<path class="st" style="stroke-width:4.2" d="M770.1 657.6L771.0 661.2L773.5 666.1L774.8 668.3"/>
<path class="st" style="stroke-width:3.5" d="M778.6 636.7L779.8 631.5L782.4 627.1L786.2 624.1L789.9 621.5L792.5 618.9"/>
<path class="st" style="stroke-width:3.6" d="M727.5 641.1L733.2 640.3L737.0 640.0L740.7 640.3"/>
<circle cx="763.8" cy="534.0" r="2.2" fill="#000"/><circle cx="752.4" cy="523.8" r="1.7" fill="#000"/><circle cx="738.5" cy="524.9" r="1.3" fill="#000"/><circle cx="811.7" cy="534.6" r="1.4" fill="#000"/><circle cx="770.4" cy="545.8" r="1.3" fill="#000"/><polyline points="806.1,575.0 802.1,576.5 799.6,575.5" fill="none" stroke="#000" stroke-width="1.6" stroke-linejoin="round" stroke-linecap="round"/>
<polyline points="806.6,580.5 802.6,581.5 800.6,584.0" fill="none" stroke="#000" stroke-width="1.6" stroke-linejoin="round" stroke-linecap="round"/>
<polyline points="807.1,572.0 804.1,571.0 802.6,572.5" fill="none" stroke="#000" stroke-width="1.6" stroke-linejoin="round" stroke-linecap="round"/>
<polyline points="809.6,605.9 804.1,609.2 799.1,612.1" fill="none" stroke="#000" stroke-width="1.6" stroke-linejoin="round" stroke-linecap="round"/>
<polyline points="806.6,603.9 803.6,603.4 800.7,598.2" fill="none" stroke="#000" stroke-width="1.6" stroke-linejoin="round" stroke-linecap="round"/>
<polyline points="805.6,605.4 802.1,606.9 798.9,607.3" fill="none" stroke="#000" stroke-width="1.6" stroke-linejoin="round" stroke-linecap="round"/>
<polyline points="807.1,601.9 803.1,599.9 801.1,595.4" fill="none" stroke="#000" stroke-width="1.6" stroke-linejoin="round" stroke-linecap="round"/>
<polygon points="805.3,577.5 806.6,572.2 810.1,570.0 813.7,568.8 816.8,569.7 818.4,568.2 819.4,571.0 818.7,575.0 819.1,578.8 818.1,581.2 814.6,588.0 812.8,591.0 814.6,596.4 817.1,604.3 814.3,601.7 812.2,604.3 809.3,606.4 806.6,604.4 808.6,601.4 807.4,600.1 806.1,595.2 807.4,589.2 803.3,586.6 806.7,583.2" fill="#000" stroke="#000" stroke-width="1" stroke-linejoin="round"/>
<polygon points="721.6,640.6 725.2,639.0 728.3,641.2 729.6,646.6 733.1,653.7 728.3,649.5 725.2,650.8 720.8,652.5 720.4,649.0 718.0,646.8 720.4,645.4 722.4,642.8" fill="#000" stroke="#000" stroke-width="1" stroke-linejoin="round"/>
<text class="b" x="636.5" y="466.8" font-size="12.6" text-anchor="start">100<tspan dy="-11.1" dx="2.3" font-size="5.6">o</tspan><tspan dy="11.1" dx="4.35">W</tspan></text>
<text class="b" x="705.3" y="466.8" font-size="12.6" text-anchor="start">90<tspan dy="-11.1" dx="2.3" font-size="5.6">o</tspan><tspan dy="11.1" dx="4.35">W</tspan></text>
<text class="b" x="769.3" y="466.8" font-size="12.6" text-anchor="start">80<tspan dy="-11.1" dx="2.3" font-size="5.6">o</tspan><tspan dy="11.1" dx="4.35">W</tspan></text>
<text class="b" x="832.8" y="466.8" font-size="12.6" text-anchor="start">70<tspan dy="-11.1" dx="2.3" font-size="5.6">o</tspan><tspan dy="11.1" dx="4.35">W</tspan></text>
<text class="b" x="567.1" y="502.1" font-size="12.6" text-anchor="start">48<tspan dy="-11.1" dx="2.3" font-size="5.6">o</tspan><tspan dy="11.1" dx="4.35">N</tspan></text>
<text class="b" x="567.1" y="520.5" font-size="12.6" text-anchor="start">46<tspan dy="-11.1" dx="2.3" font-size="5.6">o</tspan><tspan dy="11.1" dx="4.35">N</tspan></text>
<text class="b" x="567.1" y="537.5" font-size="12.6" text-anchor="start">44<tspan dy="-11.1" dx="2.3" font-size="5.6">o</tspan><tspan dy="11.1" dx="4.35">N</tspan></text>
<text class="b" x="567.1" y="556.1" font-size="12.6" text-anchor="start">42<tspan dy="-11.1" dx="2.3" font-size="5.6">o</tspan><tspan dy="11.1" dx="4.35">N</tspan></text>
<text class="b" x="567.1" y="572.5" font-size="12.6" text-anchor="start">40<tspan dy="-11.1" dx="2.3" font-size="5.6">o</tspan><tspan dy="11.1" dx="4.35">N</tspan></text>
<text class="b" x="567.1" y="587.9" font-size="12.6" text-anchor="start">38<tspan dy="-11.1" dx="2.3" font-size="5.6">o</tspan><tspan dy="11.1" dx="4.35">N</tspan></text>
<text class="b" x="567.1" y="604.4" font-size="12.6" text-anchor="start">36<tspan dy="-11.1" dx="2.3" font-size="5.6">o</tspan><tspan dy="11.1" dx="4.35">N</tspan></text>
<text class="b" x="567.1" y="618.6" font-size="12.6" text-anchor="start">34<tspan dy="-11.1" dx="2.3" font-size="5.6">o</tspan><tspan dy="11.1" dx="4.35">N</tspan></text>
<text class="b" x="567.1" y="635.6" font-size="12.6" text-anchor="start">32<tspan dy="-11.1" dx="2.3" font-size="5.6">o</tspan><tspan dy="11.1" dx="4.35">N</tspan></text>
<text class="b" x="567.1" y="649.8" font-size="12.6" text-anchor="start">30<tspan dy="-11.1" dx="2.3" font-size="5.6">o</tspan><tspan dy="11.1" dx="4.35">N</tspan></text>
<text class="b" x="567.1" y="662.4" font-size="12.6" text-anchor="start">28<tspan dy="-11.1" dx="2.3" font-size="5.6">o</tspan><tspan dy="11.1" dx="4.35">N</tspan></text>
<text class="b" x="567.1" y="677.1" font-size="12.6" text-anchor="start">26<tspan dy="-11.1" dx="2.3" font-size="5.6">o</tspan><tspan dy="11.1" dx="4.35">N</tspan></text>
<text class="b" x="567.1" y="691.7" font-size="12.6" text-anchor="start">24<tspan dy="-11.1" dx="2.3" font-size="5.6">o</tspan><tspan dy="11.1" dx="4.35">N</tspan></text>
<text class="b" x="567.1" y="703.8" font-size="12.6" text-anchor="start">22<tspan dy="-11.1" dx="2.3" font-size="5.6">o</tspan><tspan dy="11.1" dx="4.35">N</tspan></text>
<text class="b" x="634.0" y="730.9" font-size="23" textLength="188.2" lengthAdjust="spacing">SAT-RAP CAPE</text>
<rect x="862.1" y="483.2" width="23.8" height="219.5" fill="url(#jet)" stroke="#262626" stroke-width="0.8"/>
<line x1="883.4" x2="885.9" y1="487.5" y2="487.5" stroke="#262626" stroke-width="0.8"/><text class="b" x="894.1" y="495.1" font-size="20.8">1000</text>
<line x1="883.4" x2="885.9" y1="540.2" y2="540.2" stroke="#262626" stroke-width="0.8"/><text class="b" x="894.1" y="547.8" font-size="20.8">500</text>
<line x1="883.4" x2="885.9" y1="592.9" y2="592.9" stroke="#262626" stroke-width="0.8"/><text class="b" x="894.1" y="600.5" font-size="20.8">0</text>
<line x1="883.4" x2="885.9" y1="645.6" y2="645.6" stroke="#262626" stroke-width="0.8"/><text class="b" x="894.1" y="653.2" font-size="20.8">-500</text>
<line x1="883.4" x2="885.9" y1="698.0" y2="698.0" stroke="#262626" stroke-width="0.8"/><text class="b" x="894.1" y="705.6" font-size="20.8">-1000</text>
</g>
<g id="panel6">
<rect x="1038.5" y="485.5" width="234.0" height="215.0" fill="none" stroke="#1a1a1a" stroke-width="1.1"/>
<g fill="none" stroke-linecap="round" stroke-width="8.0"><path stroke="#33ffcc" d="M1208.5 489.0h0"/><path stroke="#4dffb2" d="M1209.8 486.8h0M1210.3 489.1h0"/><path stroke="#66ff99" d="M1212.1 486.6h0M1215.9 488.7h0M1213.2 489.0h0"/><path stroke="#80ff80" d="M1224.6 486.6h0M1222.0 486.8h0M1223.3 488.3h0M1221.2 488.3h0M1218.4 488.3h0M1226.3 489.1h0"/><path stroke="#99ff66" d="M1229.1 488.3h0"/><path stroke="#b3ff4c" d="M1233.2 486.6h0M1237.9 486.8h0M1244.8 488.2h0M1242.3 488.6h0M1231.1 488.8h0M1237.0 489.0h0M1234.6 489.1h0M1239.8 489.1h0"/><path stroke="#ccff33" d="M1248.5 486.7h0M1247.7 488.5h0M1249.4 489.0h0"/><path stroke="#e5ff1a" d="M1260.0 488.6h0M1257.8 488.7h0"/><path stroke="#ffff00" d="M1261.6 486.6h0M1263.8 486.7h0M1259.3 486.7h0M1254.2 486.8h0M1254.6 488.3h0M1252.9 488.6h0M1263.4 488.9h0"/><path stroke="#4dffb2" d="M1209.5 490.8h0M1211.5 491.2h0M1206.9 491.4h0"/><path stroke="#66ff99" d="M1214.8 490.5h0"/><path stroke="#80ff80" d="M1225.4 490.6h0M1222.2 490.9h0M1216.7 491.0h0M1219.5 491.0h0"/><path stroke="#99ff66" d="M1227.3 490.6h0"/><path stroke="#b3ff4c" d="M1235.3 490.9h0M1240.4 491.0h0M1233.0 491.2h0M1238.4 491.2h0M1229.8 491.4h0"/><path stroke="#ccff33" d="M1248.1 491.0h0M1246.1 491.1h0M1243.6 491.2h0"/><path stroke="#e5ff1a" d="M1258.6 490.5h0M1251.0 490.6h0M1261.1 491.3h0M1256.3 491.3h0M1253.3 491.4h0"/><path stroke="#33ffcc" d="M1204.2 495.1h0"/><path stroke="#4dffb2" d="M1204.9 493.0h0M1210.2 493.1h0M1206.2 495.2h0"/><path stroke="#66ff99" d="M1208.2 493.5h0M1209.0 495.0h0M1214.8 495.6h0"/><path stroke="#80ff80" d="M1218.5 493.1h0M1216.3 493.2h0M1221.4 493.3h0M1223.9 493.5h0M1213.7 493.5h0M1217.6 495.3h0M1222.3 495.5h0"/><path stroke="#99ff66" d="M1226.0 492.8h0M1225.2 495.1h0"/><path stroke="#b3ff4c" d="M1229.2 492.9h0M1236.4 493.1h0M1231.2 493.4h0M1239.6 493.6h0M1233.7 493.7h0M1235.2 495.2h0M1253.3 495.2h0M1237.9 495.4h0M1256.3 495.6h0M1227.7 495.6h0M1230.0 495.6h0M1232.8 495.6h0"/><path stroke="#ccff33" d="M1247.3 493.2h0M1258.2 493.2h0M1244.9 493.2h0M1241.7 493.3h0M1260.1 493.4h0M1254.6 493.6h0M1252.6 493.6h0M1248.1 495.1h0M1251.2 495.1h0M1243.0 495.2h0M1241.2 495.5h0"/><path stroke="#e5ff1a" d="M1249.9 493.4h0"/><path stroke="#4dffb2" d="M1208.3 497.6h0M1167.2 498.3h0"/><path stroke="#66ff99" d="M1212.2 495.9h0M1210.7 497.3h0M1205.5 497.4h0"/><path stroke="#80ff80" d="M1219.5 495.9h0M1213.7 497.6h0M1221.5 497.6h0M1218.4 497.9h0M1215.6 498.1h0"/><path stroke="#99ff66" d="M1223.5 497.8h0M1225.9 498.1h0"/><path stroke="#b3ff4c" d="M1259.2 495.7h0M1258.1 497.9h0M1236.8 497.9h0M1229.0 497.9h0M1254.8 498.0h0M1233.7 498.1h0"/><path stroke="#ccff33" d="M1245.7 495.6h0M1244.6 497.3h0M1246.8 497.6h0M1231.4 497.7h0M1250.0 497.8h0M1252.6 498.2h0M1239.7 498.2h0"/><path stroke="#e5ff1a" d="M1241.9 497.6h0"/><path stroke="#33ffcc" d="M1189.2 500.6h0"/><path stroke="#4dffb2" d="M1161.6 499.2h0M1172.8 499.2h0M1206.8 500.0h0M1203.8 500.5h0"/><path stroke="#66ff99" d="M1212.2 499.5h0M1209.5 499.9h0"/><path stroke="#80ff80" d="M1216.7 499.6h0M1219.5 499.7h0M1214.6 499.8h0"/><path stroke="#99ff66" d="M1222.5 500.1h0"/><path stroke="#b3ff4c" d="M1230.4 499.7h0M1255.9 499.7h0M1232.6 499.8h0M1225.0 499.9h0M1235.0 499.9h0M1253.3 500.0h0M1251.1 500.1h0M1228.0 500.4h0"/><path stroke="#ccff33" d="M1240.8 499.8h0M1243.2 499.9h0M1237.8 499.9h0M1248.6 500.1h0"/><path stroke="#e5ff1a" d="M1245.7 499.6h0"/><path stroke="#1affe5" d="M1269.9 504.4h0"/><path stroke="#33ffcc" d="M1185.3 502.2h0"/><path stroke="#4dffb2" d="M1203.1 501.9h0M1205.7 502.2h0M1204.4 504.1h0"/><path stroke="#66ff99" d="M1208.4 501.8h0"/><path stroke="#80ff80" d="M1216.0 502.1h0M1210.6 502.3h0M1213.7 502.3h0M1212.1 504.5h0"/><path stroke="#99ff66" d="M1223.7 501.9h0M1218.6 502.0h0M1220.7 502.7h0M1251.5 504.1h0M1254.0 504.3h0M1225.5 504.3h0M1217.2 504.7h0"/><path stroke="#b3ff4c" d="M1234.4 501.8h0M1237.1 501.8h0M1228.5 501.8h0M1255.3 501.9h0M1226.2 502.4h0M1231.3 502.4h0M1252.2 502.6h0M1247.4 502.7h0M1245.5 504.0h0M1227.4 504.1h0M1233.1 504.2h0M1248.8 504.3h0M1230.6 504.4h0M1243.0 504.4h0"/><path stroke="#ccff33" d="M1244.3 501.8h0M1249.5 502.1h0M1242.3 502.4h0M1239.8 502.4h0M1235.4 504.3h0M1240.6 504.3h0"/><path stroke="#33ffcc" d="M1187.4 506.2h0M1183.3 507.6h0"/><path stroke="#4dffb2" d="M1201.7 504.7h0M1203.1 506.3h0M1171.7 506.4h0"/><path stroke="#66ff99" d="M1205.0 506.4h0M1173.7 506.5h0M1166.1 506.9h0M1168.8 507.1h0M1163.4 507.2h0"/><path stroke="#80ff80" d="M1206.6 504.7h0M1207.8 506.8h0M1218.9 506.9h0M1252.5 506.9h0"/><path stroke="#99ff66" d="M1220.3 504.7h0M1209.8 504.9h0M1214.6 504.9h0M1222.9 505.0h0M1220.9 507.0h0M1216.3 507.1h0M1213.3 507.1h0M1210.4 507.3h0"/><path stroke="#b3ff4c" d="M1237.8 504.8h0M1246.7 506.3h0M1233.9 506.3h0M1236.4 506.8h0M1241.6 506.8h0M1244.6 507.0h0M1223.9 507.1h0M1229.3 507.1h0M1249.5 507.1h0M1239.0 507.2h0"/><path stroke="#ccff33" d="M1226.7 506.5h0M1231.7 507.1h0"/><path stroke="#1affe5" d="M1269.9 509.2h0"/><path stroke="#66ff99" d="M1172.9 508.7h0M1165.2 508.8h0M1175.9 509.4h0M1201.2 509.4h0M1167.4 509.5h0"/><path stroke="#80ff80" d="M1203.7 508.9h0M1170.5 509.2h0"/><path stroke="#99ff66" d="M1207.0 508.7h0M1217.5 509.1h0M1209.1 509.3h0"/><path stroke="#b3ff4c" d="M1251.5 508.7h0M1243.8 508.8h0M1212.1 509.0h0M1224.7 509.0h0M1222.3 509.2h0M1249.0 509.4h0M1219.9 509.4h0M1214.7 509.5h0"/><path stroke="#ccff33" d="M1240.7 508.7h0M1235.3 508.7h0M1237.9 508.9h0M1233.2 509.0h0M1227.6 509.0h0M1230.2 509.1h0M1245.8 509.3h0"/><path stroke="#1affe5" d="M1271.1 510.9h0"/><path stroke="#33ffcc" d="M1268.2 511.1h0M1185.5 511.8h0M1181.9 512.0h0M1269.4 513.4h0"/><path stroke="#66ff99" d="M1181.9 510.8h0M1174.6 511.3h0M1202.4 511.4h0M1179.5 511.4h0M1176.6 511.5h0M1200.0 511.8h0M1201.0 513.2h0"/><path stroke="#80ff80" d="M1168.7 510.8h0M1166.5 510.8h0M1171.6 511.1h0M1163.6 511.3h0M1175.0 513.1h0M1177.6 513.2h0M1172.6 513.3h0M1169.7 513.5h0M1182.9 513.6h0"/><path stroke="#99ff66" d="M1211.1 511.1h0M1205.2 511.5h0M1206.5 513.2h0M1204.6 513.5h0"/><path stroke="#b3ff4c" d="M1218.4 511.0h0M1242.4 511.0h0M1216.1 511.1h0M1224.1 511.2h0M1208.5 511.3h0M1247.5 511.5h0M1213.0 511.6h0M1250.0 511.6h0M1220.9 511.8h0M1217.3 513.2h0M1243.5 513.3h0M1219.7 513.3h0M1214.4 513.4h0M1241.2 513.4h0M1248.2 513.4h0M1211.8 513.4h0"/><path stroke="#ccff33" d="M1233.8 510.9h0M1231.4 511.0h0M1245.1 511.1h0M1237.0 511.2h0M1226.7 511.2h0M1229.1 511.3h0M1239.8 511.4h0M1227.3 513.1h0M1235.1 513.1h0M1230.4 513.1h0M1222.7 513.3h0M1224.7 513.5h0"/><path stroke="#1affe5" d="M1268.0 515.6h0M1270.6 516.0h0"/><path stroke="#66ff99" d="M1173.6 515.4h0M1171.5 515.6h0"/><path stroke="#80ff80" d="M1167.3 513.7h0M1164.7 513.8h0M1199.2 513.8h0M1180.6 514.0h0M1250.3 515.4h0M1200.3 515.7h0M1179.8 515.8h0M1166.0 516.1h0M1176.4 516.2h0M1168.6 516.3h0M1181.5 516.3h0"/><path stroke="#99ff66" d="M1247.5 515.4h0M1244.3 516.2h0"/><path stroke="#b3ff4c" d="M1245.5 513.7h0M1209.0 513.9h0M1241.5 515.5h0M1237.2 515.6h0M1213.5 515.6h0M1216.1 515.7h0M1205.4 515.8h0M1210.8 515.8h0M1239.7 515.9h0M1203.0 516.2h0"/><path stroke="#ccff33" d="M1232.7 513.8h0M1238.2 513.8h0M1223.4 515.3h0M1218.7 515.4h0M1208.1 515.6h0M1221.0 515.7h0M1229.3 515.7h0M1231.8 516.1h0M1234.6 516.2h0M1226.1 516.3h0"/><path stroke="#00ffff" d="M1266.8 517.9h0M1269.6 518.5h0"/><path stroke="#4dffb2" d="M1248.9 518.0h0"/><path stroke="#66ff99" d="M1170.1 517.9h0M1172.7 518.0h0M1180.8 518.3h0M1245.7 518.4h0M1182.8 518.5h0"/><path stroke="#80ff80" d="M1167.4 517.8h0M1178.2 518.1h0M1175.8 518.3h0M1164.9 518.4h0"/><path stroke="#99ff66" d="M1199.0 518.0h0"/><path stroke="#b3ff4c" d="M1206.4 517.6h0M1243.0 517.8h0M1238.5 517.9h0M1233.0 517.9h0M1209.6 517.9h0M1204.0 518.1h0M1216.9 518.2h0M1229.9 518.2h0M1240.7 518.5h0M1202.0 518.6h0"/><path stroke="#ccff33" d="M1225.4 517.7h0M1227.7 517.8h0M1211.6 517.8h0M1235.4 517.8h0M1222.6 517.9h0M1219.6 517.9h0M1214.9 518.6h0"/><path stroke="#00e5ff" d="M1267.3 522.5h0"/><path stroke="#00ffff" d="M1270.2 520.0h0M1267.6 520.3h0M1265.4 520.4h0M1263.7 522.7h0"/><path stroke="#4dffb2" d="M1250.1 520.3h0M1247.6 520.6h0M1249.0 522.5h0M1251.4 522.7h0"/><path stroke="#66ff99" d="M1181.5 520.6h0M1183.5 522.1h0M1245.7 522.5h0"/><path stroke="#80ff80" d="M1179.3 520.1h0M1168.5 520.1h0M1244.5 520.2h0M1165.8 520.8h0M1180.4 522.2h0"/><path stroke="#99ff66" d="M1197.7 520.3h0M1171.6 520.3h0M1177.2 520.6h0M1174.1 520.7h0M1198.8 522.2h0M1196.2 522.4h0"/><path stroke="#b3ff4c" d="M1200.5 520.5h0M1207.6 520.8h0M1167.5 522.3h0M1175.6 522.4h0M1233.0 522.5h0M1243.4 522.6h0"/><path stroke="#ccff33" d="M1239.2 519.9h0M1221.1 519.9h0M1226.8 519.9h0M1223.9 520.0h0M1210.3 520.1h0M1231.4 520.1h0M1215.8 520.2h0M1236.5 520.3h0M1203.3 520.3h0M1205.0 520.3h0M1228.8 520.4h0M1234.3 520.5h0M1241.8 520.5h0M1218.7 520.6h0M1213.0 520.8h0M1237.8 522.1h0M1204.6 522.2h0M1216.8 522.5h0M1240.4 522.5h0M1235.7 522.5h0M1224.8 522.5h0M1222.0 522.6h0"/><path stroke="#e5ff1a" d="M1212.1 522.4h0"/><path stroke="#00e5ff" d="M1262.5 524.4h0M1265.7 525.0h0"/><path stroke="#00ffff" d="M1255.3 525.1h0M1270.5 525.2h0M1260.5 525.3h0M1267.8 525.3h0M1257.7 525.4h0"/><path stroke="#1affe5" d="M1269.6 522.9h0"/><path stroke="#33ffcc" d="M1249.6 524.9h0M1252.2 525.3h0"/><path stroke="#4dffb2" d="M1182.1 524.7h0M1247.1 525.1h0"/><path stroke="#66ff99" d="M1184.3 524.5h0M1179.2 524.7h0"/><path stroke="#80ff80" d="M1244.2 524.6h0"/><path stroke="#99ff66" d="M1178.2 522.9h0M1165.8 524.5h0M1177.1 524.6h0M1197.6 525.3h0"/><path stroke="#b3ff4c" d="M1201.3 522.9h0M1165.4 523.0h0M1199.8 524.5h0M1229.0 524.8h0M1241.9 524.8h0M1205.9 524.8h0M1237.0 524.8h0M1202.7 524.9h0M1234.5 525.2h0M1239.8 525.3h0M1231.5 525.3h0"/><path stroke="#ccff33" d="M1230.5 522.9h0M1206.4 522.9h0M1214.5 522.9h0M1209.1 523.0h0M1169.7 523.0h0M1219.8 523.1h0M1207.9 524.4h0M1215.8 524.5h0M1224.2 524.7h0M1221.0 524.7h0M1171.6 524.8h0M1225.9 524.8h0M1169.3 524.9h0M1174.3 525.0h0M1218.8 525.1h0M1210.5 525.1h0M1213.2 525.3h0"/><path stroke="#e5ff1a" d="M1228.0 522.9h0M1172.9 523.1h0"/><path stroke="#00ffff" d="M1269.2 527.0h0M1264.6 527.2h0M1266.9 527.2h0M1259.4 527.4h0M1261.7 527.5h0M1255.9 527.5h0"/><path stroke="#1affe5" d="M1254.0 526.8h0M1271.9 527.5h0"/><path stroke="#33ffcc" d="M1251.0 526.7h0"/><path stroke="#4dffb2" d="M1185.4 526.9h0M1248.5 527.3h0M1183.1 527.5h0"/><path stroke="#66ff99" d="M1180.1 527.0h0M1243.7 527.5h0M1245.8 527.6h0"/><path stroke="#80ff80" d="M1178.2 527.1h0"/><path stroke="#99ff66" d="M1164.7 526.9h0M1237.9 527.0h0M1235.1 527.1h0M1240.8 527.3h0"/><path stroke="#b3ff4c" d="M1230.2 526.8h0M1233.3 527.6h0"/><path stroke="#ccff33" d="M1167.6 526.6h0M1207.0 526.7h0M1220.0 526.9h0M1209.5 527.0h0M1196.7 527.0h0M1227.5 527.4h0M1224.7 527.6h0"/><path stroke="#e5ff1a" d="M1170.4 526.7h0M1172.9 527.0h0M1175.8 527.0h0M1204.5 527.1h0M1212.2 527.3h0M1201.9 527.4h0M1199.3 527.4h0M1222.4 527.5h0M1215.0 527.5h0M1217.5 527.6h0"/><path stroke="#00e5ff" d="M1263.3 529.1h0M1254.8 529.5h0M1260.0 529.6h0M1265.9 529.7h0M1268.3 529.8h0M1259.0 531.7h0"/><path stroke="#00ffff" d="M1258.0 529.3h0M1270.9 529.3h0M1252.6 529.8h0M1251.3 531.2h0M1266.6 531.3h0M1271.9 531.4h0M1253.6 531.5h0M1264.5 531.7h0"/><path stroke="#1affe5" d="M1250.1 529.4h0"/><path stroke="#4dffb2" d="M1241.9 529.3h0M1244.2 529.3h0M1247.3 529.6h0M1243.1 531.3h0M1245.4 531.4h0M1248.6 531.6h0"/><path stroke="#66ff99" d="M1239.7 529.7h0M1181.9 529.9h0M1184.4 529.9h0M1240.4 531.4h0M1237.7 531.7h0"/><path stroke="#80ff80" d="M1178.9 529.1h0M1182.9 531.7h0"/><path stroke="#99ff66" d="M1234.3 528.9h0M1236.4 529.5h0M1180.9 531.7h0"/><path stroke="#b3ff4c" d="M1231.8 529.2h0M1226.8 529.4h0M1166.0 529.5h0M1229.2 529.8h0M1230.7 531.3h0M1225.1 531.3h0"/><path stroke="#ccff33" d="M1176.7 529.0h0M1207.9 529.2h0M1169.1 529.4h0M1223.3 529.9h0M1168.0 531.6h0M1178.4 531.7h0"/><path stroke="#e5ff1a" d="M1200.3 529.0h0M1197.2 529.1h0M1216.0 529.1h0M1202.5 529.3h0M1173.9 529.5h0M1213.0 529.5h0M1221.4 529.6h0M1218.2 529.6h0M1211.1 529.6h0M1171.4 529.7h0M1195.1 529.8h0M1217.2 531.2h0M1196.4 531.3h0M1170.6 531.3h0M1211.5 531.3h0M1209.3 531.3h0M1222.6 531.6h0M1175.3 531.6h0M1204.4 531.7h0M1214.5 531.7h0"/><path stroke="#ffff00" d="M1205.8 529.9h0"/><path stroke="#00e5ff" d="M1261.4 532.1h0M1260.1 534.0h0"/><path stroke="#00ffff" d="M1269.0 531.8h0M1256.4 532.1h0M1267.9 533.6h0M1255.2 533.7h0M1252.6 533.7h0M1257.9 533.8h0M1271.2 533.9h0M1262.4 534.3h0M1266.0 534.4h0"/><path stroke="#1affe5" d="M1250.2 533.6h0"/><path stroke="#4dffb2" d="M1244.3 533.5h0M1247.3 534.1h0M1241.9 534.2h0"/><path stroke="#66ff99" d="M1239.7 534.1h0"/><path stroke="#80ff80" d="M1237.2 534.1h0"/><path stroke="#b3ff4c" d="M1228.1 532.0h0M1235.9 532.0h0M1164.9 532.0h0M1185.4 532.0h0M1233.2 532.0h0M1234.1 533.4h0M1231.8 533.5h0M1226.0 533.7h0M1228.7 534.0h0"/><path stroke="#ccff33" d="M1165.8 533.5h0"/><path stroke="#e5ff1a" d="M1173.0 531.9h0M1201.8 531.9h0M1219.4 532.0h0M1210.8 533.4h0M1223.4 533.5h0M1194.6 533.6h0M1179.3 533.9h0M1184.7 534.2h0M1181.9 534.3h0M1220.8 534.4h0"/><path stroke="#ffff00" d="M1207.1 532.0h0M1199.2 532.1h0M1202.5 533.7h0M1213.2 533.7h0M1208.0 534.0h0M1187.1 534.1h0M1218.8 534.1h0M1205.0 534.3h0M1200.7 534.3h0M1197.4 534.3h0M1215.7 534.3h0M1169.2 534.4h0"/><path stroke="#ffe500" d="M1173.8 533.5h0M1171.9 533.8h0M1176.7 534.2h0"/><path stroke="#00e5ff" d="M1258.8 536.1h0M1261.1 536.5h0"/><path stroke="#00ffff" d="M1253.6 535.7h0M1269.3 535.9h0M1266.4 535.9h0M1264.6 536.0h0M1256.5 536.3h0"/><path stroke="#1affe5" d="M1250.8 536.0h0M1271.7 536.1h0"/><path stroke="#33ffcc" d="M1248.3 536.3h0M1243.2 536.6h0"/><path stroke="#4dffb2" d="M1246.4 536.0h0"/><path stroke="#66ff99" d="M1238.0 536.5h0M1240.8 536.7h0"/><path stroke="#99ff66" d="M1235.7 535.7h0M1232.8 536.4h0M1230.0 536.5h0"/><path stroke="#b3ff4c" d="M1227.6 536.3h0"/><path stroke="#ccff33" d="M1222.4 535.8h0M1224.7 536.2h0"/><path stroke="#e5ff1a" d="M1167.5 535.9h0M1220.1 535.9h0M1211.8 536.1h0M1217.6 536.1h0M1190.9 536.1h0M1208.9 536.3h0M1214.1 536.6h0M1185.7 536.6h0M1194.1 536.6h0"/><path stroke="#ffff00" d="M1203.9 536.1h0M1201.7 536.1h0M1206.8 536.2h0M1182.9 536.2h0M1188.8 536.4h0M1199.3 536.4h0M1196.5 536.6h0M1180.6 536.6h0"/><path stroke="#ffe500" d="M1175.5 535.8h0M1178.0 536.0h0M1170.5 536.5h0M1173.2 536.7h0"/><path stroke="#00ffff" d="M1255.0 538.1h0M1262.4 538.6h0M1258.0 538.7h0"/><path stroke="#1affe5" d="M1252.3 538.0h0M1250.1 538.1h0M1260.3 538.4h0M1265.6 538.6h0M1267.7 538.6h0M1270.3 538.8h0M1253.8 540.4h0M1258.6 540.5h0M1261.9 540.8h0"/><path stroke="#33ffcc" d="M1247.5 538.3h0M1244.3 538.4h0M1263.7 540.3h0M1251.3 540.5h0M1245.8 540.8h0"/><path stroke="#4dffb2" d="M1241.8 538.8h0"/><path stroke="#66ff99" d="M1236.6 537.9h0M1239.8 538.0h0"/><path stroke="#80ff80" d="M1234.3 538.5h0M1231.5 538.8h0"/><path stroke="#99ff66" d="M1230.2 540.5h0"/><path stroke="#b3ff4c" d="M1229.1 538.0h0M1223.6 538.1h0M1226.8 538.8h0"/><path stroke="#ccff33" d="M1218.0 538.0h0M1166.0 538.3h0M1221.5 538.7h0M1225.5 540.3h0M1217.5 540.4h0M1222.4 540.4h0M1220.2 540.5h0"/><path stroke="#e5ff1a" d="M1215.4 538.3h0"/><path stroke="#ffff00" d="M1179.2 538.0h0M1213.3 538.0h0M1186.8 538.2h0M1205.1 538.3h0M1189.8 538.4h0M1181.5 538.5h0M1208.2 538.6h0M1210.9 538.6h0M1203.1 538.7h0M1195.4 538.9h0M1185.0 538.9h0M1209.7 540.3h0M1214.2 540.5h0"/><path stroke="#ffe500" d="M1198.0 538.2h0M1176.6 538.4h0M1171.8 538.4h0M1192.3 538.6h0M1200.0 538.7h0M1174.1 538.7h0M1169.3 538.9h0M1173.2 540.3h0M1204.0 540.4h0M1170.2 540.4h0M1188.4 540.5h0M1198.4 540.6h0"/><path stroke="#ffcc00" d="M1193.6 540.5h0M1175.1 540.6h0M1177.7 540.6h0M1201.7 540.7h0M1181.0 540.8h0"/><path stroke="#00ffff" d="M1256.1 541.0h0M1254.6 542.8h0M1259.9 542.9h0M1257.8 543.4h0"/><path stroke="#1affe5" d="M1268.5 542.7h0M1242.3 542.8h0M1265.4 543.0h0M1263.0 543.0h0M1252.8 543.1h0"/><path stroke="#33ffcc" d="M1267.1 540.9h0M1269.1 540.9h0M1241.2 541.0h0M1243.6 541.1h0M1248.1 541.1h0M1250.3 542.5h0M1245.0 542.7h0M1270.9 542.7h0M1247.6 542.8h0"/><path stroke="#4dffb2" d="M1239.8 542.5h0"/><path stroke="#66ff99" d="M1238.1 541.2h0M1234.3 542.8h0M1236.5 543.3h0"/><path stroke="#80ff80" d="M1235.6 541.1h0M1233.3 541.2h0"/><path stroke="#99ff66" d="M1229.0 543.3h0M1231.2 543.5h0"/><path stroke="#b3ff4c" d="M1228.0 541.1h0M1224.1 542.5h0M1221.5 542.6h0M1226.1 542.8h0"/><path stroke="#ccff33" d="M1166.1 542.5h0M1216.3 542.6h0M1218.2 542.9h0"/><path stroke="#e5ff1a" d="M1167.3 541.1h0M1210.6 543.0h0M1207.6 543.2h0M1213.7 543.2h0"/><path stroke="#ffff00" d="M1207.2 540.9h0M1212.1 541.0h0M1185.8 541.2h0M1205.2 543.0h0M1169.0 543.1h0"/><path stroke="#ffe500" d="M1183.3 540.9h0M1191.3 541.0h0M1196.6 541.0h0M1171.3 542.5h0M1189.4 542.7h0M1200.7 543.0h0M1203.3 543.3h0M1197.8 543.4h0M1194.6 543.4h0M1192.4 543.4h0"/><path stroke="#ffcc00" d="M1186.8 542.7h0M1184.9 542.7h0M1181.9 542.8h0M1176.8 543.2h0"/><path stroke="#ffb300" d="M1179.3 543.4h0M1174.5 543.5h0"/><path stroke="#00ffff" d="M1255.9 544.9h0"/><path stroke="#1affe5" d="M1259.3 545.1h0M1261.4 545.2h0"/><path stroke="#33ffcc" d="M1264.0 544.8h0M1245.7 544.8h0M1253.7 544.9h0M1269.3 545.4h0M1267.3 545.6h0"/><path stroke="#4dffb2" d="M1250.7 544.9h0M1242.9 545.2h0"/><path stroke="#66ff99" d="M1248.6 545.3h0M1241.0 545.4h0"/><path stroke="#80ff80" d="M1235.7 545.2h0M1238.2 545.7h0"/><path stroke="#99ff66" d="M1232.9 545.5h0"/><path stroke="#b3ff4c" d="M1225.2 544.7h0M1227.8 545.1h0M1230.0 545.4h0M1222.4 545.6h0"/><path stroke="#ccff33" d="M1220.1 544.7h0M1216.9 545.6h0M1215.0 545.7h0"/><path stroke="#ffff00" d="M1209.2 544.9h0M1206.8 545.0h0M1167.9 545.2h0M1212.1 545.6h0"/><path stroke="#ffe500" d="M1204.6 544.8h0M1199.3 544.9h0"/><path stroke="#ffcc00" d="M1195.9 545.2h0M1191.1 545.3h0M1170.3 545.4h0M1193.7 545.5h0M1201.2 545.7h0"/><path stroke="#ffb300" d="M1177.8 544.9h0M1173.3 545.3h0M1175.5 545.4h0M1180.7 545.5h0M1183.4 545.7h0"/><path stroke="#ff9900" d="M1186.0 545.0h0M1188.4 545.6h0"/><path stroke="#4dffb2" d="M1262.6 547.1h0M1270.4 547.4h0M1268.5 547.7h0M1265.8 548.0h0"/><path stroke="#66ff99" d="M1260.2 547.4h0"/><path stroke="#80ff80" d="M1242.2 547.1h0M1244.6 547.5h0M1239.9 548.0h0M1241.0 549.4h0M1238.6 549.6h0"/><path stroke="#99ff66" d="M1249.9 547.3h0M1247.6 547.3h0M1234.3 547.5h0M1252.0 547.7h0M1237.3 547.7h0M1254.9 547.8h0M1257.8 547.9h0M1243.1 549.3h0M1233.3 549.8h0"/><path stroke="#b3ff4c" d="M1229.0 547.2h0M1231.2 547.5h0M1226.6 547.7h0"/><path stroke="#ccff33" d="M1215.4 547.2h0M1224.2 547.7h0M1221.5 547.7h0M1225.0 549.3h0"/><path stroke="#e5ff1a" d="M1218.9 547.1h0M1210.2 547.2h0M1213.5 547.2h0M1214.9 549.6h0"/><path stroke="#ffff00" d="M1205.1 547.2h0M1166.4 547.7h0M1207.8 547.8h0M1209.0 549.9h0"/><path stroke="#ffe500" d="M1168.9 547.4h0M1202.6 547.6h0M1204.0 549.5h0"/><path stroke="#ffcc00" d="M1200.5 547.9h0"/><path stroke="#ffb300" d="M1173.7 547.1h0M1192.5 547.1h0M1194.6 547.2h0M1197.8 547.4h0M1171.2 547.5h0M1177.1 547.5h0M1170.1 549.5h0M1201.2 549.5h0"/><path stroke="#ff9900" d="M1181.5 547.1h0M1184.2 547.2h0M1190.1 547.5h0M1179.7 547.6h0M1186.7 547.7h0M1173.0 549.3h0M1175.6 549.5h0"/><path stroke="#ff8000" d="M1193.7 549.3h0M1191.3 549.6h0"/><path stroke="#80ff80" d="M1267.1 550.0h0M1235.4 550.2h0"/><path stroke="#99ff66" d="M1264.6 550.1h0"/><path stroke="#b3ff4c" d="M1227.4 550.1h0M1230.1 550.1h0M1222.3 550.2h0M1241.5 551.9h0M1239.9 552.3h0"/><path stroke="#ccff33" d="M1220.3 550.0h0M1245.5 550.0h0M1248.7 550.0h0M1217.5 550.0h0M1261.5 550.1h0M1251.0 550.1h0M1228.9 551.7h0M1237.2 552.2h0M1234.0 552.4h0M1231.1 552.5h0"/><path stroke="#e5ff1a" d="M1212.3 550.0h0M1254.2 550.1h0M1247.1 551.5h0M1262.7 551.6h0M1250.1 551.7h0M1223.5 551.9h0M1226.6 552.1h0M1218.6 552.3h0M1213.8 552.3h0M1244.3 552.4h0M1221.4 552.5h0"/><path stroke="#ffff00" d="M1258.8 549.9h0M1206.4 550.2h0M1256.6 550.3h0M1210.4 551.6h0M1208.5 551.7h0M1216.1 551.7h0M1260.2 552.0h0M1252.8 552.5h0"/><path stroke="#ffe500" d="M1255.1 552.2h0"/><path stroke="#ffcc00" d="M1257.4 552.3h0M1205.8 552.4h0"/><path stroke="#ffb300" d="M1167.4 550.2h0M1203.3 552.4h0"/><path stroke="#ff9900" d="M1199.1 550.0h0M1196.3 550.0h0M1188.0 550.1h0"/><path stroke="#ff8000" d="M1177.9 550.1h0M1185.8 550.2h0M1183.7 550.3h0M1198.1 551.5h0M1186.9 551.6h0M1171.4 551.9h0M1168.7 552.1h0M1174.0 552.2h0M1200.5 552.3h0"/><path stroke="#ff6600" d="M1180.8 550.0h0M1194.7 551.6h0M1176.7 551.7h0M1192.1 552.0h0M1182.0 552.1h0M1184.3 552.2h0M1179.6 552.2h0"/><path stroke="#ff4c00" d="M1190.2 552.1h0"/><path stroke="#b3ff4c" d="M1235.6 553.9h0M1238.6 554.1h0M1240.7 554.5h0"/><path stroke="#ccff33" d="M1233.0 554.0h0M1224.6 554.1h0M1230.5 554.7h0M1227.5 554.7h0"/><path stroke="#e5ff1a" d="M1248.5 553.8h0M1245.6 553.9h0M1243.8 554.1h0M1214.8 554.1h0M1219.8 554.1h0M1212.4 554.2h0M1217.6 554.6h0M1222.5 554.8h0"/><path stroke="#ffff00" d="M1251.3 554.3h0M1209.5 554.4h0M1259.1 554.6h0"/><path stroke="#ffe500" d="M1256.2 554.3h0M1253.9 554.5h0"/><path stroke="#ffcc00" d="M1206.8 554.0h0"/><path stroke="#ffb300" d="M1204.2 554.6h0"/><path stroke="#ff9900" d="M1172.8 554.1h0M1201.6 554.2h0M1199.0 554.5h0"/><path stroke="#ff8000" d="M1169.7 554.4h0M1196.3 554.7h0M1174.9 554.8h0"/><path stroke="#ff6600" d="M1188.2 553.8h0M1185.8 554.1h0M1193.3 554.3h0M1177.7 554.3h0M1180.8 554.4h0M1191.4 554.5h0M1183.4 554.7h0"/><path stroke="#b3ff4c" d="M1237.0 556.2h0"/><path stroke="#ccff33" d="M1234.6 556.4h0M1228.8 556.7h0M1239.1 556.8h0"/><path stroke="#e5ff1a" d="M1246.8 556.3h0M1226.0 556.4h0M1218.7 556.5h0M1221.0 556.6h0M1224.2 556.6h0M1216.0 556.6h0M1244.9 556.7h0M1242.4 556.8h0M1231.1 556.9h0"/><path stroke="#ffff00" d="M1249.6 556.2h0M1254.7 556.3h0M1252.5 556.5h0M1257.7 556.5h0M1213.5 556.8h0"/><path stroke="#ffe500" d="M1210.7 557.0h0M1254.0 558.3h0M1251.3 558.4h0M1225.3 558.5h0M1236.0 558.7h0M1245.6 558.7h0M1243.0 558.8h0"/><path stroke="#ffcc00" d="M1208.3 557.0h0M1238.2 558.3h0M1216.8 558.3h0M1227.8 558.8h0M1219.5 558.8h0M1212.2 558.8h0"/><path stroke="#ffb300" d="M1205.4 556.5h0M1214.5 558.4h0"/><path stroke="#ff9900" d="M1198.0 556.2h0M1200.0 556.3h0M1202.6 556.9h0M1171.0 556.9h0M1206.8 558.7h0"/><path stroke="#ff8000" d="M1182.0 556.4h0M1176.5 556.6h0M1174.5 556.6h0"/><path stroke="#ff6600" d="M1189.3 556.1h0M1195.5 556.4h0M1187.3 556.6h0M1192.8 556.8h0M1179.0 556.8h0M1184.9 556.9h0M1201.8 558.5h0M1178.2 558.6h0M1175.7 558.9h0"/><path stroke="#ff4c00" d="M1185.5 558.5h0M1180.5 558.6h0"/><path stroke="#ff3300" d="M1183.5 558.5h0M1193.3 558.7h0M1190.9 558.8h0"/><path stroke="#ffff00" d="M1252.4 560.7h0M1255.0 561.0h0"/><path stroke="#ffe500" d="M1233.2 559.0h0M1256.3 559.1h0M1222.0 559.2h0M1231.4 560.6h0M1244.6 560.9h0M1249.6 561.0h0"/><path stroke="#ffcc00" d="M1230.0 559.0h0M1248.3 559.3h0M1223.4 560.7h0M1242.4 560.7h0M1228.7 560.9h0M1221.0 561.0h0M1218.9 561.1h0M1247.1 561.1h0M1239.7 561.2h0M1236.3 561.4h0M1225.9 561.5h0M1215.7 561.5h0"/><path stroke="#ffb300" d="M1209.4 559.3h0M1240.3 559.3h0M1208.5 560.6h0M1210.4 560.9h0M1213.6 561.4h0M1233.8 561.5h0"/><path stroke="#ff9900" d="M1205.8 561.3h0"/><path stroke="#ff8000" d="M1203.7 559.1h0M1202.6 560.9h0M1200.0 561.1h0M1174.0 561.4h0"/><path stroke="#ff6600" d="M1172.4 559.0h0M1198.6 559.1h0M1176.3 560.7h0M1197.6 560.7h0"/><path stroke="#ff4c00" d="M1188.4 559.2h0M1196.5 559.3h0M1179.6 560.7h0M1181.9 561.1h0M1185.0 561.2h0M1187.0 561.6h0"/><path stroke="#ff3300" d="M1190.0 560.7h0M1194.9 560.7h0M1192.5 561.4h0"/><path stroke="#ffff00" d="M1254.1 562.8h0"/><path stroke="#ffe500" d="M1256.2 563.7h0"/><path stroke="#ffcc00" d="M1245.8 563.1h0M1229.8 563.1h0M1248.1 563.3h0M1243.1 563.4h0M1227.3 563.4h0M1251.3 563.7h0"/><path stroke="#ffb300" d="M1211.6 562.9h0M1235.1 563.0h0M1238.5 563.2h0M1225.3 563.4h0M1233.0 563.4h0M1214.5 563.4h0M1240.8 563.5h0M1222.0 563.6h0M1220.0 563.8h0"/><path stroke="#ff9900" d="M1217.6 563.3h0M1209.2 563.4h0"/><path stroke="#ff8000" d="M1199.4 563.4h0M1207.0 563.5h0M1203.9 563.6h0"/><path stroke="#ff6600" d="M1201.8 563.2h0M1175.4 563.3h0"/><path stroke="#ff4c00" d="M1182.9 563.0h0M1180.9 563.1h0M1178.2 563.7h0M1185.8 563.8h0"/><path stroke="#ff3300" d="M1188.0 562.9h0M1191.3 563.2h0M1196.1 563.7h0"/><path stroke="#ff1a00" d="M1193.6 563.4h0"/><path stroke="#ffff00" d="M1257.8 565.8h0"/><path stroke="#ffe500" d="M1255.2 565.6h0M1252.6 565.7h0M1256.1 567.4h0M1253.7 567.7h0"/><path stroke="#ffcc00" d="M1245.0 565.1h0M1247.6 565.4h0M1249.8 565.5h0M1248.4 567.4h0M1250.8 567.9h0"/><path stroke="#ffb300" d="M1212.8 565.1h0M1239.1 565.1h0M1228.8 565.3h0M1226.6 565.3h0M1231.5 565.3h0M1242.4 565.4h0M1236.9 565.8h0M1246.0 567.7h0"/><path stroke="#ff9900" d="M1210.5 565.5h0M1234.2 565.6h0M1224.2 565.9h0M1215.8 565.9h0M1218.2 566.0h0"/><path stroke="#ff8000" d="M1204.9 565.7h0M1221.2 565.9h0M1203.2 565.9h0M1207.7 565.9h0M1235.8 567.4h0M1211.7 567.4h0M1217.1 567.4h0M1240.6 567.4h0M1232.8 567.8h0"/><path stroke="#ff6600" d="M1200.2 565.2h0M1176.5 565.4h0M1197.6 565.5h0M1228.0 567.5h0M1201.0 567.6h0M1230.4 567.7h0M1219.4 567.8h0M1225.4 567.9h0M1175.7 568.0h0"/><path stroke="#ff4c00" d="M1189.4 565.6h0M1182.1 565.6h0M1179.5 565.8h0M1184.8 565.9h0M1178.4 567.4h0M1198.8 567.4h0M1182.9 567.5h0M1180.5 567.6h0"/><path stroke="#ff3300" d="M1187.5 565.3h0M1194.9 565.5h0M1192.8 566.1h0M1190.7 567.4h0M1188.4 567.9h0"/><path stroke="#ffe500" d="M1251.9 570.3h0M1255.1 570.4h0M1247.2 570.4h0M1257.7 570.6h0"/><path stroke="#ffcc00" d="M1249.4 569.7h0"/><path stroke="#ff9900" d="M1245.0 570.5h0"/><path stroke="#ff8000" d="M1243.2 568.0h0M1206.5 568.2h0M1214.6 568.3h0M1237.9 568.4h0M1212.8 569.7h0M1208.3 569.8h0M1210.6 570.0h0M1234.2 570.1h0M1236.5 570.1h0M1205.3 570.2h0"/><path stroke="#ff6600" d="M1204.5 568.0h0M1222.4 568.3h0M1209.6 568.3h0M1215.4 569.8h0M1176.8 570.2h0M1218.3 570.2h0M1202.7 570.2h0M1220.9 570.4h0M1242.4 570.4h0M1239.3 570.5h0"/><path stroke="#ff4c00" d="M1196.2 568.3h0M1195.4 569.6h0M1184.8 569.9h0M1182.3 570.2h0M1179.2 570.2h0M1223.6 570.2h0M1199.8 570.2h0M1197.5 570.2h0M1231.1 570.3h0M1228.7 570.3h0M1226.1 570.5h0"/><path stroke="#ff3300" d="M1186.0 568.0h0M1193.9 568.2h0M1190.2 569.7h0M1187.6 570.2h0M1192.3 570.3h0"/><path stroke="#ffe500" d="M1256.7 572.1h0M1251.0 572.1h0M1253.3 572.4h0M1248.6 572.4h0"/><path stroke="#ffcc00" d="M1246.0 572.7h0"/><path stroke="#ff9900" d="M1206.7 572.0h0"/><path stroke="#ff8000" d="M1204.3 572.3h0M1212.3 572.4h0M1209.5 572.6h0"/><path stroke="#ff6600" d="M1201.6 572.1h0M1237.6 572.3h0M1178.0 572.4h0M1235.5 572.4h0M1243.1 572.8h0M1217.0 572.8h0"/><path stroke="#ff4c00" d="M1232.4 571.9h0M1230.5 572.0h0M1222.2 572.1h0M1219.8 572.1h0M1196.8 572.4h0M1214.9 572.4h0M1193.7 572.5h0M1227.5 572.6h0M1180.5 572.7h0M1240.9 572.7h0M1224.8 572.8h0M1199.1 572.9h0"/><path stroke="#ff3300" d="M1182.9 571.9h0M1185.6 572.7h0M1190.7 572.8h0M1188.6 572.8h0"/><path stroke="#ffe500" d="M1255.0 574.7h0M1250.0 574.7h0M1253.8 576.9h0"/><path stroke="#ffcc00" d="M1247.6 574.5h0M1252.4 575.1h0"/><path stroke="#ff9900" d="M1244.8 574.9h0M1243.8 576.9h0"/><path stroke="#ff8000" d="M1205.6 574.5h0M1208.2 574.9h0M1202.8 574.9h0M1240.7 576.5h0M1238.1 576.6h0M1235.6 576.8h0"/><path stroke="#ff6600" d="M1200.6 574.2h0M1179.2 574.3h0M1218.7 574.5h0M1213.3 574.6h0M1239.5 574.6h0M1233.7 574.7h0M1216.1 574.8h0M1210.9 574.9h0M1241.7 575.1h0M1237.2 575.1h0M1220.2 576.6h0M1216.9 576.8h0M1212.2 576.8h0"/><path stroke="#ff4c00" d="M1195.3 574.2h0M1231.8 574.4h0M1221.3 574.4h0M1224.0 574.5h0M1228.7 574.6h0M1192.2 574.7h0M1225.9 574.7h0M1197.4 574.9h0M1190.1 575.0h0M1182.1 575.0h0M1184.6 575.1h0M1193.4 576.6h0M1180.9 576.8h0M1227.9 576.9h0M1186.2 576.9h0M1222.0 576.9h0"/><path stroke="#ff3300" d="M1186.9 574.6h0M1188.9 576.6h0"/><path stroke="#ffe500" d="M1251.3 577.1h0M1252.4 579.1h0M1250.3 579.5h0M1247.5 579.6h0"/><path stroke="#ffcc00" d="M1248.7 577.3h0M1241.7 579.4h0"/><path stroke="#ffb300" d="M1246.1 577.3h0M1239.8 578.8h0M1244.6 578.8h0"/><path stroke="#ff9900" d="M1205.1 578.7h0M1236.9 579.4h0"/><path stroke="#ff8000" d="M1203.8 577.2h0M1206.7 577.2h0M1201.3 577.4h0M1209.5 577.4h0M1200.3 578.7h0M1208.0 579.0h0M1210.6 579.0h0M1203.1 579.5h0M1234.0 579.6h0"/><path stroke="#ff6600" d="M1232.4 577.0h0M1196.0 577.2h0M1214.8 577.2h0M1199.0 577.3h0M1228.6 579.1h0M1216.3 579.1h0M1218.4 579.2h0M1184.9 579.3h0M1197.7 579.3h0M1226.4 579.3h0M1181.5 579.3h0M1194.7 579.5h0M1212.8 579.6h0"/><path stroke="#ff4c00" d="M1191.1 577.0h0M1230.6 577.1h0M1224.6 577.2h0M1183.5 577.4h0M1221.6 578.8h0M1190.1 578.9h0M1223.7 579.0h0M1187.4 579.1h0M1231.1 579.5h0M1192.6 579.6h0"/><path stroke="#ffe500" d="M1248.8 581.0h0"/><path stroke="#ffcc00" d="M1246.1 581.5h0"/><path stroke="#ffb300" d="M1240.4 581.5h0M1243.1 581.8h0"/><path stroke="#ff9900" d="M1238.5 581.7h0"/><path stroke="#ff8000" d="M1201.6 581.1h0M1206.6 581.1h0M1199.2 581.2h0M1204.0 581.8h0M1235.5 581.9h0M1209.4 581.9h0"/><path stroke="#ff6600" d="M1196.7 581.1h0M1183.3 581.5h0M1211.6 581.5h0"/><path stroke="#ff4c00" d="M1217.6 581.0h0M1227.3 581.0h0M1214.6 581.3h0M1230.7 581.7h0M1232.4 581.7h0M1222.0 581.9h0M1225.0 581.9h0M1186.2 581.9h0"/><path stroke="#ff3300" d="M1193.3 581.0h0M1220.2 581.5h0M1188.8 581.8h0M1190.6 581.9h0"/><path stroke="#ffb300" d="M1239.1 583.2h0M1237.1 583.3h0M1242.3 583.8h0"/><path stroke="#ff9900" d="M1200.5 583.2h0M1202.4 583.8h0M1205.4 583.8h0"/><path stroke="#ff8000" d="M1207.9 583.7h0M1234.6 583.8h0M1210.3 584.0h0M1204.2 585.5h0M1208.9 585.5h0M1207.0 585.8h0"/><path stroke="#ff6600" d="M1197.3 583.5h0M1184.1 583.8h0M1187.1 584.1h0M1185.7 585.8h0M1232.9 585.9h0M1196.2 586.0h0"/><path stroke="#ff4c00" d="M1192.2 583.4h0M1194.9 583.4h0M1231.4 583.5h0M1229.0 583.7h0M1226.0 583.9h0M1213.0 584.0h0M1223.6 584.0h0M1218.8 584.1h0M1221.3 584.1h0M1189.4 584.2h0M1215.6 584.2h0M1188.5 585.6h0M1190.6 585.9h0M1212.1 585.9h0M1228.1 586.0h0"/><path stroke="#ff8000" d="M1201.0 586.2h0M1207.9 588.1h0M1205.3 588.4h0M1192.1 588.4h0"/><path stroke="#ff6600" d="M1193.5 586.1h0M1198.7 586.3h0M1218.7 587.8h0M1199.8 587.8h0M1194.7 587.9h0M1210.6 588.0h0M1202.9 588.2h0M1212.8 588.3h0M1190.2 588.4h0M1197.9 588.7h0M1187.5 588.7h0"/><path stroke="#ff4c00" d="M1222.7 586.2h0M1217.3 586.2h0M1214.6 586.3h0M1230.5 586.3h0M1224.8 586.4h0M1219.8 586.4h0M1221.0 587.9h0M1216.3 587.9h0M1224.1 588.1h0"/><path stroke="#ff8000" d="M1188.5 590.3h0M1199.2 590.6h0"/><path stroke="#ff6600" d="M1214.3 590.0h0M1201.7 590.2h0M1196.0 590.4h0M1193.6 590.4h0M1203.8 590.7h0M1209.7 590.8h0M1190.8 590.8h0M1206.3 590.8h0M1212.2 590.8h0"/><path stroke="#ff8000" d="M1202.6 592.7h0M1199.9 592.9h0M1190.2 593.2h0M1202.0 595.0h0M1188.6 595.0h0"/><path stroke="#ff6600" d="M1208.4 592.5h0M1205.7 592.7h0M1192.1 592.7h0M1195.4 592.8h0M1198.0 592.9h0M1204.1 594.7h0M1194.1 594.7h0M1196.3 594.8h0"/><path stroke="#ff6600" d="M1198.4 595.2h0M1191.4 595.3h0M1194.5 596.8h0M1192.1 596.8h0M1190.0 597.6h0"/></g>
<path class="st" d="M1038.0 485.9L1038.0 630.6M1038.0 485.9L1113.1 485.9L1115.8 485.9M1056.7 485.9L1056.7 557.8M1038.0 523.1L1056.7 523.1M1038.0 557.8L1069.4 557.8M1069.4 557.8L1069.4 590.5M1069.4 566.2L1112.1 566.2M1038.0 590.5L1116.4 590.5M1063.3 590.5L1063.3 594.4L1063.1 594.4L1063.0 629.0L1040.4 629.0L1041.0 630.6L1038.0 630.6M1063.3 594.4L1082.3 594.4L1082.3 609.6M1056.7 514.6L1104.1 514.6M1056.7 540.8L1091.8 540.8L1093.1 541.6L1095.6 542.5L1098.8 541.9L1101.4 542.9L1103.3 544.2L1104.8 545.2M1104.8 536.4L1138.0 536.4M1109.1 561.3L1134.7 561.2L1136.2 562.4L1136.7 563.0M1116.4 594.4L1144.7 594.4L1145.1 596.0L1143.4 598.4L1147.6 598.4M1112.1 566.2L1113.7 567.4L1114.7 568.2L1113.4 569.9L1114.7 571.5L1116.5 573.4L1116.4 594.4L1117.6 603.1L1117.3 616.6M1120.1 617.3L1120.1 621.3L1138.3 621.5M1120.1 621.3L1120.1 629.0L1121.0 630.5L1121.6 632.7L1123.2 634.9L1123.2 637.2L1121.9 640.8L1122.3 643.1L1121.4 646.0M1082.3 609.6L1084.2 610.8L1087.4 611.6L1089.3 612.3L1091.8 613.1L1094.4 612.9L1095.6 614.6L1098.2 614.6L1100.1 615.8L1102.0 614.2L1103.9 615.0L1105.5 616.2L1109.0 615.0L1112.1 614.8L1114.7 615.9L1117.3 616.6L1119.1 617.1L1120.1 617.3M1099.9 485.9L1100.6 492.6L1102.0 499.2L1102.6 505.8L1103.9 511.3L1104.1 514.6L1103.9 517.7L1104.8 520.4L1104.8 536.4L1104.0 539.0L1104.2 542.5L1104.8 545.2M1104.8 545.2L1105.5 547.6L1107.1 551.9L1108.2 555.3L1108.6 557.8L1108.8 560.3L1109.6 561.6L1110.5 563.7L1112.1 566.2M1115.8 485.9L1115.9 487.3L1116.6 488.6L1120.4 489.3L1124.2 489.8L1126.7 489.5L1129.9 491.2L1133.0 492.6L1136.2 494.8L1140.0 493.2L1145.1 494.5L1148.5 495.5L1142.5 499.2L1137.5 503.0L1132.4 507.2M1132.9 507.5L1131.2 508.0L1131.2 513.3L1130.8 513.9L1128.6 515.0L1127.5 516.8L1128.9 519.5L1128.3 522.2L1128.0 525.4L1129.5 527.0L1132.8 528.7L1135.2 531.6L1137.8 533.3L1138.0 536.4L1138.1 539.9L1139.0 542.9L1141.5 545.1L1143.2 546.8L1144.7 548.5L1144.4 550.6L1143.5 553.2L1139.0 554.5L1138.7 556.1L1139.7 557.4L1138.7 559.5L1136.8 561.6L1136.7 563.0L1136.2 564.5L1136.8 566.7L1137.1 568.6L1138.7 569.9L1141.1 572.3L1141.3 574.0L1142.2 575.4L1144.9 575.6L1144.6 577.4L1143.5 580.1L1144.4 581.7L1146.3 583.5L1148.7 585.9L1148.9 588.1L1151.2 590.6L1150.8 593.3L1148.9 594.4L1148.5 595.6L1147.6 598.4L1146.0 601.9L1145.1 605.2L1143.8 606.2L1142.2 608.5L1142.1 610.4L1140.0 613.1L1138.7 616.2L1138.1 618.4L1138.3 621.5L1138.7 624.5L1140.0 626.5L1138.7 629.0L1136.8 632.0L1135.6 634.9L1135.4 636.4L1147.4 636.4L1146.6 639.0L1147.9 641.6L1148.7 642.5M1141.6 545.1L1159.6 545.1M1161.4 551.4L1178.6 551.4L1178.6 551.9L1187.2 551.7M1161.3 551.4L1161.3 571.5L1160.9 573.6L1161.3 577.0L1160.0 579.3L1158.7 580.5L1158.4 582.5L1158.2 584.1M1178.5 551.9L1178.5 573.6M1205.8 560.8L1205.1 562.8L1204.9 564.9L1204.5 565.6L1203.7 568.6L1201.4 571.1L1199.2 572.2L1198.0 574.4L1195.6 575.6L1195.1 577.6L1193.5 579.1L1192.6 579.1L1192.4 578.6L1190.0 576.6L1188.1 577.5L1185.2 577.2L1182.4 576.0L1180.5 573.6L1178.5 573.6L1178.3 574.8L1178.3 576.2L1176.1 576.8L1174.8 576.6L1174.5 578.5L1172.6 580.3L1171.0 582.5L1169.1 581.3L1167.9 583.1L1166.0 582.7L1164.1 584.3L1161.1 582.7L1158.7 583.3L1158.2 584.1L1158.1 586.5L1155.5 587.1L1155.2 589.7L1154.6 589.8L1152.0 588.9L1151.2 590.6M1149.4 594.4L1157.9 594.4L1157.9 593.0L1167.9 593.3L1177.4 593.5L1185.7 593.7L1198.4 593.7M1198.4 593.7L1198.4 594.0L1235.2 594.0M1185.7 593.7L1189.4 591.7L1191.9 590.1L1194.5 588.3L1196.6 586.2L1194.5 585.1L1193.2 582.9L1192.6 581.3L1192.6 579.1M1196.6 586.2L1198.4 588.9L1201.3 588.6L1203.7 587.7L1207.1 586.5L1209.0 582.5L1211.3 577.8L1213.5 579.1L1216.2 576.3L1219.5 571.1L1222.8 573.3L1223.5 571.8M1143.8 606.2L1173.6 606.2L1181.7 606.2L1189.4 606.2M1157.1 606.2L1157.7 606.9L1155.4 629.7L1155.8 641.1M1173.6 606.2L1176.2 622.4L1177.4 626.7L1176.6 630.5L1177.4 636.4M1161.5 641.7L1161.9 640.5L1160.9 636.4L1177.4 636.4L1178.3 638.6L1195.1 639.6L1196.1 641.1L1196.7 637.9L1199.9 638.6M1189.4 606.2L1187.8 608.5L1190.7 610.4L1192.9 613.9L1195.1 616.5L1197.0 618.4L1199.5 621.5L1200.2 624.5L1202.1 628.2L1203.5 628.8M1189.4 606.2L1194.5 604.6L1202.5 605.0L1203.2 605.4L1204.1 607.6L1211.1 607.7L1218.2 614.9M1181.7 606.2L1183.4 604.1L1183.7 603.1L1186.9 601.7L1188.5 600.7L1190.7 598.8L1192.6 598.4L1196.1 597.4L1197.0 596.0L1198.3 594.8L1198.4 593.7M1205.8 568.5L1235.7 568.5M1205.8 549.5L1205.8 568.5M1210.6 547.0L1210.6 549.4L1238.5 549.4L1240.3 551.1L1240.4 552.8L1241.4 554.0L1242.6 554.8M1242.6 554.8L1241.4 556.1L1239.9 558.1L1239.5 560.3L1240.3 561.6L1241.0 562.8L1242.2 564.5L1241.4 565.5L1239.9 567.0L1238.1 567.8L1237.2 569.1L1237.2 570.3M1242.6 554.8L1247.7 557.8M1238.1 567.8L1236.9 567.5L1235.7 568.5L1235.7 578.8L1240.4 578.9M1232.4 582.2L1229.0 580.5L1228.1 580.1L1227.7 578.9L1226.2 579.3L1226.5 577.6L1227.9 575.6L1226.5 574.4L1224.9 573.6L1223.4 571.8L1222.7 569.5L1220.6 568.6L1218.9 569.9L1216.8 569.1L1215.1 570.5L1212.3 572.7L1212.3 568.5M1132.4 507.2L1132.9 507.5L1138.1 506.2L1140.6 505.3L1140.1 508.6L1143.0 508.8L1146.3 506.9L1148.9 506.3L1152.3 504.1L1153.8 502.5L1155.5 504.9L1156.5 505.8L1159.0 506.0L1162.2 509.0L1166.9 510.2L1171.2 507.9L1177.7 507.0L1177.4 509.5L1179.9 509.9L1181.5 509.5L1182.8 512.2L1183.7 514.1L1179.1 515.3L1174.2 513.3L1169.5 514.5L1167.2 517.7L1165.3 516.3L1164.4 516.3L1162.8 519.5L1160.9 522.2M1143.0 508.8L1144.9 511.0L1151.4 512.8L1154.2 514.1L1157.7 514.8L1159.3 516.3L1159.6 520.0L1160.9 522.2L1158.7 526.3L1158.4 527.3L1164.7 520.4L1162.5 524.9L1161.5 528.0L1160.6 531.1L1160.3 534.2L1159.1 540.3L1159.6 545.1L1160.9 550.6L1161.4 551.9L1163.1 552.6L1165.3 551.7L1165.8 551.4L1168.0 548.5L1169.5 545.9L1169.8 542.7L1169.5 539.9L1168.9 538.8L1167.7 535.1L1168.2 532.5L1167.8 531.5L1168.9 529.8L1169.6 526.4L1170.6 524.0L1173.9 521.3L1173.6 525.2L1175.0 522.7L1175.8 520.2L1177.7 519.8L1177.1 517.3L1179.1 516.1L1180.7 517.3L1184.3 519.1L1187.2 520.4L1187.3 522.6L1188.1 524.0L1188.1 526.3L1188.0 528.5L1187.2 529.8L1184.3 532.0L1184.7 535.1L1187.5 532.9L1188.3 532.5L1190.4 531.4L1192.3 533.3L1193.0 537.0L1193.7 540.8L1193.2 544.2L1191.0 545.5L1189.7 546.6L1189.1 548.9L1187.2 551.7L1190.0 553.2L1191.9 553.6L1194.5 554.2L1195.2 553.9L1198.3 553.6L1201.1 551.4L1204.0 550.2L1205.8 549.5L1208.4 548.1L1210.6 547.0L1213.3 545.2L1216.0 541.8L1215.1 538.5L1218.6 537.5L1224.3 538.4L1228.1 538.3L1231.2 536.7L1233.1 536.0L1233.1 532.9L1232.2 531.1L1235.7 528.0L1237.6 525.8L1241.4 523.3L1242.5 523.1L1251.2 523.0L1262.9 523.0L1265.6 520.4L1267.0 520.9L1267.3 519.3L1269.9 516.3L1270.8 514.5L1270.5 512.2L1272.1 510.2L1272.4 507.6L1272.4 534.2M1262.9 523.0L1262.6 526.7L1259.4 531.1L1258.5 534.7L1256.9 539.0L1256.2 542.1L1256.8 543.1M1251.2 523.0L1251.2 527.6L1250.9 532.0L1250.9 535.5L1251.8 536.4L1251.7 542.9L1250.2 548.9L1250.2 555.3L1248.8 557.0L1249.2 557.9M1251.7 542.9L1264.2 543.4L1266.1 541.9L1267.2 541.9M1250.2 548.9L1261.0 549.2L1263.7 549.2L1263.7 550.2L1264.0 551.2L1264.8 552.2L1265.3 553.6M1261.0 549.2L1261.0 555.1M1265.6 520.4L1265.9 527.6L1266.3 535.8L1267.2 538.6L1267.8 540.1M1272.4 534.2L1270.8 535.1L1271.1 535.9L1270.0 536.8L1269.4 537.7L1268.6 539.5L1267.8 540.1L1267.3 541.6L1267.2 542.3L1268.6 543.8L1266.8 545.1L1265.9 546.4L1266.4 547.2L1267.8 547.6L1268.3 549.8L1269.0 551.2L1270.5 551.7L1272.4 551.2L1272.4 552.2L1270.5 552.5L1268.6 553.2L1268.2 553.4L1268.5 551.6L1267.8 551.5L1266.6 552.8L1265.3 553.6L1264.8 553.9L1264.0 553.9L1263.5 551.1L1263.0 554.8L1260.7 555.1L1259.1 555.3L1254.0 555.7L1252.1 556.6L1249.9 557.6L1249.2 557.9L1248.5 558.8L1247.7 557.8L1246.7 560.3L1245.3 562.0L1247.1 562.3L1247.1 564.5L1246.6 566.6L1246.4 568.2L1245.5 570.3L1244.4 571.4L1242.6 573.6L1241.2 575.0L1241.0 572.9L1239.5 572.1L1238.2 571.1L1237.2 570.3M1246.9 561.2L1248.6 561.3L1251.5 560.9L1254.0 560.2L1256.9 559.1L1260.6 557.2L1257.8 557.8L1258.3 556.5L1255.9 558.0L1253.0 558.1L1250.2 558.4L1248.6 559.1L1248.3 559.6L1246.9 561.2M1237.2 569.5L1237.6 571.5L1238.2 573.6L1238.8 575.2L1240.1 576.0L1240.2 576.8L1240.4 578.9L1240.2 579.8L1239.2 582.2L1238.5 583.3L1236.9 586.1L1235.7 588.1L1234.6 589.5L1234.3 588.1L1234.7 586.1L1236.0 584.1L1236.7 582.6L1235.3 582.7L1235.0 580.9L1233.8 580.1L1232.5 577.6L1232.2 575.2L1233.1 572.8L1234.7 570.3L1233.9 569.9L1232.2 571.5L1231.2 572.3L1231.4 574.6L1231.0 576.8L1231.9 579.3L1232.4 582.2M1232.4 582.2L1232.9 583.4L1232.5 585.7L1232.2 587.5L1231.9 588.7L1232.5 590.5L1232.5 590.9L1234.4 591.0L1235.2 594.0L1236.0 596.8L1237.2 599.9L1237.4 604.2L1234.4 605.6L1231.0 609.3L1228.1 608.7L1225.5 610.0L1223.3 611.9L1222.0 615.0L1218.2 614.9L1216.0 616.3L1214.1 620.0L1213.2 621.5L1209.7 623.4L1206.5 625.2L1206.2 626.7L1204.6 627.9L1203.5 628.8L1202.1 631.2L1200.8 634.2L1200.2 635.7L1199.9 638.6L1200.2 640.8L1200.8 644.5L1202.7 649.6L1205.6 655.0L1205.2 657.6L1206.8 660.8L1208.4 665.4L1208.9 667.6L1208.2 673.9L1207.1 676.7L1202.1 678.7L1200.5 673.9L1197.6 671.5L1196.4 669.0L1194.8 667.2L1192.9 663.3L1191.6 661.2L1193.5 659.0L1191.1 658.3L1192.3 654.7L1191.9 651.8L1189.7 650.0L1187.5 647.4L1185.9 644.5L1182.4 643.3L1181.5 644.5L1175.2 646.1L1174.8 644.5L1172.9 642.8L1169.8 641.2L1163.4 641.4L1161.5 641.7L1160.3 642.0L1158.2 642.1L1158.4 638.8L1157.5 641.2L1155.8 641.1L1154.9 641.2L1152.7 640.8L1151.4 641.1L1149.8 641.6L1148.7 642.5L1147.6 643.4L1149.5 644.1L1150.8 644.9L1149.5 647.4L1150.4 648.5L1151.7 649.6L1151.2 651.1L1149.5 651.6L1149.2 649.3L1147.3 648.9L1145.7 649.3L1144.4 650.5L1141.6 650.7L1139.4 650.7L1137.5 648.9L1137.1 647.4L1134.0 647.4L1132.4 646.7L1131.1 647.2L1126.7 645.6L1124.5 645.5L1121.4 646.0L1117.8 647.4L1115.6 648.9L1115.3 645.6L1113.4 651.1L1112.1 651.6L1108.0 654.0L1105.2 655.8L1102.3 657.9L1101.0 659.7L1099.1 663.7L1099.5 668.3L1100.1 671.8L1100.4 672.8M1100.4 672.8L1098.2 673.2L1094.4 672.2L1089.9 669.9L1087.6 668.6L1087.0 666.1L1085.5 661.9L1081.7 656.8L1079.2 653.2L1076.6 648.5L1073.5 645.6L1072.5 645.2L1069.4 645.2L1067.1 645.5L1065.2 646.3L1064.3 648.5L1062.4 651.2L1060.2 650.2L1058.5 649.1L1054.7 647.0L1052.6 643.8L1051.3 639.7L1048.1 637.5L1044.3 633.5L1041.2 630.8"/>
<path class="st" style="stroke-width:3.3" d="M1237.2 603.8L1234.4 606.2L1231.2 608.5L1228.1 608.9L1224.3 611.6"/>
<path class="st" style="stroke-width:1.6" d="M1206.2 678.1L1207.8 682.3L1209.0 685.5"/>
<path class="st" style="stroke-width:1.6" d="M1104.5 654.0L1103.9 651.1L1103.4 648.2"/>
<path class="st" style="stroke-width:1.5" d="M1098.2 662.9L1094.4 662.9L1089.9 662.2"/>
<path class="st" style="stroke-width:3.3" d="M1099.5 660.4L1098.7 665.4L1099.8 671.1"/>
<path class="st" style="stroke-width:4.6" d="M1246.7 561.0L1252.1 559.1L1257.2 557.4L1260.4 556.1"/>
<path class="st" style="stroke-width:4.2" d="M1260.4 555.3L1264.2 553.6L1267.3 552.8L1272.4 551.9"/>
<path class="st" style="stroke-width:3.6" d="M1247.1 562.4L1246.4 567.8L1244.2 571.5L1241.4 574.8"/>
<path class="st" style="stroke-width:3.3" d="M1100.1 660.4L1103.9 655.8L1109.0 653.2L1114.0 649.6L1115.9 647.4"/>
<path class="st" style="stroke-width:3.3" d="M1124.8 645.6L1131.1 646.7L1135.6 647.1L1139.4 649.3L1143.8 649.6"/>
<path class="st" style="stroke-width:4.2" d="M1191.6 658.3L1192.6 661.9L1195.1 666.9L1196.4 669.0"/>
<path class="st" style="stroke-width:3.5" d="M1200.2 637.2L1201.4 632.0L1204.0 627.5L1207.8 624.5L1211.6 621.8L1214.1 619.2"/>
<path class="st" style="stroke-width:3.6" d="M1148.9 641.6L1154.6 640.8L1158.4 640.5L1162.2 640.8"/>
<circle cx="1185.3" cy="533.6" r="2.2" fill="#000"/><circle cx="1173.9" cy="523.3" r="1.7" fill="#000"/><circle cx="1160.0" cy="524.5" r="1.3" fill="#000"/><circle cx="1233.4" cy="534.2" r="1.4" fill="#000"/><circle cx="1191.9" cy="545.5" r="1.3" fill="#000"/><polyline points="1227.8,574.9 1223.8,576.4 1221.3,575.4" fill="none" stroke="#000" stroke-width="1.6" stroke-linejoin="round" stroke-linecap="round"/>
<polyline points="1228.3,580.4 1224.3,581.5 1222.3,584.0" fill="none" stroke="#000" stroke-width="1.6" stroke-linejoin="round" stroke-linecap="round"/>
<polyline points="1228.8,571.9 1225.8,570.9 1224.3,572.4" fill="none" stroke="#000" stroke-width="1.6" stroke-linejoin="round" stroke-linecap="round"/>
<polyline points="1231.3,606.2 1225.8,609.5 1220.8,612.4" fill="none" stroke="#000" stroke-width="1.6" stroke-linejoin="round" stroke-linecap="round"/>
<polyline points="1228.3,604.1 1225.3,603.6 1222.4,598.4" fill="none" stroke="#000" stroke-width="1.6" stroke-linejoin="round" stroke-linecap="round"/>
<polyline points="1227.3,605.6 1223.8,607.2 1220.6,607.6" fill="none" stroke="#000" stroke-width="1.6" stroke-linejoin="round" stroke-linecap="round"/>
<polyline points="1228.8,602.1 1224.8,600.1 1222.8,595.6" fill="none" stroke="#000" stroke-width="1.6" stroke-linejoin="round" stroke-linecap="round"/>
<polygon points="1227.0,577.4 1228.3,572.1 1231.8,569.9 1235.4,568.7 1238.5,569.6 1240.1,568.1 1241.2,570.9 1240.5,574.9 1240.9,578.7 1239.8,581.2 1236.3,588.0 1234.5,591.0 1236.3,596.6 1238.8,604.5 1236.0,601.9 1233.9,604.5 1231.0,606.7 1228.3,604.6 1230.3,601.6 1229.1,600.3 1227.8,595.4 1229.1,589.2 1225.0,586.6 1228.4,583.2" fill="#000" stroke="#000" stroke-width="1" stroke-linejoin="round"/>
<polygon points="1143.0,641.1 1146.6,639.5 1149.7,641.7 1151.0,647.2 1154.5,654.3 1149.7,650.1 1146.6,651.4 1142.2,653.1 1141.8,649.6 1139.4,647.3 1141.8,646.0 1143.8,643.3" fill="#000" stroke="#000" stroke-width="1" stroke-linejoin="round"/>
<text class="b" x="1058.3" y="464.5" font-size="12.6" text-anchor="start">100<tspan dy="-11.1" dx="2.3" font-size="5.6">o</tspan><tspan dy="11.1" dx="4.35">W</tspan></text>
<text class="b" x="1127.4" y="464.5" font-size="12.6" text-anchor="start">90<tspan dy="-11.1" dx="2.3" font-size="5.6">o</tspan><tspan dy="11.1" dx="4.35">W</tspan></text>
<text class="b" x="1191.6" y="464.5" font-size="12.6" text-anchor="start">80<tspan dy="-11.1" dx="2.3" font-size="5.6">o</tspan><tspan dy="11.1" dx="4.35">W</tspan></text>
<text class="b" x="1255.4" y="464.5" font-size="12.6" text-anchor="start">70<tspan dy="-11.1" dx="2.3" font-size="5.6">o</tspan><tspan dy="11.1" dx="4.35">W</tspan></text>
<text class="b" x="988.0" y="501.4" font-size="12.6" text-anchor="start">48<tspan dy="-11.1" dx="2.3" font-size="5.6">o</tspan><tspan dy="11.1" dx="4.35">N</tspan></text>
<text class="b" x="988.0" y="520.0" font-size="12.6" text-anchor="start">46<tspan dy="-11.1" dx="2.3" font-size="5.6">o</tspan><tspan dy="11.1" dx="4.35">N</tspan></text>
<text class="b" x="988.0" y="537.1" font-size="12.6" text-anchor="start">44<tspan dy="-11.1" dx="2.3" font-size="5.6">o</tspan><tspan dy="11.1" dx="4.35">N</tspan></text>
<text class="b" x="988.0" y="555.9" font-size="12.6" text-anchor="start">42<tspan dy="-11.1" dx="2.3" font-size="5.6">o</tspan><tspan dy="11.1" dx="4.35">N</tspan></text>
<text class="b" x="988.0" y="572.4" font-size="12.6" text-anchor="start">40<tspan dy="-11.1" dx="2.3" font-size="5.6">o</tspan><tspan dy="11.1" dx="4.35">N</tspan></text>
<text class="b" x="988.0" y="587.9" font-size="12.6" text-anchor="start">38<tspan dy="-11.1" dx="2.3" font-size="5.6">o</tspan><tspan dy="11.1" dx="4.35">N</tspan></text>
<text class="b" x="988.0" y="604.6" font-size="12.6" text-anchor="start">36<tspan dy="-11.1" dx="2.3" font-size="5.6">o</tspan><tspan dy="11.1" dx="4.35">N</tspan></text>
<text class="b" x="988.0" y="619.0" font-size="12.6" text-anchor="start">34<tspan dy="-11.1" dx="2.3" font-size="5.6">o</tspan><tspan dy="11.1" dx="4.35">N</tspan></text>
<text class="b" x="988.0" y="636.1" font-size="12.6" text-anchor="start">32<tspan dy="-11.1" dx="2.3" font-size="5.6">o</tspan><tspan dy="11.1" dx="4.35">N</tspan></text>
<text class="b" x="988.0" y="650.4" font-size="12.6" text-anchor="start">30<tspan dy="-11.1" dx="2.3" font-size="5.6">o</tspan><tspan dy="11.1" dx="4.35">N</tspan></text>
<text class="b" x="988.0" y="663.1" font-size="12.6" text-anchor="start">28<tspan dy="-11.1" dx="2.3" font-size="5.6">o</tspan><tspan dy="11.1" dx="4.35">N</tspan></text>
<text class="b" x="988.0" y="677.9" font-size="12.6" text-anchor="start">26<tspan dy="-11.1" dx="2.3" font-size="5.6">o</tspan><tspan dy="11.1" dx="4.35">N</tspan></text>
<text class="b" x="988.0" y="692.6" font-size="12.6" text-anchor="start">24<tspan dy="-11.1" dx="2.3" font-size="5.6">o</tspan><tspan dy="11.1" dx="4.35">N</tspan></text>
<text class="b" x="988.0" y="704.8" font-size="12.6" text-anchor="start">22<tspan dy="-11.1" dx="2.3" font-size="5.6">o</tspan><tspan dy="11.1" dx="4.35">N</tspan></text>
<text class="b" x="957.5" y="731.4" font-size="23" textLength="387.9" lengthAdjust="spacing">Surface Skin Temperature (K)</text>
<rect x="1285.1" y="483.3" width="23.7" height="219.4" fill="url(#jet)" stroke="#262626" stroke-width="0.8"/>
<line x1="1306.3" x2="1308.8" y1="517.5" y2="517.5" stroke="#262626" stroke-width="0.8"/><text class="b" x="1317.0" y="525.1" font-size="20.8">290</text>
<line x1="1306.3" x2="1308.8" y1="556.5" y2="556.5" stroke="#262626" stroke-width="0.8"/><text class="b" x="1317.0" y="564.1" font-size="20.8">280</text>
<line x1="1306.3" x2="1308.8" y1="596.0" y2="596.0" stroke="#262626" stroke-width="0.8"/><text class="b" x="1317.0" y="603.6" font-size="20.8">270</text>
<line x1="1306.3" x2="1308.8" y1="635.0" y2="635.0" stroke="#262626" stroke-width="0.8"/><text class="b" x="1317.0" y="642.6" font-size="20.8">260</text>
<line x1="1306.3" x2="1308.8" y1="674.5" y2="674.5" stroke="#262626" stroke-width="0.8"/><text class="b" x="1317.0" y="682.1" font-size="20.8">250</text>
</g>
</svg>
</body></html>
